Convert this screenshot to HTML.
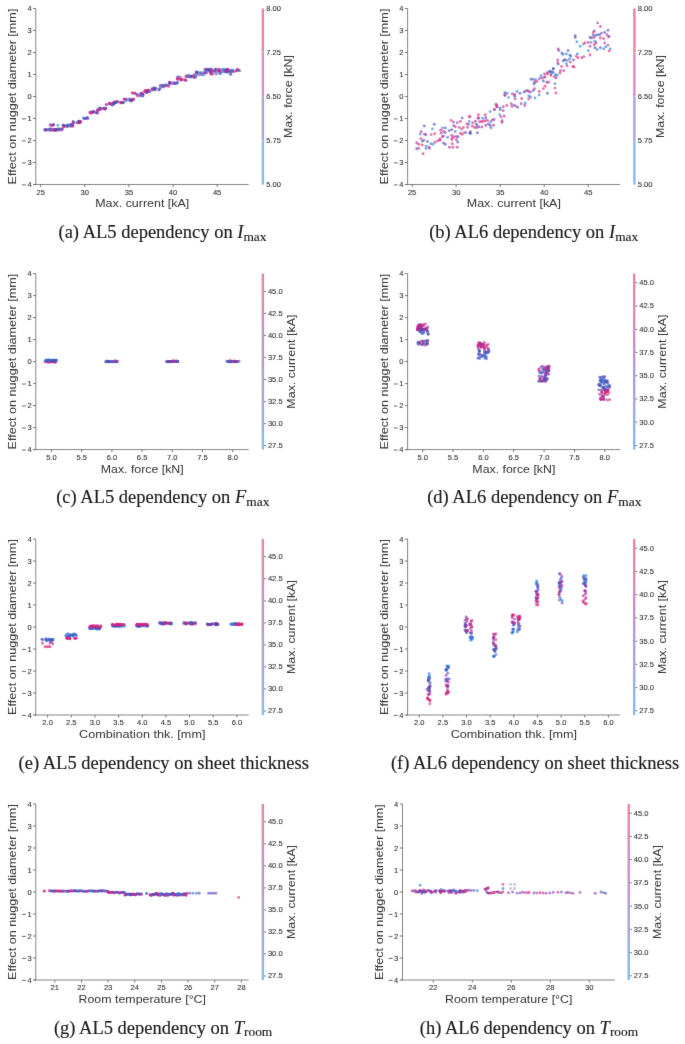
<!DOCTYPE html>
<html><head><meta charset="utf-8"><style>
html,body{margin:0;padding:0;background:#fff;}
svg{display:block;font-family:"Liberation Sans",sans-serif;}
</style></head><body>
<svg width="685" height="1044" viewBox="0 0 685 1044" font-family="Liberation Sans, sans-serif">
<defs><filter id="soft" x="0" y="0" width="685" height="1044" filterUnits="userSpaceOnUse" color-interpolation-filters="sRGB"><feConvolveMatrix order="3" kernelMatrix="0.00524 0.06192 0.00524 0.06192 0.73137 0.06192 0.00524 0.06192 0.00524" edgeMode="duplicate"/></filter></defs>
<g filter="url(#soft)">
<rect width="685" height="1044" fill="#ffffff"/>
<line x1="35.80" y1="8.50" x2="35.80" y2="185.00" stroke="#868686" stroke-width="1.00"/>
<line x1="34.20" y1="184.50" x2="248.70" y2="184.50" stroke="#868686" stroke-width="1.00"/>
<line x1="33.00" y1="184.50" x2="35.80" y2="184.50" stroke="#5a5a5a" stroke-width="0.8"/>
<text x="31.60" y="187.20" font-size="7.92" text-anchor="end" fill="#333333" stroke="#333333" stroke-width="0.10" textLength="4.20" lengthAdjust="spacingAndGlyphs">4</text>
<line x1="22.00" y1="184.90" x2="25.90" y2="184.90" stroke="#5a5a5a" stroke-width="0.9"/>
<line x1="33.00" y1="162.50" x2="35.80" y2="162.50" stroke="#5a5a5a" stroke-width="0.8"/>
<text x="31.60" y="165.20" font-size="7.92" text-anchor="end" fill="#333333" stroke="#333333" stroke-width="0.10" textLength="4.20" lengthAdjust="spacingAndGlyphs">3</text>
<line x1="22.00" y1="162.90" x2="25.90" y2="162.90" stroke="#5a5a5a" stroke-width="0.9"/>
<line x1="33.00" y1="140.50" x2="35.80" y2="140.50" stroke="#5a5a5a" stroke-width="0.8"/>
<text x="31.60" y="143.20" font-size="7.92" text-anchor="end" fill="#333333" stroke="#333333" stroke-width="0.10" textLength="4.20" lengthAdjust="spacingAndGlyphs">2</text>
<line x1="22.00" y1="140.90" x2="25.90" y2="140.90" stroke="#5a5a5a" stroke-width="0.9"/>
<line x1="33.00" y1="118.50" x2="35.80" y2="118.50" stroke="#5a5a5a" stroke-width="0.8"/>
<text x="31.60" y="121.20" font-size="7.92" text-anchor="end" fill="#333333" stroke="#333333" stroke-width="0.10" textLength="4.20" lengthAdjust="spacingAndGlyphs">1</text>
<line x1="22.00" y1="118.90" x2="25.90" y2="118.90" stroke="#5a5a5a" stroke-width="0.9"/>
<line x1="33.00" y1="96.50" x2="35.80" y2="96.50" stroke="#5a5a5a" stroke-width="0.8"/>
<text x="31.60" y="99.20" font-size="7.92" text-anchor="end" fill="#333333" stroke="#333333" stroke-width="0.10" textLength="4.20" lengthAdjust="spacingAndGlyphs">0</text>
<line x1="33.00" y1="74.50" x2="35.80" y2="74.50" stroke="#5a5a5a" stroke-width="0.8"/>
<text x="31.60" y="77.20" font-size="7.92" text-anchor="end" fill="#333333" stroke="#333333" stroke-width="0.10" textLength="4.20" lengthAdjust="spacingAndGlyphs">1</text>
<line x1="33.00" y1="52.50" x2="35.80" y2="52.50" stroke="#5a5a5a" stroke-width="0.8"/>
<text x="31.60" y="55.20" font-size="7.92" text-anchor="end" fill="#333333" stroke="#333333" stroke-width="0.10" textLength="4.20" lengthAdjust="spacingAndGlyphs">2</text>
<line x1="33.00" y1="30.50" x2="35.80" y2="30.50" stroke="#5a5a5a" stroke-width="0.8"/>
<text x="31.60" y="33.20" font-size="7.92" text-anchor="end" fill="#333333" stroke="#333333" stroke-width="0.10" textLength="4.20" lengthAdjust="spacingAndGlyphs">3</text>
<line x1="33.00" y1="8.50" x2="35.80" y2="8.50" stroke="#5a5a5a" stroke-width="0.8"/>
<text x="31.60" y="11.20" font-size="7.92" text-anchor="end" fill="#333333" stroke="#333333" stroke-width="0.10" textLength="4.20" lengthAdjust="spacingAndGlyphs">4</text>
<line x1="40.70" y1="184.50" x2="40.70" y2="187.10" stroke="#5a5a5a" stroke-width="0.8"/>
<text x="40.70" y="194.80" font-size="7.92" text-anchor="middle" fill="#333333" stroke="#333333" stroke-width="0.10" textLength="8.40" lengthAdjust="spacingAndGlyphs">25</text>
<line x1="84.80" y1="184.50" x2="84.80" y2="187.10" stroke="#5a5a5a" stroke-width="0.8"/>
<text x="84.80" y="194.80" font-size="7.92" text-anchor="middle" fill="#333333" stroke="#333333" stroke-width="0.10" textLength="8.40" lengthAdjust="spacingAndGlyphs">30</text>
<line x1="128.90" y1="184.50" x2="128.90" y2="187.10" stroke="#5a5a5a" stroke-width="0.8"/>
<text x="128.90" y="194.80" font-size="7.92" text-anchor="middle" fill="#333333" stroke="#333333" stroke-width="0.10" textLength="8.40" lengthAdjust="spacingAndGlyphs">35</text>
<line x1="173.00" y1="184.50" x2="173.00" y2="187.10" stroke="#5a5a5a" stroke-width="0.8"/>
<text x="173.00" y="194.80" font-size="7.92" text-anchor="middle" fill="#333333" stroke="#333333" stroke-width="0.10" textLength="8.40" lengthAdjust="spacingAndGlyphs">40</text>
<line x1="217.10" y1="184.50" x2="217.10" y2="187.10" stroke="#5a5a5a" stroke-width="0.8"/>
<text x="217.10" y="194.80" font-size="7.92" text-anchor="middle" fill="#333333" stroke="#333333" stroke-width="0.10" textLength="8.40" lengthAdjust="spacingAndGlyphs">45</text>
<text x="142.25" y="207.40" font-size="10.85" text-anchor="middle" fill="#333333" textLength="94.09" lengthAdjust="spacingAndGlyphs">Max. current [kA]</text>
<text x="16.20" y="96.50" font-size="10.85" text-anchor="middle" fill="#333333" textLength="175.78" lengthAdjust="spacingAndGlyphs" transform="rotate(-90 16.20 96.50)">Effect on nugget diameter [mm]</text>
<rect x="261.70" y="140.50" width="2.40" height="44.00" fill="#86bcea"/>
<rect x="261.70" y="96.50" width="2.40" height="44.00" fill="#aaa4da"/>
<rect x="261.70" y="52.50" width="2.40" height="44.00" fill="#d68cc4"/>
<rect x="261.70" y="8.50" width="2.40" height="44.00" fill="#ec82a4"/>
<text x="266.20" y="186.90" font-size="7.92" text-anchor="start" fill="#333333" stroke="#333333" stroke-width="0.10" textLength="14.70" lengthAdjust="spacingAndGlyphs">5.00</text>
<text x="266.20" y="142.90" font-size="7.92" text-anchor="start" fill="#333333" stroke="#333333" stroke-width="0.10" textLength="14.70" lengthAdjust="spacingAndGlyphs">5.75</text>
<text x="266.20" y="98.90" font-size="7.92" text-anchor="start" fill="#333333" stroke="#333333" stroke-width="0.10" textLength="14.70" lengthAdjust="spacingAndGlyphs">6.50</text>
<text x="266.20" y="54.90" font-size="7.92" text-anchor="start" fill="#333333" stroke="#333333" stroke-width="0.10" textLength="14.70" lengthAdjust="spacingAndGlyphs">7.25</text>
<text x="266.20" y="10.90" font-size="7.92" text-anchor="start" fill="#333333" stroke="#333333" stroke-width="0.10" textLength="14.70" lengthAdjust="spacingAndGlyphs">8.00</text>
<text x="292.20" y="96.50" font-size="10.85" text-anchor="middle" fill="#333333" textLength="82.97" lengthAdjust="spacingAndGlyphs" transform="rotate(-90 292.20 96.50)">Max. force [kN]</text>
<text x="58.50" y="238.30" font-family="Liberation Serif" font-size="18.5" fill="#1a1a1a" stroke="#1a1a1a" stroke-width="0.15">(a) AL5 dependency on 
<tspan font-style="italic">I</tspan><tspan font-size="13.4" dy="2.3">max</tspan>
</text>
<line x1="407.60" y1="8.50" x2="407.60" y2="185.00" stroke="#868686" stroke-width="1.00"/>
<line x1="406.00" y1="184.50" x2="620.10" y2="184.50" stroke="#868686" stroke-width="1.00"/>
<line x1="404.80" y1="184.50" x2="407.60" y2="184.50" stroke="#5a5a5a" stroke-width="0.8"/>
<text x="403.40" y="187.20" font-size="7.92" text-anchor="end" fill="#333333" stroke="#333333" stroke-width="0.10" textLength="4.20" lengthAdjust="spacingAndGlyphs">4</text>
<line x1="393.80" y1="184.90" x2="397.70" y2="184.90" stroke="#5a5a5a" stroke-width="0.9"/>
<line x1="404.80" y1="162.50" x2="407.60" y2="162.50" stroke="#5a5a5a" stroke-width="0.8"/>
<text x="403.40" y="165.20" font-size="7.92" text-anchor="end" fill="#333333" stroke="#333333" stroke-width="0.10" textLength="4.20" lengthAdjust="spacingAndGlyphs">3</text>
<line x1="393.80" y1="162.90" x2="397.70" y2="162.90" stroke="#5a5a5a" stroke-width="0.9"/>
<line x1="404.80" y1="140.50" x2="407.60" y2="140.50" stroke="#5a5a5a" stroke-width="0.8"/>
<text x="403.40" y="143.20" font-size="7.92" text-anchor="end" fill="#333333" stroke="#333333" stroke-width="0.10" textLength="4.20" lengthAdjust="spacingAndGlyphs">2</text>
<line x1="393.80" y1="140.90" x2="397.70" y2="140.90" stroke="#5a5a5a" stroke-width="0.9"/>
<line x1="404.80" y1="118.50" x2="407.60" y2="118.50" stroke="#5a5a5a" stroke-width="0.8"/>
<text x="403.40" y="121.20" font-size="7.92" text-anchor="end" fill="#333333" stroke="#333333" stroke-width="0.10" textLength="4.20" lengthAdjust="spacingAndGlyphs">1</text>
<line x1="393.80" y1="118.90" x2="397.70" y2="118.90" stroke="#5a5a5a" stroke-width="0.9"/>
<line x1="404.80" y1="96.50" x2="407.60" y2="96.50" stroke="#5a5a5a" stroke-width="0.8"/>
<text x="403.40" y="99.20" font-size="7.92" text-anchor="end" fill="#333333" stroke="#333333" stroke-width="0.10" textLength="4.20" lengthAdjust="spacingAndGlyphs">0</text>
<line x1="404.80" y1="74.50" x2="407.60" y2="74.50" stroke="#5a5a5a" stroke-width="0.8"/>
<text x="403.40" y="77.20" font-size="7.92" text-anchor="end" fill="#333333" stroke="#333333" stroke-width="0.10" textLength="4.20" lengthAdjust="spacingAndGlyphs">1</text>
<line x1="404.80" y1="52.50" x2="407.60" y2="52.50" stroke="#5a5a5a" stroke-width="0.8"/>
<text x="403.40" y="55.20" font-size="7.92" text-anchor="end" fill="#333333" stroke="#333333" stroke-width="0.10" textLength="4.20" lengthAdjust="spacingAndGlyphs">2</text>
<line x1="404.80" y1="30.50" x2="407.60" y2="30.50" stroke="#5a5a5a" stroke-width="0.8"/>
<text x="403.40" y="33.20" font-size="7.92" text-anchor="end" fill="#333333" stroke="#333333" stroke-width="0.10" textLength="4.20" lengthAdjust="spacingAndGlyphs">3</text>
<line x1="404.80" y1="8.50" x2="407.60" y2="8.50" stroke="#5a5a5a" stroke-width="0.8"/>
<text x="403.40" y="11.20" font-size="7.92" text-anchor="end" fill="#333333" stroke="#333333" stroke-width="0.10" textLength="4.20" lengthAdjust="spacingAndGlyphs">4</text>
<line x1="412.10" y1="184.50" x2="412.10" y2="187.10" stroke="#5a5a5a" stroke-width="0.8"/>
<text x="412.10" y="194.80" font-size="7.92" text-anchor="middle" fill="#333333" stroke="#333333" stroke-width="0.10" textLength="8.40" lengthAdjust="spacingAndGlyphs">25</text>
<line x1="456.15" y1="184.50" x2="456.15" y2="187.10" stroke="#5a5a5a" stroke-width="0.8"/>
<text x="456.15" y="194.80" font-size="7.92" text-anchor="middle" fill="#333333" stroke="#333333" stroke-width="0.10" textLength="8.40" lengthAdjust="spacingAndGlyphs">30</text>
<line x1="500.20" y1="184.50" x2="500.20" y2="187.10" stroke="#5a5a5a" stroke-width="0.8"/>
<text x="500.20" y="194.80" font-size="7.92" text-anchor="middle" fill="#333333" stroke="#333333" stroke-width="0.10" textLength="8.40" lengthAdjust="spacingAndGlyphs">35</text>
<line x1="544.25" y1="184.50" x2="544.25" y2="187.10" stroke="#5a5a5a" stroke-width="0.8"/>
<text x="544.25" y="194.80" font-size="7.92" text-anchor="middle" fill="#333333" stroke="#333333" stroke-width="0.10" textLength="8.40" lengthAdjust="spacingAndGlyphs">40</text>
<line x1="588.30" y1="184.50" x2="588.30" y2="187.10" stroke="#5a5a5a" stroke-width="0.8"/>
<text x="588.30" y="194.80" font-size="7.92" text-anchor="middle" fill="#333333" stroke="#333333" stroke-width="0.10" textLength="8.40" lengthAdjust="spacingAndGlyphs">45</text>
<text x="513.85" y="207.40" font-size="10.85" text-anchor="middle" fill="#333333" textLength="94.09" lengthAdjust="spacingAndGlyphs">Max. current [kA]</text>
<text x="388.00" y="96.50" font-size="10.85" text-anchor="middle" fill="#333333" textLength="175.78" lengthAdjust="spacingAndGlyphs" transform="rotate(-90 388.00 96.50)">Effect on nugget diameter [mm]</text>
<rect x="633.20" y="140.50" width="2.40" height="44.00" fill="#86bcea"/>
<rect x="633.20" y="96.50" width="2.40" height="44.00" fill="#aaa4da"/>
<rect x="633.20" y="52.50" width="2.40" height="44.00" fill="#d68cc4"/>
<rect x="633.20" y="8.50" width="2.40" height="44.00" fill="#ec82a4"/>
<text x="637.70" y="186.90" font-size="7.92" text-anchor="start" fill="#333333" stroke="#333333" stroke-width="0.10" textLength="14.70" lengthAdjust="spacingAndGlyphs">5.00</text>
<text x="637.70" y="142.90" font-size="7.92" text-anchor="start" fill="#333333" stroke="#333333" stroke-width="0.10" textLength="14.70" lengthAdjust="spacingAndGlyphs">5.75</text>
<text x="637.70" y="98.90" font-size="7.92" text-anchor="start" fill="#333333" stroke="#333333" stroke-width="0.10" textLength="14.70" lengthAdjust="spacingAndGlyphs">6.50</text>
<text x="637.70" y="54.90" font-size="7.92" text-anchor="start" fill="#333333" stroke="#333333" stroke-width="0.10" textLength="14.70" lengthAdjust="spacingAndGlyphs">7.25</text>
<text x="637.70" y="10.90" font-size="7.92" text-anchor="start" fill="#333333" stroke="#333333" stroke-width="0.10" textLength="14.70" lengthAdjust="spacingAndGlyphs">8.00</text>
<text x="663.70" y="96.50" font-size="10.85" text-anchor="middle" fill="#333333" textLength="82.97" lengthAdjust="spacingAndGlyphs" transform="rotate(-90 663.70 96.50)">Max. force [kN]</text>
<text x="429.20" y="238.30" font-family="Liberation Serif" font-size="18.5" fill="#1a1a1a" stroke="#1a1a1a" stroke-width="0.15">(b) AL6 dependency on 
<tspan font-style="italic">I</tspan><tspan font-size="13.4" dy="2.3">max</tspan>
</text>
<line x1="35.80" y1="273.60" x2="35.80" y2="450.10" stroke="#868686" stroke-width="1.00"/>
<line x1="34.20" y1="449.60" x2="248.70" y2="449.60" stroke="#868686" stroke-width="1.00"/>
<line x1="33.00" y1="449.60" x2="35.80" y2="449.60" stroke="#5a5a5a" stroke-width="0.8"/>
<text x="31.60" y="452.30" font-size="7.92" text-anchor="end" fill="#333333" stroke="#333333" stroke-width="0.10" textLength="4.20" lengthAdjust="spacingAndGlyphs">4</text>
<line x1="22.00" y1="450.00" x2="25.90" y2="450.00" stroke="#5a5a5a" stroke-width="0.9"/>
<line x1="33.00" y1="427.60" x2="35.80" y2="427.60" stroke="#5a5a5a" stroke-width="0.8"/>
<text x="31.60" y="430.30" font-size="7.92" text-anchor="end" fill="#333333" stroke="#333333" stroke-width="0.10" textLength="4.20" lengthAdjust="spacingAndGlyphs">3</text>
<line x1="22.00" y1="428.00" x2="25.90" y2="428.00" stroke="#5a5a5a" stroke-width="0.9"/>
<line x1="33.00" y1="405.60" x2="35.80" y2="405.60" stroke="#5a5a5a" stroke-width="0.8"/>
<text x="31.60" y="408.30" font-size="7.92" text-anchor="end" fill="#333333" stroke="#333333" stroke-width="0.10" textLength="4.20" lengthAdjust="spacingAndGlyphs">2</text>
<line x1="22.00" y1="406.00" x2="25.90" y2="406.00" stroke="#5a5a5a" stroke-width="0.9"/>
<line x1="33.00" y1="383.60" x2="35.80" y2="383.60" stroke="#5a5a5a" stroke-width="0.8"/>
<text x="31.60" y="386.30" font-size="7.92" text-anchor="end" fill="#333333" stroke="#333333" stroke-width="0.10" textLength="4.20" lengthAdjust="spacingAndGlyphs">1</text>
<line x1="22.00" y1="384.00" x2="25.90" y2="384.00" stroke="#5a5a5a" stroke-width="0.9"/>
<line x1="33.00" y1="361.60" x2="35.80" y2="361.60" stroke="#5a5a5a" stroke-width="0.8"/>
<text x="31.60" y="364.30" font-size="7.92" text-anchor="end" fill="#333333" stroke="#333333" stroke-width="0.10" textLength="4.20" lengthAdjust="spacingAndGlyphs">0</text>
<line x1="33.00" y1="339.60" x2="35.80" y2="339.60" stroke="#5a5a5a" stroke-width="0.8"/>
<text x="31.60" y="342.30" font-size="7.92" text-anchor="end" fill="#333333" stroke="#333333" stroke-width="0.10" textLength="4.20" lengthAdjust="spacingAndGlyphs">1</text>
<line x1="33.00" y1="317.60" x2="35.80" y2="317.60" stroke="#5a5a5a" stroke-width="0.8"/>
<text x="31.60" y="320.30" font-size="7.92" text-anchor="end" fill="#333333" stroke="#333333" stroke-width="0.10" textLength="4.20" lengthAdjust="spacingAndGlyphs">2</text>
<line x1="33.00" y1="295.60" x2="35.80" y2="295.60" stroke="#5a5a5a" stroke-width="0.8"/>
<text x="31.60" y="298.30" font-size="7.92" text-anchor="end" fill="#333333" stroke="#333333" stroke-width="0.10" textLength="4.20" lengthAdjust="spacingAndGlyphs">3</text>
<line x1="33.00" y1="273.60" x2="35.80" y2="273.60" stroke="#5a5a5a" stroke-width="0.8"/>
<text x="31.60" y="276.30" font-size="7.92" text-anchor="end" fill="#333333" stroke="#333333" stroke-width="0.10" textLength="4.20" lengthAdjust="spacingAndGlyphs">4</text>
<line x1="51.50" y1="449.60" x2="51.50" y2="452.20" stroke="#5a5a5a" stroke-width="0.8"/>
<text x="51.50" y="459.90" font-size="7.92" text-anchor="middle" fill="#333333" stroke="#333333" stroke-width="0.10" textLength="10.50" lengthAdjust="spacingAndGlyphs">5.0</text>
<line x1="81.70" y1="449.60" x2="81.70" y2="452.20" stroke="#5a5a5a" stroke-width="0.8"/>
<text x="81.70" y="459.90" font-size="7.92" text-anchor="middle" fill="#333333" stroke="#333333" stroke-width="0.10" textLength="10.50" lengthAdjust="spacingAndGlyphs">5.5</text>
<line x1="111.90" y1="449.60" x2="111.90" y2="452.20" stroke="#5a5a5a" stroke-width="0.8"/>
<text x="111.90" y="459.90" font-size="7.92" text-anchor="middle" fill="#333333" stroke="#333333" stroke-width="0.10" textLength="10.50" lengthAdjust="spacingAndGlyphs">6.0</text>
<line x1="142.10" y1="449.60" x2="142.10" y2="452.20" stroke="#5a5a5a" stroke-width="0.8"/>
<text x="142.10" y="459.90" font-size="7.92" text-anchor="middle" fill="#333333" stroke="#333333" stroke-width="0.10" textLength="10.50" lengthAdjust="spacingAndGlyphs">6.5</text>
<line x1="172.30" y1="449.60" x2="172.30" y2="452.20" stroke="#5a5a5a" stroke-width="0.8"/>
<text x="172.30" y="459.90" font-size="7.92" text-anchor="middle" fill="#333333" stroke="#333333" stroke-width="0.10" textLength="10.50" lengthAdjust="spacingAndGlyphs">7.0</text>
<line x1="202.50" y1="449.60" x2="202.50" y2="452.20" stroke="#5a5a5a" stroke-width="0.8"/>
<text x="202.50" y="459.90" font-size="7.92" text-anchor="middle" fill="#333333" stroke="#333333" stroke-width="0.10" textLength="10.50" lengthAdjust="spacingAndGlyphs">7.5</text>
<line x1="232.70" y1="449.60" x2="232.70" y2="452.20" stroke="#5a5a5a" stroke-width="0.8"/>
<text x="232.70" y="459.90" font-size="7.92" text-anchor="middle" fill="#333333" stroke="#333333" stroke-width="0.10" textLength="10.50" lengthAdjust="spacingAndGlyphs">8.0</text>
<text x="142.25" y="472.50" font-size="10.85" text-anchor="middle" fill="#333333" textLength="82.97" lengthAdjust="spacingAndGlyphs">Max. force [kN]</text>
<text x="16.20" y="361.60" font-size="10.85" text-anchor="middle" fill="#333333" textLength="175.78" lengthAdjust="spacingAndGlyphs" transform="rotate(-90 16.20 361.60)">Effect on nugget diameter [mm]</text>
<defs><linearGradient id="g1_0" x1="0" y1="1" x2="0" y2="0">
<stop offset="0.00" stop-color="#86bcea"/>
<stop offset="0.10" stop-color="#90b4e5"/>
<stop offset="0.20" stop-color="#9bade0"/>
<stop offset="0.30" stop-color="#a5a5da"/>
<stop offset="0.40" stop-color="#b09ed5"/>
<stop offset="0.50" stop-color="#ba96d0"/>
<stop offset="0.60" stop-color="#c492c7"/>
<stop offset="0.70" stop-color="#ce8ebe"/>
<stop offset="0.80" stop-color="#d88ab6"/>
<stop offset="0.90" stop-color="#e286ad"/>
<stop offset="1.00" stop-color="#ec82a4"/>
</linearGradient></defs>
<rect x="261.70" y="273.60" width="2.40" height="176.00" fill="url(#g1_0)"/>
<line x1="264.10" y1="291.40" x2="266.10" y2="291.40" stroke="#5a5a5a" stroke-width="0.8"/>
<text x="267.90" y="293.80" font-size="7.92" text-anchor="start" fill="#333333" stroke="#333333" stroke-width="0.10" textLength="14.70" lengthAdjust="spacingAndGlyphs">45.0</text>
<line x1="264.10" y1="313.43" x2="266.10" y2="313.43" stroke="#5a5a5a" stroke-width="0.8"/>
<text x="267.90" y="315.83" font-size="7.92" text-anchor="start" fill="#333333" stroke="#333333" stroke-width="0.10" textLength="14.70" lengthAdjust="spacingAndGlyphs">42.5</text>
<line x1="264.10" y1="335.46" x2="266.10" y2="335.46" stroke="#5a5a5a" stroke-width="0.8"/>
<text x="267.90" y="337.86" font-size="7.92" text-anchor="start" fill="#333333" stroke="#333333" stroke-width="0.10" textLength="14.70" lengthAdjust="spacingAndGlyphs">40.0</text>
<line x1="264.10" y1="357.49" x2="266.10" y2="357.49" stroke="#5a5a5a" stroke-width="0.8"/>
<text x="267.90" y="359.89" font-size="7.92" text-anchor="start" fill="#333333" stroke="#333333" stroke-width="0.10" textLength="14.70" lengthAdjust="spacingAndGlyphs">37.5</text>
<line x1="264.10" y1="379.52" x2="266.10" y2="379.52" stroke="#5a5a5a" stroke-width="0.8"/>
<text x="267.90" y="381.92" font-size="7.92" text-anchor="start" fill="#333333" stroke="#333333" stroke-width="0.10" textLength="14.70" lengthAdjust="spacingAndGlyphs">35.0</text>
<line x1="264.10" y1="401.55" x2="266.10" y2="401.55" stroke="#5a5a5a" stroke-width="0.8"/>
<text x="267.90" y="403.95" font-size="7.92" text-anchor="start" fill="#333333" stroke="#333333" stroke-width="0.10" textLength="14.70" lengthAdjust="spacingAndGlyphs">32.5</text>
<line x1="264.10" y1="423.58" x2="266.10" y2="423.58" stroke="#5a5a5a" stroke-width="0.8"/>
<text x="267.90" y="425.98" font-size="7.92" text-anchor="start" fill="#333333" stroke="#333333" stroke-width="0.10" textLength="14.70" lengthAdjust="spacingAndGlyphs">30.0</text>
<line x1="264.10" y1="445.61" x2="266.10" y2="445.61" stroke="#5a5a5a" stroke-width="0.8"/>
<text x="267.90" y="448.01" font-size="7.92" text-anchor="start" fill="#333333" stroke="#333333" stroke-width="0.10" textLength="14.70" lengthAdjust="spacingAndGlyphs">27.5</text>
<text x="295.10" y="361.60" font-size="10.85" text-anchor="middle" fill="#333333" textLength="94.09" lengthAdjust="spacingAndGlyphs" transform="rotate(-90 295.10 361.60)">Max. current [kA]</text>
<text x="56.20" y="503.40" font-family="Liberation Serif" font-size="18.5" fill="#1a1a1a" stroke="#1a1a1a" stroke-width="0.15">(c) AL5 dependency on 
<tspan font-style="italic">F</tspan><tspan font-size="13.4" dy="2.3">max</tspan>
</text>
<line x1="407.60" y1="273.60" x2="407.60" y2="450.10" stroke="#868686" stroke-width="1.00"/>
<line x1="406.00" y1="449.60" x2="620.10" y2="449.60" stroke="#868686" stroke-width="1.00"/>
<line x1="404.80" y1="449.60" x2="407.60" y2="449.60" stroke="#5a5a5a" stroke-width="0.8"/>
<text x="403.40" y="452.30" font-size="7.92" text-anchor="end" fill="#333333" stroke="#333333" stroke-width="0.10" textLength="4.20" lengthAdjust="spacingAndGlyphs">4</text>
<line x1="393.80" y1="450.00" x2="397.70" y2="450.00" stroke="#5a5a5a" stroke-width="0.9"/>
<line x1="404.80" y1="427.60" x2="407.60" y2="427.60" stroke="#5a5a5a" stroke-width="0.8"/>
<text x="403.40" y="430.30" font-size="7.92" text-anchor="end" fill="#333333" stroke="#333333" stroke-width="0.10" textLength="4.20" lengthAdjust="spacingAndGlyphs">3</text>
<line x1="393.80" y1="428.00" x2="397.70" y2="428.00" stroke="#5a5a5a" stroke-width="0.9"/>
<line x1="404.80" y1="405.60" x2="407.60" y2="405.60" stroke="#5a5a5a" stroke-width="0.8"/>
<text x="403.40" y="408.30" font-size="7.92" text-anchor="end" fill="#333333" stroke="#333333" stroke-width="0.10" textLength="4.20" lengthAdjust="spacingAndGlyphs">2</text>
<line x1="393.80" y1="406.00" x2="397.70" y2="406.00" stroke="#5a5a5a" stroke-width="0.9"/>
<line x1="404.80" y1="383.60" x2="407.60" y2="383.60" stroke="#5a5a5a" stroke-width="0.8"/>
<text x="403.40" y="386.30" font-size="7.92" text-anchor="end" fill="#333333" stroke="#333333" stroke-width="0.10" textLength="4.20" lengthAdjust="spacingAndGlyphs">1</text>
<line x1="393.80" y1="384.00" x2="397.70" y2="384.00" stroke="#5a5a5a" stroke-width="0.9"/>
<line x1="404.80" y1="361.60" x2="407.60" y2="361.60" stroke="#5a5a5a" stroke-width="0.8"/>
<text x="403.40" y="364.30" font-size="7.92" text-anchor="end" fill="#333333" stroke="#333333" stroke-width="0.10" textLength="4.20" lengthAdjust="spacingAndGlyphs">0</text>
<line x1="404.80" y1="339.60" x2="407.60" y2="339.60" stroke="#5a5a5a" stroke-width="0.8"/>
<text x="403.40" y="342.30" font-size="7.92" text-anchor="end" fill="#333333" stroke="#333333" stroke-width="0.10" textLength="4.20" lengthAdjust="spacingAndGlyphs">1</text>
<line x1="404.80" y1="317.60" x2="407.60" y2="317.60" stroke="#5a5a5a" stroke-width="0.8"/>
<text x="403.40" y="320.30" font-size="7.92" text-anchor="end" fill="#333333" stroke="#333333" stroke-width="0.10" textLength="4.20" lengthAdjust="spacingAndGlyphs">2</text>
<line x1="404.80" y1="295.60" x2="407.60" y2="295.60" stroke="#5a5a5a" stroke-width="0.8"/>
<text x="403.40" y="298.30" font-size="7.92" text-anchor="end" fill="#333333" stroke="#333333" stroke-width="0.10" textLength="4.20" lengthAdjust="spacingAndGlyphs">3</text>
<line x1="404.80" y1="273.60" x2="407.60" y2="273.60" stroke="#5a5a5a" stroke-width="0.8"/>
<text x="403.40" y="276.30" font-size="7.92" text-anchor="end" fill="#333333" stroke="#333333" stroke-width="0.10" textLength="4.20" lengthAdjust="spacingAndGlyphs">4</text>
<line x1="422.70" y1="449.60" x2="422.70" y2="452.20" stroke="#5a5a5a" stroke-width="0.8"/>
<text x="422.70" y="459.90" font-size="7.92" text-anchor="middle" fill="#333333" stroke="#333333" stroke-width="0.10" textLength="10.50" lengthAdjust="spacingAndGlyphs">5.0</text>
<line x1="453.05" y1="449.60" x2="453.05" y2="452.20" stroke="#5a5a5a" stroke-width="0.8"/>
<text x="453.05" y="459.90" font-size="7.92" text-anchor="middle" fill="#333333" stroke="#333333" stroke-width="0.10" textLength="10.50" lengthAdjust="spacingAndGlyphs">5.5</text>
<line x1="483.40" y1="449.60" x2="483.40" y2="452.20" stroke="#5a5a5a" stroke-width="0.8"/>
<text x="483.40" y="459.90" font-size="7.92" text-anchor="middle" fill="#333333" stroke="#333333" stroke-width="0.10" textLength="10.50" lengthAdjust="spacingAndGlyphs">6.0</text>
<line x1="513.75" y1="449.60" x2="513.75" y2="452.20" stroke="#5a5a5a" stroke-width="0.8"/>
<text x="513.75" y="459.90" font-size="7.92" text-anchor="middle" fill="#333333" stroke="#333333" stroke-width="0.10" textLength="10.50" lengthAdjust="spacingAndGlyphs">6.5</text>
<line x1="544.10" y1="449.60" x2="544.10" y2="452.20" stroke="#5a5a5a" stroke-width="0.8"/>
<text x="544.10" y="459.90" font-size="7.92" text-anchor="middle" fill="#333333" stroke="#333333" stroke-width="0.10" textLength="10.50" lengthAdjust="spacingAndGlyphs">7.0</text>
<line x1="574.45" y1="449.60" x2="574.45" y2="452.20" stroke="#5a5a5a" stroke-width="0.8"/>
<text x="574.45" y="459.90" font-size="7.92" text-anchor="middle" fill="#333333" stroke="#333333" stroke-width="0.10" textLength="10.50" lengthAdjust="spacingAndGlyphs">7.5</text>
<line x1="604.80" y1="449.60" x2="604.80" y2="452.20" stroke="#5a5a5a" stroke-width="0.8"/>
<text x="604.80" y="459.90" font-size="7.92" text-anchor="middle" fill="#333333" stroke="#333333" stroke-width="0.10" textLength="10.50" lengthAdjust="spacingAndGlyphs">8.0</text>
<text x="513.85" y="472.50" font-size="10.85" text-anchor="middle" fill="#333333" textLength="82.97" lengthAdjust="spacingAndGlyphs">Max. force [kN]</text>
<text x="388.00" y="361.60" font-size="10.85" text-anchor="middle" fill="#333333" textLength="175.78" lengthAdjust="spacingAndGlyphs" transform="rotate(-90 388.00 361.60)">Effect on nugget diameter [mm]</text>
<defs><linearGradient id="g1_1" x1="0" y1="1" x2="0" y2="0">
<stop offset="0.00" stop-color="#86bcea"/>
<stop offset="0.10" stop-color="#90b4e5"/>
<stop offset="0.20" stop-color="#9bade0"/>
<stop offset="0.30" stop-color="#a5a5da"/>
<stop offset="0.40" stop-color="#b09ed5"/>
<stop offset="0.50" stop-color="#ba96d0"/>
<stop offset="0.60" stop-color="#c492c7"/>
<stop offset="0.70" stop-color="#ce8ebe"/>
<stop offset="0.80" stop-color="#d88ab6"/>
<stop offset="0.90" stop-color="#e286ad"/>
<stop offset="1.00" stop-color="#ec82a4"/>
</linearGradient></defs>
<rect x="633.00" y="273.60" width="2.40" height="176.00" fill="url(#g1_1)"/>
<line x1="635.40" y1="282.80" x2="637.40" y2="282.80" stroke="#5a5a5a" stroke-width="0.8"/>
<text x="639.20" y="285.20" font-size="7.92" text-anchor="start" fill="#333333" stroke="#333333" stroke-width="0.10" textLength="14.70" lengthAdjust="spacingAndGlyphs">45.0</text>
<line x1="635.40" y1="306.03" x2="637.40" y2="306.03" stroke="#5a5a5a" stroke-width="0.8"/>
<text x="639.20" y="308.43" font-size="7.92" text-anchor="start" fill="#333333" stroke="#333333" stroke-width="0.10" textLength="14.70" lengthAdjust="spacingAndGlyphs">42.5</text>
<line x1="635.40" y1="329.26" x2="637.40" y2="329.26" stroke="#5a5a5a" stroke-width="0.8"/>
<text x="639.20" y="331.66" font-size="7.92" text-anchor="start" fill="#333333" stroke="#333333" stroke-width="0.10" textLength="14.70" lengthAdjust="spacingAndGlyphs">40.0</text>
<line x1="635.40" y1="352.49" x2="637.40" y2="352.49" stroke="#5a5a5a" stroke-width="0.8"/>
<text x="639.20" y="354.89" font-size="7.92" text-anchor="start" fill="#333333" stroke="#333333" stroke-width="0.10" textLength="14.70" lengthAdjust="spacingAndGlyphs">37.5</text>
<line x1="635.40" y1="375.72" x2="637.40" y2="375.72" stroke="#5a5a5a" stroke-width="0.8"/>
<text x="639.20" y="378.12" font-size="7.92" text-anchor="start" fill="#333333" stroke="#333333" stroke-width="0.10" textLength="14.70" lengthAdjust="spacingAndGlyphs">35.0</text>
<line x1="635.40" y1="398.95" x2="637.40" y2="398.95" stroke="#5a5a5a" stroke-width="0.8"/>
<text x="639.20" y="401.35" font-size="7.92" text-anchor="start" fill="#333333" stroke="#333333" stroke-width="0.10" textLength="14.70" lengthAdjust="spacingAndGlyphs">32.5</text>
<line x1="635.40" y1="422.18" x2="637.40" y2="422.18" stroke="#5a5a5a" stroke-width="0.8"/>
<text x="639.20" y="424.58" font-size="7.92" text-anchor="start" fill="#333333" stroke="#333333" stroke-width="0.10" textLength="14.70" lengthAdjust="spacingAndGlyphs">30.0</text>
<line x1="635.40" y1="445.41" x2="637.40" y2="445.41" stroke="#5a5a5a" stroke-width="0.8"/>
<text x="639.20" y="447.81" font-size="7.92" text-anchor="start" fill="#333333" stroke="#333333" stroke-width="0.10" textLength="14.70" lengthAdjust="spacingAndGlyphs">27.5</text>
<text x="665.80" y="361.60" font-size="10.85" text-anchor="middle" fill="#333333" textLength="94.09" lengthAdjust="spacingAndGlyphs" transform="rotate(-90 665.80 361.60)">Max. current [kA]</text>
<text x="427.20" y="503.40" font-family="Liberation Serif" font-size="18.5" fill="#1a1a1a" stroke="#1a1a1a" stroke-width="0.15">(d) AL6 dependency on 
<tspan font-style="italic">F</tspan><tspan font-size="13.4" dy="2.3">max</tspan>
</text>
<line x1="35.80" y1="539.00" x2="35.80" y2="715.50" stroke="#868686" stroke-width="1.00"/>
<line x1="34.20" y1="715.00" x2="248.70" y2="715.00" stroke="#868686" stroke-width="1.00"/>
<line x1="33.00" y1="715.00" x2="35.80" y2="715.00" stroke="#5a5a5a" stroke-width="0.8"/>
<text x="31.60" y="717.70" font-size="7.92" text-anchor="end" fill="#333333" stroke="#333333" stroke-width="0.10" textLength="4.20" lengthAdjust="spacingAndGlyphs">4</text>
<line x1="22.00" y1="715.40" x2="25.90" y2="715.40" stroke="#5a5a5a" stroke-width="0.9"/>
<line x1="33.00" y1="693.00" x2="35.80" y2="693.00" stroke="#5a5a5a" stroke-width="0.8"/>
<text x="31.60" y="695.70" font-size="7.92" text-anchor="end" fill="#333333" stroke="#333333" stroke-width="0.10" textLength="4.20" lengthAdjust="spacingAndGlyphs">3</text>
<line x1="22.00" y1="693.40" x2="25.90" y2="693.40" stroke="#5a5a5a" stroke-width="0.9"/>
<line x1="33.00" y1="671.00" x2="35.80" y2="671.00" stroke="#5a5a5a" stroke-width="0.8"/>
<text x="31.60" y="673.70" font-size="7.92" text-anchor="end" fill="#333333" stroke="#333333" stroke-width="0.10" textLength="4.20" lengthAdjust="spacingAndGlyphs">2</text>
<line x1="22.00" y1="671.40" x2="25.90" y2="671.40" stroke="#5a5a5a" stroke-width="0.9"/>
<line x1="33.00" y1="649.00" x2="35.80" y2="649.00" stroke="#5a5a5a" stroke-width="0.8"/>
<text x="31.60" y="651.70" font-size="7.92" text-anchor="end" fill="#333333" stroke="#333333" stroke-width="0.10" textLength="4.20" lengthAdjust="spacingAndGlyphs">1</text>
<line x1="22.00" y1="649.40" x2="25.90" y2="649.40" stroke="#5a5a5a" stroke-width="0.9"/>
<line x1="33.00" y1="627.00" x2="35.80" y2="627.00" stroke="#5a5a5a" stroke-width="0.8"/>
<text x="31.60" y="629.70" font-size="7.92" text-anchor="end" fill="#333333" stroke="#333333" stroke-width="0.10" textLength="4.20" lengthAdjust="spacingAndGlyphs">0</text>
<line x1="33.00" y1="605.00" x2="35.80" y2="605.00" stroke="#5a5a5a" stroke-width="0.8"/>
<text x="31.60" y="607.70" font-size="7.92" text-anchor="end" fill="#333333" stroke="#333333" stroke-width="0.10" textLength="4.20" lengthAdjust="spacingAndGlyphs">1</text>
<line x1="33.00" y1="583.00" x2="35.80" y2="583.00" stroke="#5a5a5a" stroke-width="0.8"/>
<text x="31.60" y="585.70" font-size="7.92" text-anchor="end" fill="#333333" stroke="#333333" stroke-width="0.10" textLength="4.20" lengthAdjust="spacingAndGlyphs">2</text>
<line x1="33.00" y1="561.00" x2="35.80" y2="561.00" stroke="#5a5a5a" stroke-width="0.8"/>
<text x="31.60" y="563.70" font-size="7.92" text-anchor="end" fill="#333333" stroke="#333333" stroke-width="0.10" textLength="4.20" lengthAdjust="spacingAndGlyphs">3</text>
<line x1="33.00" y1="539.00" x2="35.80" y2="539.00" stroke="#5a5a5a" stroke-width="0.8"/>
<text x="31.60" y="541.70" font-size="7.92" text-anchor="end" fill="#333333" stroke="#333333" stroke-width="0.10" textLength="4.20" lengthAdjust="spacingAndGlyphs">4</text>
<line x1="47.60" y1="715.00" x2="47.60" y2="717.60" stroke="#5a5a5a" stroke-width="0.8"/>
<text x="47.60" y="725.30" font-size="7.92" text-anchor="middle" fill="#333333" stroke="#333333" stroke-width="0.10" textLength="10.50" lengthAdjust="spacingAndGlyphs">2.0</text>
<line x1="71.26" y1="715.00" x2="71.26" y2="717.60" stroke="#5a5a5a" stroke-width="0.8"/>
<text x="71.26" y="725.30" font-size="7.92" text-anchor="middle" fill="#333333" stroke="#333333" stroke-width="0.10" textLength="10.50" lengthAdjust="spacingAndGlyphs">2.5</text>
<line x1="94.93" y1="715.00" x2="94.93" y2="717.60" stroke="#5a5a5a" stroke-width="0.8"/>
<text x="94.93" y="725.30" font-size="7.92" text-anchor="middle" fill="#333333" stroke="#333333" stroke-width="0.10" textLength="10.50" lengthAdjust="spacingAndGlyphs">3.0</text>
<line x1="118.59" y1="715.00" x2="118.59" y2="717.60" stroke="#5a5a5a" stroke-width="0.8"/>
<text x="118.59" y="725.30" font-size="7.92" text-anchor="middle" fill="#333333" stroke="#333333" stroke-width="0.10" textLength="10.50" lengthAdjust="spacingAndGlyphs">3.5</text>
<line x1="142.25" y1="715.00" x2="142.25" y2="717.60" stroke="#5a5a5a" stroke-width="0.8"/>
<text x="142.25" y="725.30" font-size="7.92" text-anchor="middle" fill="#333333" stroke="#333333" stroke-width="0.10" textLength="10.50" lengthAdjust="spacingAndGlyphs">4.0</text>
<line x1="165.91" y1="715.00" x2="165.91" y2="717.60" stroke="#5a5a5a" stroke-width="0.8"/>
<text x="165.91" y="725.30" font-size="7.92" text-anchor="middle" fill="#333333" stroke="#333333" stroke-width="0.10" textLength="10.50" lengthAdjust="spacingAndGlyphs">4.5</text>
<line x1="189.58" y1="715.00" x2="189.58" y2="717.60" stroke="#5a5a5a" stroke-width="0.8"/>
<text x="189.58" y="725.30" font-size="7.92" text-anchor="middle" fill="#333333" stroke="#333333" stroke-width="0.10" textLength="10.50" lengthAdjust="spacingAndGlyphs">5.0</text>
<line x1="213.24" y1="715.00" x2="213.24" y2="717.60" stroke="#5a5a5a" stroke-width="0.8"/>
<text x="213.24" y="725.30" font-size="7.92" text-anchor="middle" fill="#333333" stroke="#333333" stroke-width="0.10" textLength="10.50" lengthAdjust="spacingAndGlyphs">5.5</text>
<line x1="236.90" y1="715.00" x2="236.90" y2="717.60" stroke="#5a5a5a" stroke-width="0.8"/>
<text x="236.90" y="725.30" font-size="7.92" text-anchor="middle" fill="#333333" stroke="#333333" stroke-width="0.10" textLength="10.50" lengthAdjust="spacingAndGlyphs">6.0</text>
<text x="142.25" y="737.90" font-size="10.85" text-anchor="middle" fill="#333333" textLength="126.36" lengthAdjust="spacingAndGlyphs">Combination thk. [mm]</text>
<text x="16.20" y="627.00" font-size="10.85" text-anchor="middle" fill="#333333" textLength="175.78" lengthAdjust="spacingAndGlyphs" transform="rotate(-90 16.20 627.00)">Effect on nugget diameter [mm]</text>
<defs><linearGradient id="g2_0" x1="0" y1="1" x2="0" y2="0">
<stop offset="0.00" stop-color="#86bcea"/>
<stop offset="0.10" stop-color="#90b4e5"/>
<stop offset="0.20" stop-color="#9bade0"/>
<stop offset="0.30" stop-color="#a5a5da"/>
<stop offset="0.40" stop-color="#b09ed5"/>
<stop offset="0.50" stop-color="#ba96d0"/>
<stop offset="0.60" stop-color="#c492c7"/>
<stop offset="0.70" stop-color="#ce8ebe"/>
<stop offset="0.80" stop-color="#d88ab6"/>
<stop offset="0.90" stop-color="#e286ad"/>
<stop offset="1.00" stop-color="#ec82a4"/>
</linearGradient></defs>
<rect x="261.70" y="539.00" width="2.40" height="176.00" fill="url(#g2_0)"/>
<line x1="264.10" y1="556.80" x2="266.10" y2="556.80" stroke="#5a5a5a" stroke-width="0.8"/>
<text x="267.90" y="559.20" font-size="7.92" text-anchor="start" fill="#333333" stroke="#333333" stroke-width="0.10" textLength="14.70" lengthAdjust="spacingAndGlyphs">45.0</text>
<line x1="264.10" y1="578.83" x2="266.10" y2="578.83" stroke="#5a5a5a" stroke-width="0.8"/>
<text x="267.90" y="581.23" font-size="7.92" text-anchor="start" fill="#333333" stroke="#333333" stroke-width="0.10" textLength="14.70" lengthAdjust="spacingAndGlyphs">42.5</text>
<line x1="264.10" y1="600.86" x2="266.10" y2="600.86" stroke="#5a5a5a" stroke-width="0.8"/>
<text x="267.90" y="603.26" font-size="7.92" text-anchor="start" fill="#333333" stroke="#333333" stroke-width="0.10" textLength="14.70" lengthAdjust="spacingAndGlyphs">40.0</text>
<line x1="264.10" y1="622.89" x2="266.10" y2="622.89" stroke="#5a5a5a" stroke-width="0.8"/>
<text x="267.90" y="625.29" font-size="7.92" text-anchor="start" fill="#333333" stroke="#333333" stroke-width="0.10" textLength="14.70" lengthAdjust="spacingAndGlyphs">37.5</text>
<line x1="264.10" y1="644.92" x2="266.10" y2="644.92" stroke="#5a5a5a" stroke-width="0.8"/>
<text x="267.90" y="647.32" font-size="7.92" text-anchor="start" fill="#333333" stroke="#333333" stroke-width="0.10" textLength="14.70" lengthAdjust="spacingAndGlyphs">35.0</text>
<line x1="264.10" y1="666.95" x2="266.10" y2="666.95" stroke="#5a5a5a" stroke-width="0.8"/>
<text x="267.90" y="669.35" font-size="7.92" text-anchor="start" fill="#333333" stroke="#333333" stroke-width="0.10" textLength="14.70" lengthAdjust="spacingAndGlyphs">32.5</text>
<line x1="264.10" y1="688.98" x2="266.10" y2="688.98" stroke="#5a5a5a" stroke-width="0.8"/>
<text x="267.90" y="691.38" font-size="7.92" text-anchor="start" fill="#333333" stroke="#333333" stroke-width="0.10" textLength="14.70" lengthAdjust="spacingAndGlyphs">30.0</text>
<line x1="264.10" y1="711.01" x2="266.10" y2="711.01" stroke="#5a5a5a" stroke-width="0.8"/>
<text x="267.90" y="713.41" font-size="7.92" text-anchor="start" fill="#333333" stroke="#333333" stroke-width="0.10" textLength="14.70" lengthAdjust="spacingAndGlyphs">27.5</text>
<text x="295.10" y="627.00" font-size="10.85" text-anchor="middle" fill="#333333" textLength="94.09" lengthAdjust="spacingAndGlyphs" transform="rotate(-90 295.10 627.00)">Max. current [kA]</text>
<text x="18.60" y="768.80" font-family="Liberation Serif" font-size="18.5" fill="#1a1a1a" stroke="#1a1a1a" stroke-width="0.15">(e) AL5 dependency on sheet thickness
</text>
<line x1="407.60" y1="539.00" x2="407.60" y2="715.50" stroke="#868686" stroke-width="1.00"/>
<line x1="406.00" y1="715.00" x2="620.10" y2="715.00" stroke="#868686" stroke-width="1.00"/>
<line x1="404.80" y1="715.00" x2="407.60" y2="715.00" stroke="#5a5a5a" stroke-width="0.8"/>
<text x="403.40" y="717.70" font-size="7.92" text-anchor="end" fill="#333333" stroke="#333333" stroke-width="0.10" textLength="4.20" lengthAdjust="spacingAndGlyphs">4</text>
<line x1="393.80" y1="715.40" x2="397.70" y2="715.40" stroke="#5a5a5a" stroke-width="0.9"/>
<line x1="404.80" y1="693.00" x2="407.60" y2="693.00" stroke="#5a5a5a" stroke-width="0.8"/>
<text x="403.40" y="695.70" font-size="7.92" text-anchor="end" fill="#333333" stroke="#333333" stroke-width="0.10" textLength="4.20" lengthAdjust="spacingAndGlyphs">3</text>
<line x1="393.80" y1="693.40" x2="397.70" y2="693.40" stroke="#5a5a5a" stroke-width="0.9"/>
<line x1="404.80" y1="671.00" x2="407.60" y2="671.00" stroke="#5a5a5a" stroke-width="0.8"/>
<text x="403.40" y="673.70" font-size="7.92" text-anchor="end" fill="#333333" stroke="#333333" stroke-width="0.10" textLength="4.20" lengthAdjust="spacingAndGlyphs">2</text>
<line x1="393.80" y1="671.40" x2="397.70" y2="671.40" stroke="#5a5a5a" stroke-width="0.9"/>
<line x1="404.80" y1="649.00" x2="407.60" y2="649.00" stroke="#5a5a5a" stroke-width="0.8"/>
<text x="403.40" y="651.70" font-size="7.92" text-anchor="end" fill="#333333" stroke="#333333" stroke-width="0.10" textLength="4.20" lengthAdjust="spacingAndGlyphs">1</text>
<line x1="393.80" y1="649.40" x2="397.70" y2="649.40" stroke="#5a5a5a" stroke-width="0.9"/>
<line x1="404.80" y1="627.00" x2="407.60" y2="627.00" stroke="#5a5a5a" stroke-width="0.8"/>
<text x="403.40" y="629.70" font-size="7.92" text-anchor="end" fill="#333333" stroke="#333333" stroke-width="0.10" textLength="4.20" lengthAdjust="spacingAndGlyphs">0</text>
<line x1="404.80" y1="605.00" x2="407.60" y2="605.00" stroke="#5a5a5a" stroke-width="0.8"/>
<text x="403.40" y="607.70" font-size="7.92" text-anchor="end" fill="#333333" stroke="#333333" stroke-width="0.10" textLength="4.20" lengthAdjust="spacingAndGlyphs">1</text>
<line x1="404.80" y1="583.00" x2="407.60" y2="583.00" stroke="#5a5a5a" stroke-width="0.8"/>
<text x="403.40" y="585.70" font-size="7.92" text-anchor="end" fill="#333333" stroke="#333333" stroke-width="0.10" textLength="4.20" lengthAdjust="spacingAndGlyphs">2</text>
<line x1="404.80" y1="561.00" x2="407.60" y2="561.00" stroke="#5a5a5a" stroke-width="0.8"/>
<text x="403.40" y="563.70" font-size="7.92" text-anchor="end" fill="#333333" stroke="#333333" stroke-width="0.10" textLength="4.20" lengthAdjust="spacingAndGlyphs">3</text>
<line x1="404.80" y1="539.00" x2="407.60" y2="539.00" stroke="#5a5a5a" stroke-width="0.8"/>
<text x="403.40" y="541.70" font-size="7.92" text-anchor="end" fill="#333333" stroke="#333333" stroke-width="0.10" textLength="4.20" lengthAdjust="spacingAndGlyphs">4</text>
<line x1="419.20" y1="715.00" x2="419.20" y2="717.60" stroke="#5a5a5a" stroke-width="0.8"/>
<text x="419.20" y="725.30" font-size="7.92" text-anchor="middle" fill="#333333" stroke="#333333" stroke-width="0.10" textLength="10.50" lengthAdjust="spacingAndGlyphs">2.0</text>
<line x1="442.85" y1="715.00" x2="442.85" y2="717.60" stroke="#5a5a5a" stroke-width="0.8"/>
<text x="442.85" y="725.30" font-size="7.92" text-anchor="middle" fill="#333333" stroke="#333333" stroke-width="0.10" textLength="10.50" lengthAdjust="spacingAndGlyphs">2.5</text>
<line x1="466.50" y1="715.00" x2="466.50" y2="717.60" stroke="#5a5a5a" stroke-width="0.8"/>
<text x="466.50" y="725.30" font-size="7.92" text-anchor="middle" fill="#333333" stroke="#333333" stroke-width="0.10" textLength="10.50" lengthAdjust="spacingAndGlyphs">3.0</text>
<line x1="490.15" y1="715.00" x2="490.15" y2="717.60" stroke="#5a5a5a" stroke-width="0.8"/>
<text x="490.15" y="725.30" font-size="7.92" text-anchor="middle" fill="#333333" stroke="#333333" stroke-width="0.10" textLength="10.50" lengthAdjust="spacingAndGlyphs">3.5</text>
<line x1="513.80" y1="715.00" x2="513.80" y2="717.60" stroke="#5a5a5a" stroke-width="0.8"/>
<text x="513.80" y="725.30" font-size="7.92" text-anchor="middle" fill="#333333" stroke="#333333" stroke-width="0.10" textLength="10.50" lengthAdjust="spacingAndGlyphs">4.0</text>
<line x1="537.45" y1="715.00" x2="537.45" y2="717.60" stroke="#5a5a5a" stroke-width="0.8"/>
<text x="537.45" y="725.30" font-size="7.92" text-anchor="middle" fill="#333333" stroke="#333333" stroke-width="0.10" textLength="10.50" lengthAdjust="spacingAndGlyphs">4.5</text>
<line x1="561.10" y1="715.00" x2="561.10" y2="717.60" stroke="#5a5a5a" stroke-width="0.8"/>
<text x="561.10" y="725.30" font-size="7.92" text-anchor="middle" fill="#333333" stroke="#333333" stroke-width="0.10" textLength="10.50" lengthAdjust="spacingAndGlyphs">5.0</text>
<line x1="584.75" y1="715.00" x2="584.75" y2="717.60" stroke="#5a5a5a" stroke-width="0.8"/>
<text x="584.75" y="725.30" font-size="7.92" text-anchor="middle" fill="#333333" stroke="#333333" stroke-width="0.10" textLength="10.50" lengthAdjust="spacingAndGlyphs">5.5</text>
<line x1="608.40" y1="715.00" x2="608.40" y2="717.60" stroke="#5a5a5a" stroke-width="0.8"/>
<text x="608.40" y="725.30" font-size="7.92" text-anchor="middle" fill="#333333" stroke="#333333" stroke-width="0.10" textLength="10.50" lengthAdjust="spacingAndGlyphs">6.0</text>
<text x="513.85" y="737.90" font-size="10.85" text-anchor="middle" fill="#333333" textLength="126.36" lengthAdjust="spacingAndGlyphs">Combination thk. [mm]</text>
<text x="388.00" y="627.00" font-size="10.85" text-anchor="middle" fill="#333333" textLength="175.78" lengthAdjust="spacingAndGlyphs" transform="rotate(-90 388.00 627.00)">Effect on nugget diameter [mm]</text>
<defs><linearGradient id="g2_1" x1="0" y1="1" x2="0" y2="0">
<stop offset="0.00" stop-color="#86bcea"/>
<stop offset="0.10" stop-color="#90b4e5"/>
<stop offset="0.20" stop-color="#9bade0"/>
<stop offset="0.30" stop-color="#a5a5da"/>
<stop offset="0.40" stop-color="#b09ed5"/>
<stop offset="0.50" stop-color="#ba96d0"/>
<stop offset="0.60" stop-color="#c492c7"/>
<stop offset="0.70" stop-color="#ce8ebe"/>
<stop offset="0.80" stop-color="#d88ab6"/>
<stop offset="0.90" stop-color="#e286ad"/>
<stop offset="1.00" stop-color="#ec82a4"/>
</linearGradient></defs>
<rect x="633.00" y="539.00" width="2.40" height="176.00" fill="url(#g2_1)"/>
<line x1="635.40" y1="548.20" x2="637.40" y2="548.20" stroke="#5a5a5a" stroke-width="0.8"/>
<text x="639.20" y="550.60" font-size="7.92" text-anchor="start" fill="#333333" stroke="#333333" stroke-width="0.10" textLength="14.70" lengthAdjust="spacingAndGlyphs">45.0</text>
<line x1="635.40" y1="571.43" x2="637.40" y2="571.43" stroke="#5a5a5a" stroke-width="0.8"/>
<text x="639.20" y="573.83" font-size="7.92" text-anchor="start" fill="#333333" stroke="#333333" stroke-width="0.10" textLength="14.70" lengthAdjust="spacingAndGlyphs">42.5</text>
<line x1="635.40" y1="594.66" x2="637.40" y2="594.66" stroke="#5a5a5a" stroke-width="0.8"/>
<text x="639.20" y="597.06" font-size="7.92" text-anchor="start" fill="#333333" stroke="#333333" stroke-width="0.10" textLength="14.70" lengthAdjust="spacingAndGlyphs">40.0</text>
<line x1="635.40" y1="617.89" x2="637.40" y2="617.89" stroke="#5a5a5a" stroke-width="0.8"/>
<text x="639.20" y="620.29" font-size="7.92" text-anchor="start" fill="#333333" stroke="#333333" stroke-width="0.10" textLength="14.70" lengthAdjust="spacingAndGlyphs">37.5</text>
<line x1="635.40" y1="641.12" x2="637.40" y2="641.12" stroke="#5a5a5a" stroke-width="0.8"/>
<text x="639.20" y="643.52" font-size="7.92" text-anchor="start" fill="#333333" stroke="#333333" stroke-width="0.10" textLength="14.70" lengthAdjust="spacingAndGlyphs">35.0</text>
<line x1="635.40" y1="664.35" x2="637.40" y2="664.35" stroke="#5a5a5a" stroke-width="0.8"/>
<text x="639.20" y="666.75" font-size="7.92" text-anchor="start" fill="#333333" stroke="#333333" stroke-width="0.10" textLength="14.70" lengthAdjust="spacingAndGlyphs">32.5</text>
<line x1="635.40" y1="687.58" x2="637.40" y2="687.58" stroke="#5a5a5a" stroke-width="0.8"/>
<text x="639.20" y="689.98" font-size="7.92" text-anchor="start" fill="#333333" stroke="#333333" stroke-width="0.10" textLength="14.70" lengthAdjust="spacingAndGlyphs">30.0</text>
<line x1="635.40" y1="710.81" x2="637.40" y2="710.81" stroke="#5a5a5a" stroke-width="0.8"/>
<text x="639.20" y="713.21" font-size="7.92" text-anchor="start" fill="#333333" stroke="#333333" stroke-width="0.10" textLength="14.70" lengthAdjust="spacingAndGlyphs">27.5</text>
<text x="665.80" y="627.00" font-size="10.85" text-anchor="middle" fill="#333333" textLength="94.09" lengthAdjust="spacingAndGlyphs" transform="rotate(-90 665.80 627.00)">Max. current [kA]</text>
<text x="390.90" y="768.80" font-family="Liberation Serif" font-size="18.5" fill="#1a1a1a" stroke="#1a1a1a" stroke-width="0.15">(f) AL6 dependency on sheet thickness
</text>
<line x1="35.80" y1="804.00" x2="35.80" y2="980.50" stroke="#868686" stroke-width="1.00"/>
<line x1="34.20" y1="980.00" x2="248.70" y2="980.00" stroke="#868686" stroke-width="1.00"/>
<line x1="33.00" y1="980.00" x2="35.80" y2="980.00" stroke="#5a5a5a" stroke-width="0.8"/>
<text x="31.60" y="982.70" font-size="7.92" text-anchor="end" fill="#333333" stroke="#333333" stroke-width="0.10" textLength="4.20" lengthAdjust="spacingAndGlyphs">4</text>
<line x1="22.00" y1="980.40" x2="25.90" y2="980.40" stroke="#5a5a5a" stroke-width="0.9"/>
<line x1="33.00" y1="958.00" x2="35.80" y2="958.00" stroke="#5a5a5a" stroke-width="0.8"/>
<text x="31.60" y="960.70" font-size="7.92" text-anchor="end" fill="#333333" stroke="#333333" stroke-width="0.10" textLength="4.20" lengthAdjust="spacingAndGlyphs">3</text>
<line x1="22.00" y1="958.40" x2="25.90" y2="958.40" stroke="#5a5a5a" stroke-width="0.9"/>
<line x1="33.00" y1="936.00" x2="35.80" y2="936.00" stroke="#5a5a5a" stroke-width="0.8"/>
<text x="31.60" y="938.70" font-size="7.92" text-anchor="end" fill="#333333" stroke="#333333" stroke-width="0.10" textLength="4.20" lengthAdjust="spacingAndGlyphs">2</text>
<line x1="22.00" y1="936.40" x2="25.90" y2="936.40" stroke="#5a5a5a" stroke-width="0.9"/>
<line x1="33.00" y1="914.00" x2="35.80" y2="914.00" stroke="#5a5a5a" stroke-width="0.8"/>
<text x="31.60" y="916.70" font-size="7.92" text-anchor="end" fill="#333333" stroke="#333333" stroke-width="0.10" textLength="4.20" lengthAdjust="spacingAndGlyphs">1</text>
<line x1="22.00" y1="914.40" x2="25.90" y2="914.40" stroke="#5a5a5a" stroke-width="0.9"/>
<line x1="33.00" y1="892.00" x2="35.80" y2="892.00" stroke="#5a5a5a" stroke-width="0.8"/>
<text x="31.60" y="894.70" font-size="7.92" text-anchor="end" fill="#333333" stroke="#333333" stroke-width="0.10" textLength="4.20" lengthAdjust="spacingAndGlyphs">0</text>
<line x1="33.00" y1="870.00" x2="35.80" y2="870.00" stroke="#5a5a5a" stroke-width="0.8"/>
<text x="31.60" y="872.70" font-size="7.92" text-anchor="end" fill="#333333" stroke="#333333" stroke-width="0.10" textLength="4.20" lengthAdjust="spacingAndGlyphs">1</text>
<line x1="33.00" y1="848.00" x2="35.80" y2="848.00" stroke="#5a5a5a" stroke-width="0.8"/>
<text x="31.60" y="850.70" font-size="7.92" text-anchor="end" fill="#333333" stroke="#333333" stroke-width="0.10" textLength="4.20" lengthAdjust="spacingAndGlyphs">2</text>
<line x1="33.00" y1="826.00" x2="35.80" y2="826.00" stroke="#5a5a5a" stroke-width="0.8"/>
<text x="31.60" y="828.70" font-size="7.92" text-anchor="end" fill="#333333" stroke="#333333" stroke-width="0.10" textLength="4.20" lengthAdjust="spacingAndGlyphs">3</text>
<line x1="33.00" y1="804.00" x2="35.80" y2="804.00" stroke="#5a5a5a" stroke-width="0.8"/>
<text x="31.60" y="806.70" font-size="7.92" text-anchor="end" fill="#333333" stroke="#333333" stroke-width="0.10" textLength="4.20" lengthAdjust="spacingAndGlyphs">4</text>
<line x1="54.80" y1="980.00" x2="54.80" y2="982.60" stroke="#5a5a5a" stroke-width="0.8"/>
<text x="54.80" y="990.30" font-size="7.92" text-anchor="middle" fill="#333333" stroke="#333333" stroke-width="0.10" textLength="8.40" lengthAdjust="spacingAndGlyphs">21</text>
<line x1="81.46" y1="980.00" x2="81.46" y2="982.60" stroke="#5a5a5a" stroke-width="0.8"/>
<text x="81.46" y="990.30" font-size="7.92" text-anchor="middle" fill="#333333" stroke="#333333" stroke-width="0.10" textLength="8.40" lengthAdjust="spacingAndGlyphs">22</text>
<line x1="108.11" y1="980.00" x2="108.11" y2="982.60" stroke="#5a5a5a" stroke-width="0.8"/>
<text x="108.11" y="990.30" font-size="7.92" text-anchor="middle" fill="#333333" stroke="#333333" stroke-width="0.10" textLength="8.40" lengthAdjust="spacingAndGlyphs">23</text>
<line x1="134.77" y1="980.00" x2="134.77" y2="982.60" stroke="#5a5a5a" stroke-width="0.8"/>
<text x="134.77" y="990.30" font-size="7.92" text-anchor="middle" fill="#333333" stroke="#333333" stroke-width="0.10" textLength="8.40" lengthAdjust="spacingAndGlyphs">24</text>
<line x1="161.43" y1="980.00" x2="161.43" y2="982.60" stroke="#5a5a5a" stroke-width="0.8"/>
<text x="161.43" y="990.30" font-size="7.92" text-anchor="middle" fill="#333333" stroke="#333333" stroke-width="0.10" textLength="8.40" lengthAdjust="spacingAndGlyphs">25</text>
<line x1="188.09" y1="980.00" x2="188.09" y2="982.60" stroke="#5a5a5a" stroke-width="0.8"/>
<text x="188.09" y="990.30" font-size="7.92" text-anchor="middle" fill="#333333" stroke="#333333" stroke-width="0.10" textLength="8.40" lengthAdjust="spacingAndGlyphs">26</text>
<line x1="214.74" y1="980.00" x2="214.74" y2="982.60" stroke="#5a5a5a" stroke-width="0.8"/>
<text x="214.74" y="990.30" font-size="7.92" text-anchor="middle" fill="#333333" stroke="#333333" stroke-width="0.10" textLength="8.40" lengthAdjust="spacingAndGlyphs">27</text>
<line x1="241.40" y1="980.00" x2="241.40" y2="982.60" stroke="#5a5a5a" stroke-width="0.8"/>
<text x="241.40" y="990.30" font-size="7.92" text-anchor="middle" fill="#333333" stroke="#333333" stroke-width="0.10" textLength="8.40" lengthAdjust="spacingAndGlyphs">28</text>
<text x="142.25" y="1002.90" font-size="10.85" text-anchor="middle" fill="#333333" textLength="127.46" lengthAdjust="spacingAndGlyphs">Room temperature [°C]</text>
<text x="16.20" y="892.00" font-size="10.85" text-anchor="middle" fill="#333333" textLength="175.78" lengthAdjust="spacingAndGlyphs" transform="rotate(-90 16.20 892.00)">Effect on nugget diameter [mm]</text>
<defs><linearGradient id="g3_0" x1="0" y1="1" x2="0" y2="0">
<stop offset="0.00" stop-color="#86bcea"/>
<stop offset="0.10" stop-color="#90b4e5"/>
<stop offset="0.20" stop-color="#9bade0"/>
<stop offset="0.30" stop-color="#a5a5da"/>
<stop offset="0.40" stop-color="#b09ed5"/>
<stop offset="0.50" stop-color="#ba96d0"/>
<stop offset="0.60" stop-color="#c492c7"/>
<stop offset="0.70" stop-color="#ce8ebe"/>
<stop offset="0.80" stop-color="#d88ab6"/>
<stop offset="0.90" stop-color="#e286ad"/>
<stop offset="1.00" stop-color="#ec82a4"/>
</linearGradient></defs>
<rect x="261.70" y="804.00" width="2.40" height="176.00" fill="url(#g3_0)"/>
<line x1="264.10" y1="821.80" x2="266.10" y2="821.80" stroke="#5a5a5a" stroke-width="0.8"/>
<text x="267.90" y="824.20" font-size="7.92" text-anchor="start" fill="#333333" stroke="#333333" stroke-width="0.10" textLength="14.70" lengthAdjust="spacingAndGlyphs">45.0</text>
<line x1="264.10" y1="843.83" x2="266.10" y2="843.83" stroke="#5a5a5a" stroke-width="0.8"/>
<text x="267.90" y="846.23" font-size="7.92" text-anchor="start" fill="#333333" stroke="#333333" stroke-width="0.10" textLength="14.70" lengthAdjust="spacingAndGlyphs">42.5</text>
<line x1="264.10" y1="865.86" x2="266.10" y2="865.86" stroke="#5a5a5a" stroke-width="0.8"/>
<text x="267.90" y="868.26" font-size="7.92" text-anchor="start" fill="#333333" stroke="#333333" stroke-width="0.10" textLength="14.70" lengthAdjust="spacingAndGlyphs">40.0</text>
<line x1="264.10" y1="887.89" x2="266.10" y2="887.89" stroke="#5a5a5a" stroke-width="0.8"/>
<text x="267.90" y="890.29" font-size="7.92" text-anchor="start" fill="#333333" stroke="#333333" stroke-width="0.10" textLength="14.70" lengthAdjust="spacingAndGlyphs">37.5</text>
<line x1="264.10" y1="909.92" x2="266.10" y2="909.92" stroke="#5a5a5a" stroke-width="0.8"/>
<text x="267.90" y="912.32" font-size="7.92" text-anchor="start" fill="#333333" stroke="#333333" stroke-width="0.10" textLength="14.70" lengthAdjust="spacingAndGlyphs">35.0</text>
<line x1="264.10" y1="931.95" x2="266.10" y2="931.95" stroke="#5a5a5a" stroke-width="0.8"/>
<text x="267.90" y="934.35" font-size="7.92" text-anchor="start" fill="#333333" stroke="#333333" stroke-width="0.10" textLength="14.70" lengthAdjust="spacingAndGlyphs">32.5</text>
<line x1="264.10" y1="953.98" x2="266.10" y2="953.98" stroke="#5a5a5a" stroke-width="0.8"/>
<text x="267.90" y="956.38" font-size="7.92" text-anchor="start" fill="#333333" stroke="#333333" stroke-width="0.10" textLength="14.70" lengthAdjust="spacingAndGlyphs">30.0</text>
<line x1="264.10" y1="976.01" x2="266.10" y2="976.01" stroke="#5a5a5a" stroke-width="0.8"/>
<text x="267.90" y="978.41" font-size="7.92" text-anchor="start" fill="#333333" stroke="#333333" stroke-width="0.10" textLength="14.70" lengthAdjust="spacingAndGlyphs">27.5</text>
<text x="295.10" y="892.00" font-size="10.85" text-anchor="middle" fill="#333333" textLength="94.09" lengthAdjust="spacingAndGlyphs" transform="rotate(-90 295.10 892.00)">Max. current [kA]</text>
<text x="53.90" y="1033.80" font-family="Liberation Serif" font-size="18.5" fill="#1a1a1a" stroke="#1a1a1a" stroke-width="0.15">(g) AL5 dependency on 
<tspan font-style="italic">T</tspan><tspan font-size="13.4" dy="2.3">room</tspan>
</text>
<line x1="402.50" y1="804.00" x2="402.50" y2="980.50" stroke="#868686" stroke-width="1.00"/>
<line x1="400.90" y1="980.00" x2="614.90" y2="980.00" stroke="#868686" stroke-width="1.00"/>
<line x1="399.70" y1="980.00" x2="402.50" y2="980.00" stroke="#5a5a5a" stroke-width="0.8"/>
<text x="398.30" y="982.70" font-size="7.92" text-anchor="end" fill="#333333" stroke="#333333" stroke-width="0.10" textLength="4.20" lengthAdjust="spacingAndGlyphs">4</text>
<line x1="388.70" y1="980.40" x2="392.60" y2="980.40" stroke="#5a5a5a" stroke-width="0.9"/>
<line x1="399.70" y1="958.00" x2="402.50" y2="958.00" stroke="#5a5a5a" stroke-width="0.8"/>
<text x="398.30" y="960.70" font-size="7.92" text-anchor="end" fill="#333333" stroke="#333333" stroke-width="0.10" textLength="4.20" lengthAdjust="spacingAndGlyphs">3</text>
<line x1="388.70" y1="958.40" x2="392.60" y2="958.40" stroke="#5a5a5a" stroke-width="0.9"/>
<line x1="399.70" y1="936.00" x2="402.50" y2="936.00" stroke="#5a5a5a" stroke-width="0.8"/>
<text x="398.30" y="938.70" font-size="7.92" text-anchor="end" fill="#333333" stroke="#333333" stroke-width="0.10" textLength="4.20" lengthAdjust="spacingAndGlyphs">2</text>
<line x1="388.70" y1="936.40" x2="392.60" y2="936.40" stroke="#5a5a5a" stroke-width="0.9"/>
<line x1="399.70" y1="914.00" x2="402.50" y2="914.00" stroke="#5a5a5a" stroke-width="0.8"/>
<text x="398.30" y="916.70" font-size="7.92" text-anchor="end" fill="#333333" stroke="#333333" stroke-width="0.10" textLength="4.20" lengthAdjust="spacingAndGlyphs">1</text>
<line x1="388.70" y1="914.40" x2="392.60" y2="914.40" stroke="#5a5a5a" stroke-width="0.9"/>
<line x1="399.70" y1="892.00" x2="402.50" y2="892.00" stroke="#5a5a5a" stroke-width="0.8"/>
<text x="398.30" y="894.70" font-size="7.92" text-anchor="end" fill="#333333" stroke="#333333" stroke-width="0.10" textLength="4.20" lengthAdjust="spacingAndGlyphs">0</text>
<line x1="399.70" y1="870.00" x2="402.50" y2="870.00" stroke="#5a5a5a" stroke-width="0.8"/>
<text x="398.30" y="872.70" font-size="7.92" text-anchor="end" fill="#333333" stroke="#333333" stroke-width="0.10" textLength="4.20" lengthAdjust="spacingAndGlyphs">1</text>
<line x1="399.70" y1="848.00" x2="402.50" y2="848.00" stroke="#5a5a5a" stroke-width="0.8"/>
<text x="398.30" y="850.70" font-size="7.92" text-anchor="end" fill="#333333" stroke="#333333" stroke-width="0.10" textLength="4.20" lengthAdjust="spacingAndGlyphs">2</text>
<line x1="399.70" y1="826.00" x2="402.50" y2="826.00" stroke="#5a5a5a" stroke-width="0.8"/>
<text x="398.30" y="828.70" font-size="7.92" text-anchor="end" fill="#333333" stroke="#333333" stroke-width="0.10" textLength="4.20" lengthAdjust="spacingAndGlyphs">3</text>
<line x1="399.70" y1="804.00" x2="402.50" y2="804.00" stroke="#5a5a5a" stroke-width="0.8"/>
<text x="398.30" y="806.70" font-size="7.92" text-anchor="end" fill="#333333" stroke="#333333" stroke-width="0.10" textLength="4.20" lengthAdjust="spacingAndGlyphs">4</text>
<line x1="433.30" y1="980.00" x2="433.30" y2="982.60" stroke="#5a5a5a" stroke-width="0.8"/>
<text x="433.30" y="990.30" font-size="7.92" text-anchor="middle" fill="#333333" stroke="#333333" stroke-width="0.10" textLength="8.40" lengthAdjust="spacingAndGlyphs">22</text>
<line x1="472.30" y1="980.00" x2="472.30" y2="982.60" stroke="#5a5a5a" stroke-width="0.8"/>
<text x="472.30" y="990.30" font-size="7.92" text-anchor="middle" fill="#333333" stroke="#333333" stroke-width="0.10" textLength="8.40" lengthAdjust="spacingAndGlyphs">24</text>
<line x1="511.30" y1="980.00" x2="511.30" y2="982.60" stroke="#5a5a5a" stroke-width="0.8"/>
<text x="511.30" y="990.30" font-size="7.92" text-anchor="middle" fill="#333333" stroke="#333333" stroke-width="0.10" textLength="8.40" lengthAdjust="spacingAndGlyphs">26</text>
<line x1="550.30" y1="980.00" x2="550.30" y2="982.60" stroke="#5a5a5a" stroke-width="0.8"/>
<text x="550.30" y="990.30" font-size="7.92" text-anchor="middle" fill="#333333" stroke="#333333" stroke-width="0.10" textLength="8.40" lengthAdjust="spacingAndGlyphs">28</text>
<line x1="589.30" y1="980.00" x2="589.30" y2="982.60" stroke="#5a5a5a" stroke-width="0.8"/>
<text x="589.30" y="990.30" font-size="7.92" text-anchor="middle" fill="#333333" stroke="#333333" stroke-width="0.10" textLength="8.40" lengthAdjust="spacingAndGlyphs">30</text>
<text x="508.70" y="1002.90" font-size="10.85" text-anchor="middle" fill="#333333" textLength="127.46" lengthAdjust="spacingAndGlyphs">Room temperature [°C]</text>
<text x="382.90" y="892.00" font-size="10.85" text-anchor="middle" fill="#333333" textLength="175.78" lengthAdjust="spacingAndGlyphs" transform="rotate(-90 382.90 892.00)">Effect on nugget diameter [mm]</text>
<defs><linearGradient id="g3_1" x1="0" y1="1" x2="0" y2="0">
<stop offset="0.00" stop-color="#86bcea"/>
<stop offset="0.10" stop-color="#90b4e5"/>
<stop offset="0.20" stop-color="#9bade0"/>
<stop offset="0.30" stop-color="#a5a5da"/>
<stop offset="0.40" stop-color="#b09ed5"/>
<stop offset="0.50" stop-color="#ba96d0"/>
<stop offset="0.60" stop-color="#c492c7"/>
<stop offset="0.70" stop-color="#ce8ebe"/>
<stop offset="0.80" stop-color="#d88ab6"/>
<stop offset="0.90" stop-color="#e286ad"/>
<stop offset="1.00" stop-color="#ec82a4"/>
</linearGradient></defs>
<rect x="627.50" y="804.00" width="2.40" height="176.00" fill="url(#g3_1)"/>
<line x1="629.90" y1="813.20" x2="631.90" y2="813.20" stroke="#5a5a5a" stroke-width="0.8"/>
<text x="633.70" y="815.60" font-size="7.92" text-anchor="start" fill="#333333" stroke="#333333" stroke-width="0.10" textLength="14.70" lengthAdjust="spacingAndGlyphs">45.0</text>
<line x1="629.90" y1="836.43" x2="631.90" y2="836.43" stroke="#5a5a5a" stroke-width="0.8"/>
<text x="633.70" y="838.83" font-size="7.92" text-anchor="start" fill="#333333" stroke="#333333" stroke-width="0.10" textLength="14.70" lengthAdjust="spacingAndGlyphs">42.5</text>
<line x1="629.90" y1="859.66" x2="631.90" y2="859.66" stroke="#5a5a5a" stroke-width="0.8"/>
<text x="633.70" y="862.06" font-size="7.92" text-anchor="start" fill="#333333" stroke="#333333" stroke-width="0.10" textLength="14.70" lengthAdjust="spacingAndGlyphs">40.0</text>
<line x1="629.90" y1="882.89" x2="631.90" y2="882.89" stroke="#5a5a5a" stroke-width="0.8"/>
<text x="633.70" y="885.29" font-size="7.92" text-anchor="start" fill="#333333" stroke="#333333" stroke-width="0.10" textLength="14.70" lengthAdjust="spacingAndGlyphs">37.5</text>
<line x1="629.90" y1="906.12" x2="631.90" y2="906.12" stroke="#5a5a5a" stroke-width="0.8"/>
<text x="633.70" y="908.52" font-size="7.92" text-anchor="start" fill="#333333" stroke="#333333" stroke-width="0.10" textLength="14.70" lengthAdjust="spacingAndGlyphs">35.0</text>
<line x1="629.90" y1="929.35" x2="631.90" y2="929.35" stroke="#5a5a5a" stroke-width="0.8"/>
<text x="633.70" y="931.75" font-size="7.92" text-anchor="start" fill="#333333" stroke="#333333" stroke-width="0.10" textLength="14.70" lengthAdjust="spacingAndGlyphs">32.5</text>
<line x1="629.90" y1="952.58" x2="631.90" y2="952.58" stroke="#5a5a5a" stroke-width="0.8"/>
<text x="633.70" y="954.98" font-size="7.92" text-anchor="start" fill="#333333" stroke="#333333" stroke-width="0.10" textLength="14.70" lengthAdjust="spacingAndGlyphs">30.0</text>
<line x1="629.90" y1="975.81" x2="631.90" y2="975.81" stroke="#5a5a5a" stroke-width="0.8"/>
<text x="633.70" y="978.21" font-size="7.92" text-anchor="start" fill="#333333" stroke="#333333" stroke-width="0.10" textLength="14.70" lengthAdjust="spacingAndGlyphs">27.5</text>
<text x="661.40" y="892.00" font-size="10.85" text-anchor="middle" fill="#333333" textLength="94.09" lengthAdjust="spacingAndGlyphs" transform="rotate(-90 661.40 892.00)">Max. current [kA]</text>
<text x="419.80" y="1033.80" font-family="Liberation Serif" font-size="18.5" fill="#1a1a1a" stroke="#1a1a1a" stroke-width="0.15">(h) AL6 dependency on 
<tspan font-style="italic">T</tspan><tspan font-size="13.4" dy="2.3">room</tspan>
</text>
<circle cx="105.38" cy="108.59" r="1.45" fill="#4b48b6" fill-opacity="0.62"/>
<circle cx="112.96" cy="104.48" r="1.45" fill="#b42898" fill-opacity="0.62"/>
<circle cx="225.58" cy="71.09" r="1.45" fill="#4b48b6" fill-opacity="0.62"/>
<circle cx="100.95" cy="109.18" r="1.45" fill="#e41e73" fill-opacity="0.62"/>
<circle cx="116.64" cy="101.65" r="1.45" fill="#e41e73" fill-opacity="0.62"/>
<circle cx="117.57" cy="101.50" r="1.45" fill="#e41e73" fill-opacity="0.62"/>
<circle cx="185.84" cy="77.12" r="1.45" fill="#4b48b6" fill-opacity="0.62"/>
<circle cx="52.80" cy="125.35" r="1.45" fill="#b42898" fill-opacity="0.62"/>
<circle cx="72.51" cy="125.81" r="1.45" fill="#e41e73" fill-opacity="0.62"/>
<circle cx="211.33" cy="69.02" r="1.45" fill="#4b48b6" fill-opacity="0.62"/>
<circle cx="190.61" cy="77.22" r="1.45" fill="#287dde" fill-opacity="0.62"/>
<circle cx="90.45" cy="112.28" r="1.45" fill="#e41e73" fill-opacity="0.62"/>
<circle cx="154.60" cy="88.78" r="1.45" fill="#b42898" fill-opacity="0.62"/>
<circle cx="49.64" cy="129.06" r="1.45" fill="#b42898" fill-opacity="0.62"/>
<circle cx="83.94" cy="118.38" r="1.45" fill="#e41e73" fill-opacity="0.62"/>
<circle cx="53.42" cy="129.86" r="1.45" fill="#b42898" fill-opacity="0.62"/>
<circle cx="227.05" cy="71.74" r="1.45" fill="#e41e73" fill-opacity="0.62"/>
<circle cx="187.33" cy="76.44" r="1.45" fill="#287dde" fill-opacity="0.62"/>
<circle cx="147.46" cy="91.18" r="1.45" fill="#4b48b6" fill-opacity="0.62"/>
<circle cx="72.89" cy="126.37" r="1.45" fill="#e41e73" fill-opacity="0.62"/>
<circle cx="141.23" cy="93.42" r="1.45" fill="#4b48b6" fill-opacity="0.62"/>
<circle cx="162.51" cy="85.50" r="1.45" fill="#4b48b6" fill-opacity="0.62"/>
<circle cx="112.43" cy="105.19" r="1.45" fill="#287dde" fill-opacity="0.62"/>
<circle cx="220.05" cy="73.60" r="1.45" fill="#4b48b6" fill-opacity="0.62"/>
<circle cx="175.14" cy="82.68" r="1.45" fill="#b42898" fill-opacity="0.62"/>
<circle cx="239.66" cy="70.85" r="1.45" fill="#b42898" fill-opacity="0.62"/>
<circle cx="54.82" cy="130.03" r="1.45" fill="#287dde" fill-opacity="0.62"/>
<circle cx="110.79" cy="104.52" r="1.45" fill="#287dde" fill-opacity="0.62"/>
<circle cx="53.36" cy="124.70" r="1.45" fill="#4b48b6" fill-opacity="0.62"/>
<circle cx="195.80" cy="77.49" r="1.45" fill="#287dde" fill-opacity="0.62"/>
<circle cx="73.17" cy="122.76" r="1.45" fill="#287dde" fill-opacity="0.62"/>
<circle cx="178.86" cy="76.91" r="1.45" fill="#b42898" fill-opacity="0.62"/>
<circle cx="217.15" cy="71.57" r="1.45" fill="#287dde" fill-opacity="0.62"/>
<circle cx="152.15" cy="88.72" r="1.45" fill="#e41e73" fill-opacity="0.62"/>
<circle cx="142.93" cy="94.35" r="1.45" fill="#4b48b6" fill-opacity="0.62"/>
<circle cx="71.18" cy="124.36" r="1.45" fill="#e41e73" fill-opacity="0.62"/>
<circle cx="220.17" cy="69.83" r="1.45" fill="#287dde" fill-opacity="0.62"/>
<circle cx="199.05" cy="75.06" r="1.45" fill="#e41e73" fill-opacity="0.62"/>
<circle cx="124.77" cy="99.32" r="1.45" fill="#b42898" fill-opacity="0.62"/>
<circle cx="145.38" cy="92.22" r="1.45" fill="#b42898" fill-opacity="0.62"/>
<circle cx="201.44" cy="73.96" r="1.45" fill="#287dde" fill-opacity="0.62"/>
<circle cx="52.20" cy="129.77" r="1.45" fill="#b42898" fill-opacity="0.62"/>
<circle cx="131.40" cy="101.15" r="1.45" fill="#e41e73" fill-opacity="0.62"/>
<circle cx="121.64" cy="102.73" r="1.45" fill="#e41e73" fill-opacity="0.62"/>
<circle cx="136.58" cy="94.32" r="1.45" fill="#287dde" fill-opacity="0.62"/>
<circle cx="70.87" cy="126.45" r="1.45" fill="#4b48b6" fill-opacity="0.62"/>
<circle cx="92.53" cy="112.07" r="1.45" fill="#4b48b6" fill-opacity="0.62"/>
<circle cx="230.05" cy="73.90" r="1.45" fill="#287dde" fill-opacity="0.62"/>
<circle cx="159.97" cy="88.79" r="1.45" fill="#4b48b6" fill-opacity="0.62"/>
<circle cx="164.28" cy="85.32" r="1.45" fill="#4b48b6" fill-opacity="0.62"/>
<circle cx="67.28" cy="124.94" r="1.45" fill="#4b48b6" fill-opacity="0.62"/>
<circle cx="92.46" cy="112.43" r="1.45" fill="#b42898" fill-opacity="0.62"/>
<circle cx="218.32" cy="69.87" r="1.45" fill="#b42898" fill-opacity="0.62"/>
<circle cx="55.24" cy="130.44" r="1.45" fill="#4b48b6" fill-opacity="0.62"/>
<circle cx="106.12" cy="104.61" r="1.45" fill="#4b48b6" fill-opacity="0.62"/>
<circle cx="154.08" cy="87.68" r="1.45" fill="#4b48b6" fill-opacity="0.62"/>
<circle cx="80.11" cy="121.95" r="1.45" fill="#b42898" fill-opacity="0.62"/>
<circle cx="54.17" cy="130.38" r="1.45" fill="#e41e73" fill-opacity="0.62"/>
<circle cx="64.20" cy="125.48" r="1.45" fill="#287dde" fill-opacity="0.62"/>
<circle cx="114.84" cy="101.97" r="1.45" fill="#4b48b6" fill-opacity="0.62"/>
<circle cx="148.76" cy="90.15" r="1.45" fill="#e41e73" fill-opacity="0.62"/>
<circle cx="169.98" cy="83.70" r="1.45" fill="#4b48b6" fill-opacity="0.62"/>
<circle cx="141.76" cy="95.46" r="1.45" fill="#4b48b6" fill-opacity="0.62"/>
<circle cx="47.21" cy="129.99" r="1.45" fill="#287dde" fill-opacity="0.62"/>
<circle cx="135.19" cy="93.27" r="1.45" fill="#e41e73" fill-opacity="0.62"/>
<circle cx="80.89" cy="121.43" r="1.45" fill="#4b48b6" fill-opacity="0.62"/>
<circle cx="193.90" cy="77.57" r="1.45" fill="#e41e73" fill-opacity="0.62"/>
<circle cx="49.76" cy="130.56" r="1.45" fill="#287dde" fill-opacity="0.62"/>
<circle cx="227.01" cy="72.15" r="1.45" fill="#b42898" fill-opacity="0.62"/>
<circle cx="63.35" cy="126.55" r="1.45" fill="#e41e73" fill-opacity="0.62"/>
<circle cx="139.50" cy="94.42" r="1.45" fill="#4b48b6" fill-opacity="0.62"/>
<circle cx="196.39" cy="72.47" r="1.45" fill="#4b48b6" fill-opacity="0.62"/>
<circle cx="90.98" cy="113.21" r="1.45" fill="#e41e73" fill-opacity="0.62"/>
<circle cx="230.92" cy="74.49" r="1.45" fill="#4b48b6" fill-opacity="0.62"/>
<circle cx="152.13" cy="88.96" r="1.45" fill="#4b48b6" fill-opacity="0.62"/>
<circle cx="83.36" cy="117.97" r="1.45" fill="#287dde" fill-opacity="0.62"/>
<circle cx="181.33" cy="80.04" r="1.45" fill="#b42898" fill-opacity="0.62"/>
<circle cx="114.04" cy="102.12" r="1.45" fill="#b42898" fill-opacity="0.62"/>
<circle cx="121.34" cy="102.88" r="1.45" fill="#4b48b6" fill-opacity="0.62"/>
<circle cx="222.13" cy="69.57" r="1.45" fill="#287dde" fill-opacity="0.62"/>
<circle cx="105.76" cy="108.23" r="1.45" fill="#b42898" fill-opacity="0.62"/>
<circle cx="230.57" cy="70.19" r="1.45" fill="#e41e73" fill-opacity="0.62"/>
<circle cx="177.89" cy="78.37" r="1.45" fill="#287dde" fill-opacity="0.62"/>
<circle cx="215.49" cy="69.12" r="1.45" fill="#4b48b6" fill-opacity="0.62"/>
<circle cx="79.62" cy="122.93" r="1.45" fill="#4b48b6" fill-opacity="0.62"/>
<circle cx="133.73" cy="99.22" r="1.45" fill="#4b48b6" fill-opacity="0.62"/>
<circle cx="77.21" cy="123.05" r="1.45" fill="#e41e73" fill-opacity="0.62"/>
<circle cx="55.74" cy="129.37" r="1.45" fill="#4b48b6" fill-opacity="0.62"/>
<circle cx="183.17" cy="79.56" r="1.45" fill="#e41e73" fill-opacity="0.62"/>
<circle cx="109.68" cy="103.35" r="1.45" fill="#e41e73" fill-opacity="0.62"/>
<circle cx="66.92" cy="126.81" r="1.45" fill="#b42898" fill-opacity="0.62"/>
<circle cx="51.80" cy="130.45" r="1.45" fill="#e41e73" fill-opacity="0.62"/>
<circle cx="158.99" cy="89.72" r="1.45" fill="#e41e73" fill-opacity="0.62"/>
<circle cx="103.45" cy="108.20" r="1.45" fill="#287dde" fill-opacity="0.62"/>
<circle cx="194.05" cy="74.69" r="1.45" fill="#4b48b6" fill-opacity="0.62"/>
<circle cx="119.87" cy="102.17" r="1.45" fill="#b42898" fill-opacity="0.62"/>
<circle cx="97.87" cy="109.56" r="1.45" fill="#287dde" fill-opacity="0.62"/>
<circle cx="214.36" cy="71.60" r="1.45" fill="#4b48b6" fill-opacity="0.62"/>
<circle cx="99.80" cy="108.29" r="1.45" fill="#e41e73" fill-opacity="0.62"/>
<circle cx="226.13" cy="69.63" r="1.45" fill="#e41e73" fill-opacity="0.62"/>
<circle cx="169.73" cy="82.75" r="1.45" fill="#e41e73" fill-opacity="0.62"/>
<circle cx="129.59" cy="100.38" r="1.45" fill="#4b48b6" fill-opacity="0.62"/>
<circle cx="69.66" cy="124.78" r="1.45" fill="#b42898" fill-opacity="0.62"/>
<circle cx="117.04" cy="101.90" r="1.45" fill="#4b48b6" fill-opacity="0.62"/>
<circle cx="180.92" cy="79.78" r="1.45" fill="#e41e73" fill-opacity="0.62"/>
<circle cx="99.81" cy="109.99" r="1.45" fill="#4b48b6" fill-opacity="0.62"/>
<circle cx="149.50" cy="91.89" r="1.45" fill="#4b48b6" fill-opacity="0.62"/>
<circle cx="177.97" cy="79.37" r="1.45" fill="#4b48b6" fill-opacity="0.62"/>
<circle cx="232.52" cy="69.85" r="1.45" fill="#287dde" fill-opacity="0.62"/>
<circle cx="226.28" cy="70.57" r="1.45" fill="#4b48b6" fill-opacity="0.62"/>
<circle cx="92.05" cy="111.85" r="1.45" fill="#b42898" fill-opacity="0.62"/>
<circle cx="215.25" cy="70.81" r="1.45" fill="#b42898" fill-opacity="0.62"/>
<circle cx="123.10" cy="102.78" r="1.45" fill="#287dde" fill-opacity="0.62"/>
<circle cx="227.06" cy="71.91" r="1.45" fill="#287dde" fill-opacity="0.62"/>
<circle cx="193.16" cy="76.36" r="1.45" fill="#e41e73" fill-opacity="0.62"/>
<circle cx="50.08" cy="124.67" r="1.45" fill="#287dde" fill-opacity="0.62"/>
<circle cx="48.88" cy="129.79" r="1.45" fill="#287dde" fill-opacity="0.62"/>
<circle cx="185.06" cy="80.39" r="1.45" fill="#4b48b6" fill-opacity="0.62"/>
<circle cx="204.52" cy="72.42" r="1.45" fill="#287dde" fill-opacity="0.62"/>
<circle cx="163.52" cy="86.84" r="1.45" fill="#e41e73" fill-opacity="0.62"/>
<circle cx="142.99" cy="95.06" r="1.45" fill="#b42898" fill-opacity="0.62"/>
<circle cx="93.57" cy="111.95" r="1.45" fill="#b42898" fill-opacity="0.62"/>
<circle cx="79.45" cy="121.32" r="1.45" fill="#e41e73" fill-opacity="0.62"/>
<circle cx="67.27" cy="125.96" r="1.45" fill="#287dde" fill-opacity="0.62"/>
<circle cx="196.08" cy="72.07" r="1.45" fill="#e41e73" fill-opacity="0.62"/>
<circle cx="67.86" cy="126.34" r="1.45" fill="#b42898" fill-opacity="0.62"/>
<circle cx="169.50" cy="82.67" r="1.45" fill="#e41e73" fill-opacity="0.62"/>
<circle cx="133.60" cy="99.83" r="1.45" fill="#e41e73" fill-opacity="0.62"/>
<circle cx="97.31" cy="113.11" r="1.45" fill="#4b48b6" fill-opacity="0.62"/>
<circle cx="130.76" cy="99.64" r="1.45" fill="#b42898" fill-opacity="0.62"/>
<circle cx="168.75" cy="85.35" r="1.45" fill="#287dde" fill-opacity="0.62"/>
<circle cx="93.99" cy="112.29" r="1.45" fill="#287dde" fill-opacity="0.62"/>
<circle cx="64.25" cy="125.87" r="1.45" fill="#287dde" fill-opacity="0.62"/>
<circle cx="78.26" cy="121.77" r="1.45" fill="#4b48b6" fill-opacity="0.62"/>
<circle cx="177.54" cy="82.55" r="1.45" fill="#e41e73" fill-opacity="0.62"/>
<circle cx="209.72" cy="71.87" r="1.45" fill="#b42898" fill-opacity="0.62"/>
<circle cx="204.93" cy="69.21" r="1.45" fill="#287dde" fill-opacity="0.62"/>
<circle cx="216.33" cy="74.05" r="1.45" fill="#4b48b6" fill-opacity="0.62"/>
<circle cx="224.62" cy="71.97" r="1.45" fill="#4b48b6" fill-opacity="0.62"/>
<circle cx="96.06" cy="113.11" r="1.45" fill="#4b48b6" fill-opacity="0.62"/>
<circle cx="220.09" cy="70.98" r="1.45" fill="#e41e73" fill-opacity="0.62"/>
<circle cx="130.59" cy="99.15" r="1.45" fill="#e41e73" fill-opacity="0.62"/>
<circle cx="87.38" cy="117.68" r="1.45" fill="#287dde" fill-opacity="0.62"/>
<circle cx="79.67" cy="121.13" r="1.45" fill="#b42898" fill-opacity="0.62"/>
<circle cx="232.65" cy="71.12" r="1.45" fill="#4b48b6" fill-opacity="0.62"/>
<circle cx="123.73" cy="102.43" r="1.45" fill="#4b48b6" fill-opacity="0.62"/>
<circle cx="214.86" cy="71.68" r="1.45" fill="#287dde" fill-opacity="0.62"/>
<circle cx="47.23" cy="129.68" r="1.45" fill="#287dde" fill-opacity="0.62"/>
<circle cx="162.70" cy="86.88" r="1.45" fill="#4b48b6" fill-opacity="0.62"/>
<circle cx="53.61" cy="124.69" r="1.45" fill="#287dde" fill-opacity="0.62"/>
<circle cx="226.91" cy="70.15" r="1.45" fill="#e41e73" fill-opacity="0.62"/>
<circle cx="69.00" cy="125.84" r="1.45" fill="#4b48b6" fill-opacity="0.62"/>
<circle cx="189.63" cy="76.00" r="1.45" fill="#287dde" fill-opacity="0.62"/>
<circle cx="197.18" cy="71.89" r="1.45" fill="#287dde" fill-opacity="0.62"/>
<circle cx="51.48" cy="125.82" r="1.45" fill="#e41e73" fill-opacity="0.62"/>
<circle cx="142.93" cy="94.92" r="1.45" fill="#b42898" fill-opacity="0.62"/>
<circle cx="148.15" cy="90.23" r="1.45" fill="#e41e73" fill-opacity="0.62"/>
<circle cx="110.11" cy="103.54" r="1.45" fill="#e41e73" fill-opacity="0.62"/>
<circle cx="146.61" cy="92.26" r="1.45" fill="#b42898" fill-opacity="0.62"/>
<circle cx="180.62" cy="77.55" r="1.45" fill="#e41e73" fill-opacity="0.62"/>
<circle cx="99.22" cy="108.69" r="1.45" fill="#b42898" fill-opacity="0.62"/>
<circle cx="53.37" cy="124.81" r="1.45" fill="#b42898" fill-opacity="0.62"/>
<circle cx="126.52" cy="99.16" r="1.45" fill="#b42898" fill-opacity="0.62"/>
<circle cx="225.88" cy="71.04" r="1.45" fill="#287dde" fill-opacity="0.62"/>
<circle cx="105.74" cy="108.58" r="1.45" fill="#4b48b6" fill-opacity="0.62"/>
<circle cx="219.33" cy="71.11" r="1.45" fill="#e41e73" fill-opacity="0.62"/>
<circle cx="45.75" cy="129.76" r="1.45" fill="#b42898" fill-opacity="0.62"/>
<circle cx="195.24" cy="75.90" r="1.45" fill="#287dde" fill-opacity="0.62"/>
<circle cx="137.11" cy="94.63" r="1.45" fill="#287dde" fill-opacity="0.62"/>
<circle cx="172.74" cy="83.90" r="1.45" fill="#4b48b6" fill-opacity="0.62"/>
<circle cx="214.67" cy="70.65" r="1.45" fill="#b42898" fill-opacity="0.62"/>
<circle cx="228.47" cy="71.87" r="1.45" fill="#4b48b6" fill-opacity="0.62"/>
<circle cx="141.24" cy="93.01" r="1.45" fill="#b42898" fill-opacity="0.62"/>
<circle cx="207.81" cy="70.91" r="1.45" fill="#b42898" fill-opacity="0.62"/>
<circle cx="142.18" cy="95.64" r="1.45" fill="#287dde" fill-opacity="0.62"/>
<circle cx="116.48" cy="102.82" r="1.45" fill="#287dde" fill-opacity="0.62"/>
<circle cx="55.19" cy="129.62" r="1.45" fill="#287dde" fill-opacity="0.62"/>
<circle cx="70.34" cy="124.89" r="1.45" fill="#287dde" fill-opacity="0.62"/>
<circle cx="114.34" cy="103.00" r="1.45" fill="#4b48b6" fill-opacity="0.62"/>
<circle cx="112.70" cy="103.03" r="1.45" fill="#b42898" fill-opacity="0.62"/>
<circle cx="196.83" cy="72.58" r="1.45" fill="#4b48b6" fill-opacity="0.62"/>
<circle cx="142.48" cy="93.46" r="1.45" fill="#b42898" fill-opacity="0.62"/>
<circle cx="204.09" cy="74.80" r="1.45" fill="#287dde" fill-opacity="0.62"/>
<circle cx="87.32" cy="117.75" r="1.45" fill="#4b48b6" fill-opacity="0.62"/>
<circle cx="155.48" cy="89.18" r="1.45" fill="#b42898" fill-opacity="0.62"/>
<circle cx="106.85" cy="104.80" r="1.45" fill="#e41e73" fill-opacity="0.62"/>
<circle cx="215.91" cy="69.26" r="1.45" fill="#4b48b6" fill-opacity="0.62"/>
<circle cx="134.79" cy="93.23" r="1.45" fill="#e41e73" fill-opacity="0.62"/>
<circle cx="96.96" cy="111.79" r="1.45" fill="#4b48b6" fill-opacity="0.62"/>
<circle cx="205.16" cy="72.90" r="1.45" fill="#4b48b6" fill-opacity="0.62"/>
<circle cx="210.59" cy="69.70" r="1.45" fill="#e41e73" fill-opacity="0.62"/>
<circle cx="165.81" cy="85.47" r="1.45" fill="#4b48b6" fill-opacity="0.62"/>
<circle cx="206.36" cy="70.12" r="1.45" fill="#b42898" fill-opacity="0.62"/>
<circle cx="110.00" cy="103.39" r="1.45" fill="#b42898" fill-opacity="0.62"/>
<circle cx="114.44" cy="102.92" r="1.45" fill="#e41e73" fill-opacity="0.62"/>
<circle cx="185.22" cy="80.04" r="1.45" fill="#b42898" fill-opacity="0.62"/>
<circle cx="84.82" cy="118.54" r="1.45" fill="#4b48b6" fill-opacity="0.62"/>
<circle cx="212.94" cy="74.25" r="1.45" fill="#e41e73" fill-opacity="0.62"/>
<circle cx="132.27" cy="93.01" r="1.45" fill="#e41e73" fill-opacity="0.62"/>
<circle cx="222.08" cy="71.94" r="1.45" fill="#4b48b6" fill-opacity="0.62"/>
<circle cx="177.45" cy="77.02" r="1.45" fill="#287dde" fill-opacity="0.62"/>
<circle cx="72.51" cy="125.09" r="1.45" fill="#4b48b6" fill-opacity="0.62"/>
<circle cx="224.80" cy="70.17" r="1.45" fill="#4b48b6" fill-opacity="0.62"/>
<circle cx="210.49" cy="73.45" r="1.45" fill="#287dde" fill-opacity="0.62"/>
<circle cx="63.12" cy="125.41" r="1.45" fill="#b42898" fill-opacity="0.62"/>
<circle cx="225.31" cy="70.97" r="1.45" fill="#4b48b6" fill-opacity="0.62"/>
<circle cx="196.27" cy="75.01" r="1.45" fill="#4b48b6" fill-opacity="0.62"/>
<circle cx="201.84" cy="75.07" r="1.45" fill="#287dde" fill-opacity="0.62"/>
<circle cx="73.22" cy="122.30" r="1.45" fill="#e41e73" fill-opacity="0.62"/>
<circle cx="163.49" cy="85.29" r="1.45" fill="#287dde" fill-opacity="0.62"/>
<circle cx="126.35" cy="100.66" r="1.45" fill="#4b48b6" fill-opacity="0.62"/>
<circle cx="177.33" cy="82.74" r="1.45" fill="#287dde" fill-opacity="0.62"/>
<circle cx="146.25" cy="90.72" r="1.45" fill="#e41e73" fill-opacity="0.62"/>
<circle cx="151.83" cy="90.18" r="1.45" fill="#e41e73" fill-opacity="0.62"/>
<circle cx="57.54" cy="130.58" r="1.45" fill="#e41e73" fill-opacity="0.62"/>
<circle cx="45.53" cy="130.06" r="1.45" fill="#e41e73" fill-opacity="0.62"/>
<circle cx="206.81" cy="69.10" r="1.45" fill="#e41e73" fill-opacity="0.62"/>
<circle cx="76.71" cy="122.64" r="1.45" fill="#287dde" fill-opacity="0.62"/>
<circle cx="177.35" cy="79.23" r="1.45" fill="#e41e73" fill-opacity="0.62"/>
<circle cx="128.89" cy="99.01" r="1.45" fill="#287dde" fill-opacity="0.62"/>
<circle cx="160.77" cy="86.51" r="1.45" fill="#287dde" fill-opacity="0.62"/>
<circle cx="205.46" cy="69.42" r="1.45" fill="#b42898" fill-opacity="0.62"/>
<circle cx="218.52" cy="71.04" r="1.45" fill="#b42898" fill-opacity="0.62"/>
<circle cx="131.48" cy="100.11" r="1.45" fill="#287dde" fill-opacity="0.62"/>
<circle cx="237.32" cy="69.35" r="1.45" fill="#e41e73" fill-opacity="0.62"/>
<circle cx="236.58" cy="70.46" r="1.45" fill="#b42898" fill-opacity="0.62"/>
<circle cx="158.64" cy="90.11" r="1.45" fill="#287dde" fill-opacity="0.62"/>
<circle cx="171.08" cy="82.73" r="1.45" fill="#b42898" fill-opacity="0.62"/>
<circle cx="45.27" cy="130.35" r="1.45" fill="#b42898" fill-opacity="0.62"/>
<circle cx="220.20" cy="73.73" r="1.45" fill="#287dde" fill-opacity="0.62"/>
<circle cx="210.36" cy="71.38" r="1.45" fill="#287dde" fill-opacity="0.62"/>
<circle cx="67.26" cy="126.08" r="1.45" fill="#287dde" fill-opacity="0.62"/>
<circle cx="228.04" cy="70.34" r="1.45" fill="#287dde" fill-opacity="0.62"/>
<circle cx="44.82" cy="129.63" r="1.45" fill="#4b48b6" fill-opacity="0.62"/>
<circle cx="197.92" cy="72.99" r="1.45" fill="#4b48b6" fill-opacity="0.62"/>
<circle cx="137.48" cy="96.07" r="1.45" fill="#e41e73" fill-opacity="0.62"/>
<circle cx="169.26" cy="83.19" r="1.45" fill="#b42898" fill-opacity="0.62"/>
<circle cx="148.08" cy="90.45" r="1.45" fill="#b42898" fill-opacity="0.62"/>
<circle cx="162.01" cy="85.13" r="1.45" fill="#287dde" fill-opacity="0.62"/>
<circle cx="167.04" cy="85.31" r="1.45" fill="#287dde" fill-opacity="0.62"/>
<circle cx="223.99" cy="70.86" r="1.45" fill="#287dde" fill-opacity="0.62"/>
<circle cx="130.52" cy="100.52" r="1.45" fill="#4b48b6" fill-opacity="0.62"/>
<circle cx="166.29" cy="85.05" r="1.45" fill="#287dde" fill-opacity="0.62"/>
<circle cx="223.73" cy="69.20" r="1.45" fill="#287dde" fill-opacity="0.62"/>
<circle cx="169.49" cy="82.26" r="1.45" fill="#4b48b6" fill-opacity="0.62"/>
<circle cx="236.55" cy="70.99" r="1.45" fill="#4b48b6" fill-opacity="0.62"/>
<circle cx="154.31" cy="89.91" r="1.45" fill="#4b48b6" fill-opacity="0.62"/>
<circle cx="63.12" cy="125.03" r="1.45" fill="#b42898" fill-opacity="0.62"/>
<circle cx="85.31" cy="118.45" r="1.45" fill="#287dde" fill-opacity="0.62"/>
<circle cx="149.28" cy="91.28" r="1.45" fill="#287dde" fill-opacity="0.62"/>
<circle cx="205.59" cy="72.20" r="1.45" fill="#287dde" fill-opacity="0.62"/>
<circle cx="159.71" cy="88.92" r="1.45" fill="#287dde" fill-opacity="0.62"/>
<circle cx="233.33" cy="71.62" r="1.45" fill="#e41e73" fill-opacity="0.62"/>
<circle cx="55.22" cy="129.95" r="1.45" fill="#b42898" fill-opacity="0.62"/>
<circle cx="139.84" cy="96.16" r="1.45" fill="#b42898" fill-opacity="0.62"/>
<circle cx="62.21" cy="129.07" r="1.45" fill="#4b48b6" fill-opacity="0.62"/>
<circle cx="181.10" cy="80.12" r="1.45" fill="#4b48b6" fill-opacity="0.62"/>
<circle cx="79.26" cy="122.65" r="1.45" fill="#e41e73" fill-opacity="0.62"/>
<circle cx="62.29" cy="128.94" r="1.45" fill="#b42898" fill-opacity="0.62"/>
<circle cx="51.13" cy="129.25" r="1.45" fill="#4b48b6" fill-opacity="0.62"/>
<circle cx="58.86" cy="129.64" r="1.45" fill="#e41e73" fill-opacity="0.62"/>
<circle cx="207.85" cy="69.41" r="1.45" fill="#e41e73" fill-opacity="0.62"/>
<circle cx="142.76" cy="96.28" r="1.45" fill="#287dde" fill-opacity="0.62"/>
<circle cx="79.11" cy="121.72" r="1.45" fill="#e41e73" fill-opacity="0.62"/>
<circle cx="63.61" cy="125.63" r="1.45" fill="#287dde" fill-opacity="0.62"/>
<circle cx="71.99" cy="125.07" r="1.45" fill="#4b48b6" fill-opacity="0.62"/>
<circle cx="190.82" cy="76.57" r="1.45" fill="#4b48b6" fill-opacity="0.62"/>
<circle cx="57.40" cy="129.24" r="1.45" fill="#b42898" fill-opacity="0.62"/>
<circle cx="211.39" cy="73.03" r="1.45" fill="#4b48b6" fill-opacity="0.62"/>
<circle cx="88.05" cy="118.82" r="1.45" fill="#287dde" fill-opacity="0.62"/>
<circle cx="57.24" cy="129.73" r="1.45" fill="#287dde" fill-opacity="0.62"/>
<circle cx="144.37" cy="91.24" r="1.45" fill="#b42898" fill-opacity="0.62"/>
<circle cx="89.83" cy="112.16" r="1.45" fill="#b42898" fill-opacity="0.62"/>
<circle cx="122.26" cy="102.49" r="1.45" fill="#4b48b6" fill-opacity="0.62"/>
<circle cx="99.79" cy="108.04" r="1.45" fill="#287dde" fill-opacity="0.62"/>
<circle cx="228.42" cy="69.59" r="1.45" fill="#b42898" fill-opacity="0.62"/>
<circle cx="55.91" cy="129.69" r="1.45" fill="#e41e73" fill-opacity="0.62"/>
<circle cx="231.13" cy="71.53" r="1.45" fill="#4b48b6" fill-opacity="0.62"/>
<circle cx="194.03" cy="77.09" r="1.45" fill="#4b48b6" fill-opacity="0.62"/>
<circle cx="173.46" cy="82.68" r="1.45" fill="#4b48b6" fill-opacity="0.62"/>
<circle cx="175.65" cy="83.41" r="1.45" fill="#4b48b6" fill-opacity="0.62"/>
<circle cx="191.12" cy="76.16" r="1.45" fill="#4b48b6" fill-opacity="0.62"/>
<circle cx="146.49" cy="90.95" r="1.45" fill="#b42898" fill-opacity="0.62"/>
<circle cx="97.60" cy="110.19" r="1.45" fill="#e41e73" fill-opacity="0.62"/>
<circle cx="131.67" cy="100.36" r="1.45" fill="#4b48b6" fill-opacity="0.62"/>
<circle cx="146.88" cy="92.74" r="1.45" fill="#4b48b6" fill-opacity="0.62"/>
<circle cx="96.56" cy="111.75" r="1.45" fill="#287dde" fill-opacity="0.62"/>
<circle cx="132.46" cy="99.17" r="1.45" fill="#b42898" fill-opacity="0.62"/>
<circle cx="228.70" cy="71.31" r="1.45" fill="#4b48b6" fill-opacity="0.62"/>
<circle cx="90.29" cy="113.09" r="1.45" fill="#e41e73" fill-opacity="0.62"/>
<circle cx="104.31" cy="108.18" r="1.45" fill="#4b48b6" fill-opacity="0.62"/>
<circle cx="227.20" cy="70.25" r="1.45" fill="#e41e73" fill-opacity="0.62"/>
<circle cx="85.49" cy="118.39" r="1.45" fill="#287dde" fill-opacity="0.62"/>
<circle cx="55.13" cy="129.51" r="1.45" fill="#4b48b6" fill-opacity="0.62"/>
<circle cx="227.37" cy="69.99" r="1.45" fill="#4b48b6" fill-opacity="0.62"/>
<circle cx="57.82" cy="125.22" r="1.45" fill="#287dde" fill-opacity="0.62"/>
<circle cx="93.61" cy="111.62" r="1.45" fill="#4b48b6" fill-opacity="0.62"/>
<circle cx="120.58" cy="102.72" r="1.45" fill="#e41e73" fill-opacity="0.62"/>
<circle cx="206.76" cy="73.01" r="1.45" fill="#b42898" fill-opacity="0.62"/>
<circle cx="186.24" cy="75.73" r="1.45" fill="#e41e73" fill-opacity="0.62"/>
<circle cx="209.25" cy="69.91" r="1.45" fill="#4b48b6" fill-opacity="0.62"/>
<circle cx="200.80" cy="72.91" r="1.45" fill="#b42898" fill-opacity="0.62"/>
<circle cx="109.24" cy="103.76" r="1.45" fill="#287dde" fill-opacity="0.62"/>
<circle cx="49.69" cy="129.49" r="1.45" fill="#b42898" fill-opacity="0.62"/>
<circle cx="113.76" cy="103.68" r="1.45" fill="#4b48b6" fill-opacity="0.62"/>
<circle cx="124.12" cy="99.13" r="1.45" fill="#b42898" fill-opacity="0.62"/>
<circle cx="64.85" cy="126.08" r="1.45" fill="#b42898" fill-opacity="0.62"/>
<circle cx="53.92" cy="129.10" r="1.45" fill="#b42898" fill-opacity="0.62"/>
<circle cx="104.30" cy="108.40" r="1.45" fill="#287dde" fill-opacity="0.62"/>
<circle cx="111.25" cy="104.20" r="1.45" fill="#e41e73" fill-opacity="0.62"/>
<circle cx="210.97" cy="72.14" r="1.45" fill="#e41e73" fill-opacity="0.62"/>
<circle cx="104.72" cy="109.49" r="1.45" fill="#b42898" fill-opacity="0.62"/>
<circle cx="208.43" cy="69.79" r="1.45" fill="#4b48b6" fill-opacity="0.62"/>
<circle cx="160.09" cy="85.46" r="1.45" fill="#e41e73" fill-opacity="0.62"/>
<circle cx="50.78" cy="125.15" r="1.45" fill="#e41e73" fill-opacity="0.62"/>
<circle cx="175.26" cy="83.92" r="1.45" fill="#b42898" fill-opacity="0.62"/>
<circle cx="168.47" cy="86.39" r="1.45" fill="#e41e73" fill-opacity="0.62"/>
<circle cx="145.25" cy="90.15" r="1.45" fill="#b42898" fill-opacity="0.62"/>
<circle cx="45.10" cy="129.58" r="1.45" fill="#287dde" fill-opacity="0.62"/>
<circle cx="188.47" cy="75.27" r="1.45" fill="#287dde" fill-opacity="0.62"/>
<circle cx="177.07" cy="83.36" r="1.45" fill="#287dde" fill-opacity="0.62"/>
<circle cx="61.97" cy="129.65" r="1.45" fill="#287dde" fill-opacity="0.62"/>
<circle cx="239.12" cy="70.54" r="1.45" fill="#287dde" fill-opacity="0.62"/>
<circle cx="115.49" cy="102.73" r="1.45" fill="#4b48b6" fill-opacity="0.62"/>
<circle cx="60.83" cy="130.27" r="1.45" fill="#b42898" fill-opacity="0.62"/>
<circle cx="124.85" cy="99.09" r="1.45" fill="#b42898" fill-opacity="0.62"/>
<circle cx="177.33" cy="78.34" r="1.45" fill="#e41e73" fill-opacity="0.62"/>
<circle cx="85.05" cy="118.73" r="1.45" fill="#287dde" fill-opacity="0.62"/>
<circle cx="231.07" cy="71.86" r="1.45" fill="#4b48b6" fill-opacity="0.62"/>
<circle cx="154.39" cy="88.45" r="1.45" fill="#287dde" fill-opacity="0.62"/>
<circle cx="205.48" cy="70.80" r="1.45" fill="#287dde" fill-opacity="0.62"/>
<circle cx="180.56" cy="79.48" r="1.45" fill="#e41e73" fill-opacity="0.62"/>
<circle cx="228.04" cy="70.04" r="1.45" fill="#e41e73" fill-opacity="0.62"/>
<circle cx="219.26" cy="71.63" r="1.45" fill="#e41e73" fill-opacity="0.62"/>
<circle cx="213.07" cy="70.71" r="1.45" fill="#e41e73" fill-opacity="0.62"/>
<circle cx="97.46" cy="112.66" r="1.45" fill="#b42898" fill-opacity="0.62"/>
<circle cx="154.45" cy="89.71" r="1.45" fill="#4b48b6" fill-opacity="0.62"/>
<circle cx="73.69" cy="123.08" r="1.45" fill="#e41e73" fill-opacity="0.62"/>
<circle cx="92.86" cy="111.88" r="1.45" fill="#b42898" fill-opacity="0.62"/>
<circle cx="234.12" cy="71.59" r="1.45" fill="#e41e73" fill-opacity="0.62"/>
<circle cx="203.36" cy="72.63" r="1.45" fill="#b42898" fill-opacity="0.62"/>
<circle cx="208.68" cy="69.17" r="1.45" fill="#4b48b6" fill-opacity="0.62"/>
<circle cx="56.13" cy="129.85" r="1.45" fill="#287dde" fill-opacity="0.62"/>
<circle cx="64.26" cy="126.86" r="1.45" fill="#b42898" fill-opacity="0.62"/>
<circle cx="58.69" cy="129.03" r="1.45" fill="#4b48b6" fill-opacity="0.62"/>
<circle cx="73.22" cy="121.47" r="1.45" fill="#4b48b6" fill-opacity="0.62"/>
<circle cx="98.07" cy="109.90" r="1.45" fill="#e41e73" fill-opacity="0.62"/>
<circle cx="86.70" cy="118.27" r="1.45" fill="#e41e73" fill-opacity="0.62"/>
<circle cx="155.93" cy="88.16" r="1.45" fill="#4b48b6" fill-opacity="0.62"/>
<circle cx="46.21" cy="130.08" r="1.45" fill="#287dde" fill-opacity="0.62"/>
<circle cx="192.07" cy="75.99" r="1.45" fill="#b42898" fill-opacity="0.62"/>
<circle cx="45.90" cy="129.61" r="1.45" fill="#b42898" fill-opacity="0.62"/>
<circle cx="50.73" cy="129.43" r="1.45" fill="#e41e73" fill-opacity="0.62"/>
<circle cx="50.42" cy="129.07" r="1.45" fill="#287dde" fill-opacity="0.62"/>
<circle cx="80.18" cy="122.46" r="1.45" fill="#e41e73" fill-opacity="0.62"/>
<circle cx="102.01" cy="108.45" r="1.45" fill="#e41e73" fill-opacity="0.62"/>
<circle cx="186.23" cy="80.35" r="1.45" fill="#e41e73" fill-opacity="0.62"/>
<circle cx="188.62" cy="77.03" r="1.45" fill="#b42898" fill-opacity="0.62"/>
<circle cx="218.91" cy="69.06" r="1.45" fill="#b42898" fill-opacity="0.62"/>
<circle cx="165.64" cy="85.96" r="1.45" fill="#e41e73" fill-opacity="0.62"/>
<circle cx="211.84" cy="70.18" r="1.45" fill="#4b48b6" fill-opacity="0.62"/>
<circle cx="211.08" cy="74.23" r="1.45" fill="#e41e73" fill-opacity="0.62"/>
<circle cx="227.01" cy="69.29" r="1.45" fill="#4b48b6" fill-opacity="0.62"/>
<circle cx="132.82" cy="93.32" r="1.45" fill="#b42898" fill-opacity="0.62"/>
<circle cx="200.09" cy="72.41" r="1.45" fill="#287dde" fill-opacity="0.62"/>
<circle cx="225.58" cy="70.76" r="1.45" fill="#b42898" fill-opacity="0.62"/>
<circle cx="55.76" cy="129.69" r="1.45" fill="#4b48b6" fill-opacity="0.62"/>
<circle cx="59.78" cy="129.02" r="1.45" fill="#4b48b6" fill-opacity="0.62"/>
<circle cx="113.86" cy="103.75" r="1.45" fill="#4b48b6" fill-opacity="0.62"/>
<circle cx="147.40" cy="91.36" r="1.45" fill="#b42898" fill-opacity="0.62"/>
<circle cx="109.45" cy="103.12" r="1.45" fill="#e41e73" fill-opacity="0.62"/>
<circle cx="231.99" cy="70.64" r="1.45" fill="#287dde" fill-opacity="0.62"/>
<circle cx="78.80" cy="121.37" r="1.45" fill="#4b48b6" fill-opacity="0.62"/>
<circle cx="237.79" cy="69.50" r="1.45" fill="#b42898" fill-opacity="0.62"/>
<circle cx="546.80" cy="82.20" r="1.45" fill="#4b48b6" fill-opacity="0.62"/>
<circle cx="543.90" cy="77.50" r="1.45" fill="#287dde" fill-opacity="0.62"/>
<circle cx="445.30" cy="132.60" r="1.45" fill="#4b48b6" fill-opacity="0.62"/>
<circle cx="451.70" cy="129.70" r="1.45" fill="#4b48b6" fill-opacity="0.62"/>
<circle cx="610.20" cy="48.90" r="1.45" fill="#287dde" fill-opacity="0.62"/>
<circle cx="490.60" cy="121.70" r="1.45" fill="#287dde" fill-opacity="0.62"/>
<circle cx="431.30" cy="134.60" r="1.45" fill="#e41e73" fill-opacity="0.62"/>
<circle cx="543.30" cy="88.60" r="1.45" fill="#e41e73" fill-opacity="0.62"/>
<circle cx="452.30" cy="137.90" r="1.45" fill="#e41e73" fill-opacity="0.62"/>
<circle cx="440.00" cy="139.00" r="1.45" fill="#e41e73" fill-opacity="0.62"/>
<circle cx="442.40" cy="128.00" r="1.45" fill="#287dde" fill-opacity="0.62"/>
<circle cx="457.30" cy="122.70" r="1.45" fill="#b42898" fill-opacity="0.62"/>
<circle cx="573.50" cy="59.90" r="1.45" fill="#4b48b6" fill-opacity="0.62"/>
<circle cx="515.50" cy="105.90" r="1.45" fill="#b42898" fill-opacity="0.62"/>
<circle cx="470.40" cy="133.50" r="1.45" fill="#287dde" fill-opacity="0.62"/>
<circle cx="603.70" cy="38.50" r="1.45" fill="#e41e73" fill-opacity="0.62"/>
<circle cx="609.10" cy="51.10" r="1.45" fill="#e41e73" fill-opacity="0.62"/>
<circle cx="553.20" cy="68.80" r="1.45" fill="#287dde" fill-opacity="0.62"/>
<circle cx="452.30" cy="143.70" r="1.45" fill="#e41e73" fill-opacity="0.62"/>
<circle cx="569.70" cy="55.00" r="1.45" fill="#287dde" fill-opacity="0.62"/>
<circle cx="576.30" cy="56.10" r="1.45" fill="#e41e73" fill-opacity="0.62"/>
<circle cx="558.80" cy="50.60" r="1.45" fill="#4b48b6" fill-opacity="0.62"/>
<circle cx="609.10" cy="36.40" r="1.45" fill="#287dde" fill-opacity="0.62"/>
<circle cx="464.00" cy="132.60" r="1.45" fill="#287dde" fill-opacity="0.62"/>
<circle cx="418.80" cy="148.40" r="1.45" fill="#e41e73" fill-opacity="0.62"/>
<circle cx="554.90" cy="88.10" r="1.45" fill="#e41e73" fill-opacity="0.62"/>
<circle cx="460.50" cy="133.20" r="1.45" fill="#e41e73" fill-opacity="0.62"/>
<circle cx="490.10" cy="111.60" r="1.45" fill="#287dde" fill-opacity="0.62"/>
<circle cx="534.00" cy="84.00" r="1.45" fill="#4b48b6" fill-opacity="0.62"/>
<circle cx="600.40" cy="26.50" r="1.45" fill="#b42898" fill-opacity="0.62"/>
<circle cx="453.50" cy="122.10" r="1.45" fill="#4b48b6" fill-opacity="0.62"/>
<circle cx="481.80" cy="127.00" r="1.45" fill="#b42898" fill-opacity="0.62"/>
<circle cx="485.30" cy="114.70" r="1.45" fill="#e41e73" fill-opacity="0.62"/>
<circle cx="541.00" cy="75.80" r="1.45" fill="#287dde" fill-opacity="0.62"/>
<circle cx="597.60" cy="22.90" r="1.45" fill="#b42898" fill-opacity="0.62"/>
<circle cx="547.40" cy="72.80" r="1.45" fill="#e41e73" fill-opacity="0.62"/>
<circle cx="500.20" cy="108.10" r="1.45" fill="#4b48b6" fill-opacity="0.62"/>
<circle cx="597.10" cy="49.50" r="1.45" fill="#287dde" fill-opacity="0.62"/>
<circle cx="493.60" cy="125.20" r="1.45" fill="#b42898" fill-opacity="0.62"/>
<circle cx="583.40" cy="44.00" r="1.45" fill="#287dde" fill-opacity="0.62"/>
<circle cx="559.90" cy="73.00" r="1.45" fill="#e41e73" fill-opacity="0.62"/>
<circle cx="530.50" cy="97.00" r="1.45" fill="#4b48b6" fill-opacity="0.62"/>
<circle cx="534.60" cy="82.20" r="1.45" fill="#4b48b6" fill-opacity="0.62"/>
<circle cx="525.20" cy="102.90" r="1.45" fill="#287dde" fill-opacity="0.62"/>
<circle cx="514.70" cy="96.30" r="1.45" fill="#4b48b6" fill-opacity="0.62"/>
<circle cx="517.00" cy="91.50" r="1.45" fill="#287dde" fill-opacity="0.62"/>
<circle cx="594.90" cy="47.80" r="1.45" fill="#4b48b6" fill-opacity="0.62"/>
<circle cx="565.30" cy="59.90" r="1.45" fill="#4b48b6" fill-opacity="0.62"/>
<circle cx="588.30" cy="42.40" r="1.45" fill="#e41e73" fill-opacity="0.62"/>
<circle cx="440.60" cy="130.30" r="1.45" fill="#b42898" fill-opacity="0.62"/>
<circle cx="456.40" cy="139.60" r="1.45" fill="#b42898" fill-opacity="0.62"/>
<circle cx="557.70" cy="59.90" r="1.45" fill="#b42898" fill-opacity="0.62"/>
<circle cx="558.20" cy="48.90" r="1.45" fill="#b42898" fill-opacity="0.62"/>
<circle cx="477.00" cy="125.20" r="1.45" fill="#e41e73" fill-opacity="0.62"/>
<circle cx="437.70" cy="140.80" r="1.45" fill="#e41e73" fill-opacity="0.62"/>
<circle cx="478.30" cy="114.70" r="1.45" fill="#e41e73" fill-opacity="0.62"/>
<circle cx="465.70" cy="132.60" r="1.45" fill="#b42898" fill-opacity="0.62"/>
<circle cx="481.40" cy="121.70" r="1.45" fill="#e41e73" fill-opacity="0.62"/>
<circle cx="451.10" cy="120.40" r="1.45" fill="#e41e73" fill-opacity="0.62"/>
<circle cx="551.10" cy="74.10" r="1.45" fill="#287dde" fill-opacity="0.62"/>
<circle cx="591.10" cy="42.40" r="1.45" fill="#287dde" fill-opacity="0.62"/>
<circle cx="457.60" cy="142.00" r="1.45" fill="#4b48b6" fill-opacity="0.62"/>
<circle cx="462.20" cy="118.00" r="1.45" fill="#4b48b6" fill-opacity="0.62"/>
<circle cx="530.50" cy="92.10" r="1.45" fill="#4b48b6" fill-opacity="0.62"/>
<circle cx="558.20" cy="64.30" r="1.45" fill="#287dde" fill-opacity="0.62"/>
<circle cx="472.20" cy="126.10" r="1.45" fill="#e41e73" fill-opacity="0.62"/>
<circle cx="453.50" cy="125.60" r="1.45" fill="#4b48b6" fill-opacity="0.62"/>
<circle cx="608.00" cy="30.30" r="1.45" fill="#4b48b6" fill-opacity="0.62"/>
<circle cx="449.10" cy="130.60" r="1.45" fill="#4b48b6" fill-opacity="0.62"/>
<circle cx="491.00" cy="127.80" r="1.45" fill="#4b48b6" fill-opacity="0.62"/>
<circle cx="459.30" cy="127.40" r="1.45" fill="#b42898" fill-opacity="0.62"/>
<circle cx="608.60" cy="36.90" r="1.45" fill="#e41e73" fill-opacity="0.62"/>
<circle cx="468.60" cy="124.50" r="1.45" fill="#287dde" fill-opacity="0.62"/>
<circle cx="447.60" cy="137.30" r="1.45" fill="#287dde" fill-opacity="0.62"/>
<circle cx="569.70" cy="58.80" r="1.45" fill="#287dde" fill-opacity="0.62"/>
<circle cx="566.40" cy="53.90" r="1.45" fill="#287dde" fill-opacity="0.62"/>
<circle cx="504.80" cy="95.00" r="1.45" fill="#287dde" fill-opacity="0.62"/>
<circle cx="550.00" cy="71.40" r="1.45" fill="#4b48b6" fill-opacity="0.62"/>
<circle cx="472.60" cy="122.90" r="1.45" fill="#e41e73" fill-opacity="0.62"/>
<circle cx="424.30" cy="134.10" r="1.45" fill="#e41e73" fill-opacity="0.62"/>
<circle cx="534.60" cy="88.60" r="1.45" fill="#e41e73" fill-opacity="0.62"/>
<circle cx="599.80" cy="34.70" r="1.45" fill="#287dde" fill-opacity="0.62"/>
<circle cx="455.20" cy="131.50" r="1.45" fill="#287dde" fill-opacity="0.62"/>
<circle cx="461.60" cy="129.10" r="1.45" fill="#b42898" fill-opacity="0.62"/>
<circle cx="466.90" cy="123.90" r="1.45" fill="#e41e73" fill-opacity="0.62"/>
<circle cx="563.70" cy="70.80" r="1.45" fill="#b42898" fill-opacity="0.62"/>
<circle cx="557.10" cy="75.20" r="1.45" fill="#287dde" fill-opacity="0.62"/>
<circle cx="535.00" cy="98.00" r="1.45" fill="#287dde" fill-opacity="0.62"/>
<circle cx="429.50" cy="148.40" r="1.45" fill="#b42898" fill-opacity="0.62"/>
<circle cx="568.10" cy="50.60" r="1.45" fill="#4b48b6" fill-opacity="0.62"/>
<circle cx="500.20" cy="109.90" r="1.45" fill="#287dde" fill-opacity="0.62"/>
<circle cx="420.80" cy="138.80" r="1.45" fill="#e41e73" fill-opacity="0.62"/>
<circle cx="430.90" cy="143.70" r="1.45" fill="#287dde" fill-opacity="0.62"/>
<circle cx="455.20" cy="126.80" r="1.45" fill="#e41e73" fill-opacity="0.62"/>
<circle cx="441.20" cy="133.20" r="1.45" fill="#b42898" fill-opacity="0.62"/>
<circle cx="605.80" cy="46.80" r="1.45" fill="#287dde" fill-opacity="0.62"/>
<circle cx="555.50" cy="74.70" r="1.45" fill="#287dde" fill-opacity="0.62"/>
<circle cx="477.40" cy="132.70" r="1.45" fill="#4b48b6" fill-opacity="0.62"/>
<circle cx="421.10" cy="131.70" r="1.45" fill="#b42898" fill-opacity="0.62"/>
<circle cx="552.10" cy="71.70" r="1.45" fill="#4b48b6" fill-opacity="0.62"/>
<circle cx="428.90" cy="147.00" r="1.45" fill="#b42898" fill-opacity="0.62"/>
<circle cx="543.30" cy="81.00" r="1.45" fill="#4b48b6" fill-opacity="0.62"/>
<circle cx="549.70" cy="71.70" r="1.45" fill="#4b48b6" fill-opacity="0.62"/>
<circle cx="567.00" cy="65.90" r="1.45" fill="#e41e73" fill-opacity="0.62"/>
<circle cx="524.70" cy="105.50" r="1.45" fill="#b42898" fill-opacity="0.62"/>
<circle cx="594.30" cy="44.60" r="1.45" fill="#e41e73" fill-opacity="0.62"/>
<circle cx="600.40" cy="47.80" r="1.45" fill="#4b48b6" fill-opacity="0.62"/>
<circle cx="476.60" cy="127.80" r="1.45" fill="#b42898" fill-opacity="0.62"/>
<circle cx="424.30" cy="126.00" r="1.45" fill="#4b48b6" fill-opacity="0.62"/>
<circle cx="504.20" cy="116.00" r="1.45" fill="#e41e73" fill-opacity="0.62"/>
<circle cx="521.70" cy="98.50" r="1.45" fill="#e41e73" fill-opacity="0.62"/>
<circle cx="507.10" cy="93.30" r="1.45" fill="#287dde" fill-opacity="0.62"/>
<circle cx="482.70" cy="118.20" r="1.45" fill="#287dde" fill-opacity="0.62"/>
<circle cx="528.70" cy="95.90" r="1.45" fill="#287dde" fill-opacity="0.62"/>
<circle cx="505.00" cy="95.40" r="1.45" fill="#e41e73" fill-opacity="0.62"/>
<circle cx="550.90" cy="75.20" r="1.45" fill="#e41e73" fill-opacity="0.62"/>
<circle cx="590.00" cy="55.00" r="1.45" fill="#e41e73" fill-opacity="0.62"/>
<circle cx="474.40" cy="127.40" r="1.45" fill="#b42898" fill-opacity="0.62"/>
<circle cx="469.20" cy="116.90" r="1.45" fill="#b42898" fill-opacity="0.62"/>
<circle cx="575.20" cy="37.40" r="1.45" fill="#4b48b6" fill-opacity="0.62"/>
<circle cx="539.20" cy="78.70" r="1.45" fill="#287dde" fill-opacity="0.62"/>
<circle cx="460.50" cy="121.50" r="1.45" fill="#b42898" fill-opacity="0.62"/>
<circle cx="423.10" cy="153.70" r="1.45" fill="#b42898" fill-opacity="0.62"/>
<circle cx="594.30" cy="37.40" r="1.45" fill="#e41e73" fill-opacity="0.62"/>
<circle cx="477.90" cy="118.20" r="1.45" fill="#b42898" fill-opacity="0.62"/>
<circle cx="496.00" cy="104.40" r="1.45" fill="#4b48b6" fill-opacity="0.62"/>
<circle cx="528.70" cy="98.90" r="1.45" fill="#e41e73" fill-opacity="0.62"/>
<circle cx="541.60" cy="78.10" r="1.45" fill="#e41e73" fill-opacity="0.62"/>
<circle cx="561.50" cy="66.50" r="1.45" fill="#e41e73" fill-opacity="0.62"/>
<circle cx="426.00" cy="148.40" r="1.45" fill="#287dde" fill-opacity="0.62"/>
<circle cx="547.40" cy="74.00" r="1.45" fill="#e41e73" fill-opacity="0.62"/>
<circle cx="556.00" cy="78.00" r="1.45" fill="#b42898" fill-opacity="0.62"/>
<circle cx="488.40" cy="123.90" r="1.45" fill="#4b48b6" fill-opacity="0.62"/>
<circle cx="600.40" cy="38.00" r="1.45" fill="#e41e73" fill-opacity="0.62"/>
<circle cx="501.10" cy="116.90" r="1.45" fill="#b42898" fill-opacity="0.62"/>
<circle cx="475.30" cy="121.30" r="1.45" fill="#b42898" fill-opacity="0.62"/>
<circle cx="485.30" cy="120.80" r="1.45" fill="#e41e73" fill-opacity="0.62"/>
<circle cx="604.70" cy="42.90" r="1.45" fill="#b42898" fill-opacity="0.62"/>
<circle cx="545.10" cy="86.30" r="1.45" fill="#e41e73" fill-opacity="0.62"/>
<circle cx="553.30" cy="68.70" r="1.45" fill="#4b48b6" fill-opacity="0.62"/>
<circle cx="590.00" cy="37.40" r="1.45" fill="#4b48b6" fill-opacity="0.62"/>
<circle cx="564.20" cy="59.90" r="1.45" fill="#b42898" fill-opacity="0.62"/>
<circle cx="502.00" cy="122.20" r="1.45" fill="#b42898" fill-opacity="0.62"/>
<circle cx="456.40" cy="136.70" r="1.45" fill="#b42898" fill-opacity="0.62"/>
<circle cx="494.30" cy="109.60" r="1.45" fill="#287dde" fill-opacity="0.62"/>
<circle cx="462.20" cy="134.40" r="1.45" fill="#e41e73" fill-opacity="0.62"/>
<circle cx="490.10" cy="125.20" r="1.45" fill="#4b48b6" fill-opacity="0.62"/>
<circle cx="504.80" cy="92.70" r="1.45" fill="#4b48b6" fill-opacity="0.62"/>
<circle cx="442.40" cy="136.70" r="1.45" fill="#e41e73" fill-opacity="0.62"/>
<circle cx="535.70" cy="79.90" r="1.45" fill="#b42898" fill-opacity="0.62"/>
<circle cx="420.20" cy="134.10" r="1.45" fill="#287dde" fill-opacity="0.62"/>
<circle cx="508.50" cy="97.60" r="1.45" fill="#287dde" fill-opacity="0.62"/>
<circle cx="539.20" cy="91.50" r="1.45" fill="#e41e73" fill-opacity="0.62"/>
<circle cx="416.70" cy="142.80" r="1.45" fill="#b42898" fill-opacity="0.62"/>
<circle cx="556.00" cy="93.00" r="1.45" fill="#e41e73" fill-opacity="0.62"/>
<circle cx="435.10" cy="142.30" r="1.45" fill="#e41e73" fill-opacity="0.62"/>
<circle cx="451.70" cy="135.50" r="1.45" fill="#b42898" fill-opacity="0.62"/>
<circle cx="470.00" cy="116.50" r="1.45" fill="#e41e73" fill-opacity="0.62"/>
<circle cx="606.90" cy="34.70" r="1.45" fill="#b42898" fill-opacity="0.62"/>
<circle cx="570.80" cy="56.10" r="1.45" fill="#4b48b6" fill-opacity="0.62"/>
<circle cx="434.80" cy="133.80" r="1.45" fill="#e41e73" fill-opacity="0.62"/>
<circle cx="497.20" cy="106.80" r="1.45" fill="#b42898" fill-opacity="0.62"/>
<circle cx="567.50" cy="60.40" r="1.45" fill="#287dde" fill-opacity="0.62"/>
<circle cx="443.50" cy="143.10" r="1.45" fill="#4b48b6" fill-opacity="0.62"/>
<circle cx="499.80" cy="114.70" r="1.45" fill="#287dde" fill-opacity="0.62"/>
<circle cx="536.90" cy="81.60" r="1.45" fill="#e41e73" fill-opacity="0.62"/>
<circle cx="574.10" cy="67.00" r="1.45" fill="#e41e73" fill-opacity="0.62"/>
<circle cx="594.30" cy="30.90" r="1.45" fill="#4b48b6" fill-opacity="0.62"/>
<circle cx="594.90" cy="41.30" r="1.45" fill="#287dde" fill-opacity="0.62"/>
<circle cx="426.00" cy="146.10" r="1.45" fill="#287dde" fill-opacity="0.62"/>
<circle cx="577.40" cy="53.90" r="1.45" fill="#287dde" fill-opacity="0.62"/>
<circle cx="503.30" cy="106.80" r="1.45" fill="#b42898" fill-opacity="0.62"/>
<circle cx="581.80" cy="57.70" r="1.45" fill="#e41e73" fill-opacity="0.62"/>
<circle cx="458.10" cy="136.70" r="1.45" fill="#4b48b6" fill-opacity="0.62"/>
<circle cx="573.00" cy="66.50" r="1.45" fill="#e41e73" fill-opacity="0.62"/>
<circle cx="434.20" cy="124.20" r="1.45" fill="#4b48b6" fill-opacity="0.62"/>
<circle cx="440.00" cy="140.20" r="1.45" fill="#b42898" fill-opacity="0.62"/>
<circle cx="593.20" cy="35.30" r="1.45" fill="#4b48b6" fill-opacity="0.62"/>
<circle cx="604.70" cy="32.50" r="1.45" fill="#4b48b6" fill-opacity="0.62"/>
<circle cx="427.40" cy="141.40" r="1.45" fill="#4b48b6" fill-opacity="0.62"/>
<circle cx="470.40" cy="131.80" r="1.45" fill="#4b48b6" fill-opacity="0.62"/>
<circle cx="478.80" cy="127.00" r="1.45" fill="#4b48b6" fill-opacity="0.62"/>
<circle cx="596.00" cy="42.90" r="1.45" fill="#b42898" fill-opacity="0.62"/>
<circle cx="608.00" cy="45.10" r="1.45" fill="#b42898" fill-opacity="0.62"/>
<circle cx="544.50" cy="74.00" r="1.45" fill="#b42898" fill-opacity="0.62"/>
<circle cx="418.80" cy="144.30" r="1.45" fill="#e41e73" fill-opacity="0.62"/>
<circle cx="432.40" cy="128.90" r="1.45" fill="#287dde" fill-opacity="0.62"/>
<circle cx="553.30" cy="72.50" r="1.45" fill="#287dde" fill-opacity="0.62"/>
<circle cx="494.50" cy="109.50" r="1.45" fill="#e41e73" fill-opacity="0.62"/>
<circle cx="562.00" cy="53.30" r="1.45" fill="#4b48b6" fill-opacity="0.62"/>
<circle cx="496.60" cy="106.70" r="1.45" fill="#b42898" fill-opacity="0.62"/>
<circle cx="593.20" cy="32.50" r="1.45" fill="#e41e73" fill-opacity="0.62"/>
<circle cx="512.40" cy="93.90" r="1.45" fill="#b42898" fill-opacity="0.62"/>
<circle cx="451.70" cy="139.60" r="1.45" fill="#e41e73" fill-opacity="0.62"/>
<circle cx="557.70" cy="62.60" r="1.45" fill="#e41e73" fill-opacity="0.62"/>
<circle cx="445.30" cy="128.00" r="1.45" fill="#4b48b6" fill-opacity="0.62"/>
<circle cx="585.00" cy="42.90" r="1.45" fill="#e41e73" fill-opacity="0.62"/>
<circle cx="517.70" cy="107.30" r="1.45" fill="#4b48b6" fill-opacity="0.62"/>
<circle cx="449.40" cy="147.20" r="1.45" fill="#b42898" fill-opacity="0.62"/>
<circle cx="528.70" cy="91.50" r="1.45" fill="#b42898" fill-opacity="0.62"/>
<circle cx="492.30" cy="120.00" r="1.45" fill="#e41e73" fill-opacity="0.62"/>
<circle cx="469.80" cy="133.20" r="1.45" fill="#4b48b6" fill-opacity="0.62"/>
<circle cx="487.50" cy="120.40" r="1.45" fill="#e41e73" fill-opacity="0.62"/>
<circle cx="524.00" cy="92.10" r="1.45" fill="#4b48b6" fill-opacity="0.62"/>
<circle cx="545.10" cy="76.90" r="1.45" fill="#e41e73" fill-opacity="0.62"/>
<circle cx="483.10" cy="121.30" r="1.45" fill="#e41e73" fill-opacity="0.62"/>
<circle cx="533.40" cy="90.40" r="1.45" fill="#4b48b6" fill-opacity="0.62"/>
<circle cx="590.00" cy="46.20" r="1.45" fill="#b42898" fill-opacity="0.62"/>
<circle cx="467.50" cy="127.40" r="1.45" fill="#b42898" fill-opacity="0.62"/>
<circle cx="416.70" cy="148.70" r="1.45" fill="#4b48b6" fill-opacity="0.62"/>
<circle cx="554.40" cy="76.90" r="1.45" fill="#b42898" fill-opacity="0.62"/>
<circle cx="463.40" cy="127.40" r="1.45" fill="#e41e73" fill-opacity="0.62"/>
<circle cx="539.20" cy="95.00" r="1.45" fill="#287dde" fill-opacity="0.62"/>
<circle cx="577.90" cy="57.70" r="1.45" fill="#e41e73" fill-opacity="0.62"/>
<circle cx="547.40" cy="93.30" r="1.45" fill="#4b48b6" fill-opacity="0.62"/>
<circle cx="469.20" cy="121.50" r="1.45" fill="#287dde" fill-opacity="0.62"/>
<circle cx="452.90" cy="147.20" r="1.45" fill="#e41e73" fill-opacity="0.62"/>
<circle cx="575.20" cy="35.80" r="1.45" fill="#4b48b6" fill-opacity="0.62"/>
<circle cx="485.80" cy="125.20" r="1.45" fill="#b42898" fill-opacity="0.62"/>
<circle cx="476.10" cy="123.90" r="1.45" fill="#287dde" fill-opacity="0.62"/>
<circle cx="576.80" cy="41.80" r="1.45" fill="#287dde" fill-opacity="0.62"/>
<circle cx="478.80" cy="118.00" r="1.45" fill="#b42898" fill-opacity="0.62"/>
<circle cx="527.60" cy="90.40" r="1.45" fill="#e41e73" fill-opacity="0.62"/>
<circle cx="533.40" cy="79.30" r="1.45" fill="#287dde" fill-opacity="0.62"/>
<circle cx="521.20" cy="103.80" r="1.45" fill="#b42898" fill-opacity="0.62"/>
<circle cx="583.90" cy="56.60" r="1.45" fill="#b42898" fill-opacity="0.62"/>
<circle cx="566.40" cy="63.70" r="1.45" fill="#287dde" fill-opacity="0.62"/>
<circle cx="525.80" cy="91.00" r="1.45" fill="#4b48b6" fill-opacity="0.62"/>
<circle cx="443.50" cy="131.50" r="1.45" fill="#e41e73" fill-opacity="0.62"/>
<circle cx="502.00" cy="120.80" r="1.45" fill="#b42898" fill-opacity="0.62"/>
<circle cx="548.60" cy="82.20" r="1.45" fill="#e41e73" fill-opacity="0.62"/>
<circle cx="601.50" cy="33.10" r="1.45" fill="#b42898" fill-opacity="0.62"/>
<circle cx="457.30" cy="147.20" r="1.45" fill="#b42898" fill-opacity="0.62"/>
<circle cx="423.70" cy="140.20" r="1.45" fill="#b42898" fill-opacity="0.62"/>
<circle cx="443.50" cy="136.10" r="1.45" fill="#4b48b6" fill-opacity="0.62"/>
<circle cx="563.10" cy="54.40" r="1.45" fill="#287dde" fill-opacity="0.62"/>
<circle cx="591.60" cy="38.00" r="1.45" fill="#4b48b6" fill-opacity="0.62"/>
<circle cx="479.60" cy="121.70" r="1.45" fill="#e41e73" fill-opacity="0.62"/>
<circle cx="485.80" cy="117.80" r="1.45" fill="#4b48b6" fill-opacity="0.62"/>
<circle cx="494.10" cy="119.50" r="1.45" fill="#4b48b6" fill-opacity="0.62"/>
<circle cx="433.00" cy="144.30" r="1.45" fill="#287dde" fill-opacity="0.62"/>
<circle cx="580.10" cy="46.20" r="1.45" fill="#287dde" fill-opacity="0.62"/>
<circle cx="520.00" cy="93.30" r="1.45" fill="#4b48b6" fill-opacity="0.62"/>
<circle cx="554.90" cy="83.80" r="1.45" fill="#287dde" fill-opacity="0.62"/>
<circle cx="598.20" cy="34.70" r="1.45" fill="#287dde" fill-opacity="0.62"/>
<circle cx="515.10" cy="98.90" r="1.45" fill="#b42898" fill-opacity="0.62"/>
<circle cx="422.30" cy="144.90" r="1.45" fill="#e41e73" fill-opacity="0.62"/>
<circle cx="503.30" cy="110.80" r="1.45" fill="#e41e73" fill-opacity="0.62"/>
<circle cx="425.80" cy="134.70" r="1.45" fill="#4b48b6" fill-opacity="0.62"/>
<circle cx="422.30" cy="141.20" r="1.45" fill="#287dde" fill-opacity="0.62"/>
<circle cx="513.80" cy="105.10" r="1.45" fill="#287dde" fill-opacity="0.62"/>
<circle cx="506.80" cy="105.50" r="1.45" fill="#e41e73" fill-opacity="0.62"/>
<circle cx="531.10" cy="79.30" r="1.45" fill="#4b48b6" fill-opacity="0.62"/>
<circle cx="511.20" cy="103.80" r="1.45" fill="#b42898" fill-opacity="0.62"/>
<circle cx="454.00" cy="136.70" r="1.45" fill="#e41e73" fill-opacity="0.62"/>
<circle cx="445.30" cy="144.30" r="1.45" fill="#4b48b6" fill-opacity="0.62"/>
<circle cx="603.70" cy="48.90" r="1.45" fill="#287dde" fill-opacity="0.62"/>
<circle cx="588.30" cy="50.60" r="1.45" fill="#287dde" fill-opacity="0.62"/>
<circle cx="596.00" cy="35.30" r="1.45" fill="#4b48b6" fill-opacity="0.62"/>
<circle cx="563.10" cy="61.00" r="1.45" fill="#287dde" fill-opacity="0.62"/>
<circle cx="496.30" cy="104.60" r="1.45" fill="#e41e73" fill-opacity="0.62"/>
<circle cx="560.40" cy="70.80" r="1.45" fill="#b42898" fill-opacity="0.62"/>
<circle cx="570.30" cy="62.10" r="1.45" fill="#e41e73" fill-opacity="0.62"/>
<circle cx="512.00" cy="106.40" r="1.45" fill="#e41e73" fill-opacity="0.62"/>
<circle cx="514.70" cy="94.50" r="1.45" fill="#b42898" fill-opacity="0.62"/>
<circle cx="54.67" cy="362.01" r="1.45" fill="#e31e74" fill-opacity="0.62"/>
<circle cx="48.74" cy="361.54" r="1.45" fill="#ca2387" fill-opacity="0.62"/>
<circle cx="53.68" cy="362.15" r="1.45" fill="#d22281" fill-opacity="0.62"/>
<circle cx="45.02" cy="361.77" r="1.45" fill="#d02282" fill-opacity="0.62"/>
<circle cx="51.55" cy="361.75" r="1.45" fill="#bc2692" fill-opacity="0.62"/>
<circle cx="49.84" cy="361.86" r="1.45" fill="#c4258c" fill-opacity="0.62"/>
<circle cx="55.23" cy="361.72" r="1.45" fill="#cf2283" fill-opacity="0.62"/>
<circle cx="47.40" cy="361.65" r="1.45" fill="#bd2691" fill-opacity="0.62"/>
<circle cx="54.89" cy="361.70" r="1.45" fill="#d22281" fill-opacity="0.62"/>
<circle cx="49.35" cy="362.05" r="1.45" fill="#de1f78" fill-opacity="0.62"/>
<circle cx="47.95" cy="362.15" r="1.45" fill="#ce2384" fill-opacity="0.62"/>
<circle cx="55.64" cy="361.76" r="1.45" fill="#cd2385" fill-opacity="0.62"/>
<circle cx="45.91" cy="361.72" r="1.45" fill="#ba2793" fill-opacity="0.62"/>
<circle cx="48.38" cy="361.92" r="1.45" fill="#bd2691" fill-opacity="0.62"/>
<circle cx="47.44" cy="362.11" r="1.45" fill="#d12281" fill-opacity="0.62"/>
<circle cx="52.18" cy="361.65" r="1.45" fill="#e11f75" fill-opacity="0.62"/>
<circle cx="48.37" cy="361.57" r="1.45" fill="#cc2385" fill-opacity="0.62"/>
<circle cx="52.25" cy="361.93" r="1.45" fill="#be2690" fill-opacity="0.62"/>
<circle cx="55.36" cy="361.74" r="1.45" fill="#e41e73" fill-opacity="0.62"/>
<circle cx="49.59" cy="361.52" r="1.45" fill="#ba2793" fill-opacity="0.62"/>
<circle cx="49.48" cy="361.99" r="1.45" fill="#ce2384" fill-opacity="0.62"/>
<circle cx="55.39" cy="362.13" r="1.45" fill="#de1f78" fill-opacity="0.62"/>
<circle cx="52.83" cy="360.55" r="1.45" fill="#4256c0" fill-opacity="0.62"/>
<circle cx="46.02" cy="360.19" r="1.45" fill="#3170d4" fill-opacity="0.62"/>
<circle cx="46.01" cy="360.55" r="1.45" fill="#3b61c9" fill-opacity="0.62"/>
<circle cx="47.17" cy="360.51" r="1.45" fill="#3668ce" fill-opacity="0.62"/>
<circle cx="47.82" cy="360.43" r="1.45" fill="#2e73d7" fill-opacity="0.62"/>
<circle cx="56.58" cy="360.56" r="1.45" fill="#2a7adc" fill-opacity="0.62"/>
<circle cx="51.76" cy="360.02" r="1.45" fill="#4a4ab7" fill-opacity="0.62"/>
<circle cx="48.10" cy="360.31" r="1.45" fill="#4354bf" fill-opacity="0.62"/>
<circle cx="54.34" cy="360.29" r="1.45" fill="#2c77da" fill-opacity="0.62"/>
<circle cx="48.84" cy="360.00" r="1.45" fill="#2f72d6" fill-opacity="0.62"/>
<circle cx="54.18" cy="360.35" r="1.45" fill="#3864cb" fill-opacity="0.62"/>
<circle cx="52.99" cy="360.28" r="1.45" fill="#3668ce" fill-opacity="0.62"/>
<circle cx="49.74" cy="360.22" r="1.45" fill="#3668ce" fill-opacity="0.62"/>
<circle cx="50.37" cy="360.48" r="1.45" fill="#4a4ab8" fill-opacity="0.62"/>
<circle cx="55.96" cy="360.28" r="1.45" fill="#4a4ab8" fill-opacity="0.62"/>
<circle cx="54.81" cy="360.09" r="1.45" fill="#474fbb" fill-opacity="0.62"/>
<circle cx="45.86" cy="360.37" r="1.45" fill="#3668ce" fill-opacity="0.62"/>
<circle cx="54.19" cy="360.47" r="1.45" fill="#4c48b6" fill-opacity="0.62"/>
<circle cx="56.38" cy="360.23" r="1.45" fill="#297cdd" fill-opacity="0.62"/>
<circle cx="45.83" cy="360.58" r="1.45" fill="#346bd0" fill-opacity="0.62"/>
<circle cx="47.80" cy="360.07" r="1.45" fill="#3569cf" fill-opacity="0.62"/>
<circle cx="49.02" cy="360.44" r="1.45" fill="#2f73d6" fill-opacity="0.62"/>
<circle cx="228.84" cy="361.53" r="1.45" fill="#6141b0" fill-opacity="0.62"/>
<circle cx="117.65" cy="361.31" r="1.45" fill="#d8207c" fill-opacity="0.62"/>
<circle cx="236.26" cy="361.42" r="1.45" fill="#d02283" fill-opacity="0.62"/>
<circle cx="177.39" cy="361.55" r="1.45" fill="#d6217e" fill-opacity="0.62"/>
<circle cx="107.39" cy="361.45" r="1.45" fill="#474eba" fill-opacity="0.62"/>
<circle cx="105.89" cy="361.85" r="1.45" fill="#4157c1" fill-opacity="0.62"/>
<circle cx="113.16" cy="361.82" r="1.45" fill="#336cd1" fill-opacity="0.62"/>
<circle cx="226.84" cy="361.30" r="1.45" fill="#4452bd" fill-opacity="0.62"/>
<circle cx="227.66" cy="361.87" r="1.45" fill="#4256c0" fill-opacity="0.62"/>
<circle cx="107.66" cy="361.46" r="1.45" fill="#3b60c8" fill-opacity="0.62"/>
<circle cx="170.82" cy="361.84" r="1.45" fill="#3a62c9" fill-opacity="0.62"/>
<circle cx="229.56" cy="360.90" r="1.45" fill="#da207a" fill-opacity="0.62"/>
<circle cx="171.45" cy="361.70" r="1.45" fill="#3668ce" fill-opacity="0.62"/>
<circle cx="108.99" cy="361.80" r="1.45" fill="#4158c2" fill-opacity="0.62"/>
<circle cx="109.37" cy="361.36" r="1.45" fill="#c82489" fill-opacity="0.62"/>
<circle cx="115.97" cy="361.81" r="1.45" fill="#4354bf" fill-opacity="0.62"/>
<circle cx="174.75" cy="361.46" r="1.45" fill="#6640ae" fill-opacity="0.62"/>
<circle cx="107.91" cy="361.66" r="1.45" fill="#6241af" fill-opacity="0.62"/>
<circle cx="230.28" cy="360.80" r="1.45" fill="#da207b" fill-opacity="0.62"/>
<circle cx="231.73" cy="361.51" r="1.45" fill="#d9207b" fill-opacity="0.62"/>
<circle cx="234.63" cy="361.65" r="1.45" fill="#4157c1" fill-opacity="0.62"/>
<circle cx="169.79" cy="361.89" r="1.45" fill="#3a62ca" fill-opacity="0.62"/>
<circle cx="235.41" cy="361.84" r="1.45" fill="#4b48b6" fill-opacity="0.62"/>
<circle cx="112.32" cy="361.54" r="1.45" fill="#683fae" fill-opacity="0.62"/>
<circle cx="109.79" cy="361.42" r="1.45" fill="#3767cd" fill-opacity="0.62"/>
<circle cx="105.72" cy="361.80" r="1.45" fill="#3569cf" fill-opacity="0.62"/>
<circle cx="239.04" cy="361.34" r="1.45" fill="#4a4ab8" fill-opacity="0.62"/>
<circle cx="114.77" cy="360.97" r="1.45" fill="#dc2079" fill-opacity="0.62"/>
<circle cx="177.84" cy="361.40" r="1.45" fill="#3b60c8" fill-opacity="0.62"/>
<circle cx="177.74" cy="361.65" r="1.45" fill="#4e47b5" fill-opacity="0.62"/>
<circle cx="107.00" cy="361.82" r="1.45" fill="#2f72d6" fill-opacity="0.62"/>
<circle cx="172.66" cy="361.37" r="1.45" fill="#df1f77" fill-opacity="0.62"/>
<circle cx="235.75" cy="361.39" r="1.45" fill="#2e74d7" fill-opacity="0.62"/>
<circle cx="108.86" cy="361.79" r="1.45" fill="#2f73d7" fill-opacity="0.62"/>
<circle cx="175.61" cy="361.36" r="1.45" fill="#3d5ec6" fill-opacity="0.62"/>
<circle cx="230.75" cy="361.70" r="1.45" fill="#d22281" fill-opacity="0.62"/>
<circle cx="233.84" cy="361.82" r="1.45" fill="#6341af" fill-opacity="0.62"/>
<circle cx="176.78" cy="361.67" r="1.45" fill="#cd2385" fill-opacity="0.62"/>
<circle cx="113.08" cy="361.76" r="1.45" fill="#e11f76" fill-opacity="0.62"/>
<circle cx="176.55" cy="361.61" r="1.45" fill="#4f47b5" fill-opacity="0.62"/>
<circle cx="116.98" cy="361.70" r="1.45" fill="#4157c1" fill-opacity="0.62"/>
<circle cx="169.98" cy="361.62" r="1.45" fill="#5744b3" fill-opacity="0.62"/>
<circle cx="170.92" cy="361.54" r="1.45" fill="#4551bc" fill-opacity="0.62"/>
<circle cx="169.59" cy="361.68" r="1.45" fill="#484dba" fill-opacity="0.62"/>
<circle cx="110.19" cy="361.86" r="1.45" fill="#6c3ead" fill-opacity="0.62"/>
<circle cx="228.34" cy="361.42" r="1.45" fill="#5545b3" fill-opacity="0.62"/>
<circle cx="107.91" cy="361.38" r="1.45" fill="#484dba" fill-opacity="0.62"/>
<circle cx="167.73" cy="361.31" r="1.45" fill="#2f73d6" fill-opacity="0.62"/>
<circle cx="229.46" cy="361.71" r="1.45" fill="#474ebb" fill-opacity="0.62"/>
<circle cx="115.99" cy="361.82" r="1.45" fill="#3b61c9" fill-opacity="0.62"/>
<circle cx="230.67" cy="361.84" r="1.45" fill="#3a62c9" fill-opacity="0.62"/>
<circle cx="171.04" cy="361.49" r="1.45" fill="#5d43b1" fill-opacity="0.62"/>
<circle cx="228.83" cy="361.46" r="1.45" fill="#6440af" fill-opacity="0.62"/>
<circle cx="107.08" cy="361.57" r="1.45" fill="#d6217e" fill-opacity="0.62"/>
<circle cx="112.23" cy="361.51" r="1.45" fill="#3963ca" fill-opacity="0.62"/>
<circle cx="166.25" cy="361.76" r="1.45" fill="#e31e74" fill-opacity="0.62"/>
<circle cx="234.29" cy="360.98" r="1.45" fill="#db207a" fill-opacity="0.62"/>
<circle cx="108.45" cy="361.64" r="1.45" fill="#dd1f78" fill-opacity="0.62"/>
<circle cx="168.09" cy="361.81" r="1.45" fill="#474eba" fill-opacity="0.62"/>
<circle cx="172.33" cy="361.56" r="1.45" fill="#d12282" fill-opacity="0.62"/>
<circle cx="176.43" cy="360.76" r="1.45" fill="#d02283" fill-opacity="0.62"/>
<circle cx="107.34" cy="360.86" r="1.45" fill="#d4217f" fill-opacity="0.62"/>
<circle cx="231.88" cy="361.37" r="1.45" fill="#346bd0" fill-opacity="0.62"/>
<circle cx="234.89" cy="361.71" r="1.45" fill="#336cd1" fill-opacity="0.62"/>
<circle cx="229.69" cy="361.32" r="1.45" fill="#cc2386" fill-opacity="0.62"/>
<circle cx="233.44" cy="361.54" r="1.45" fill="#dd1f79" fill-opacity="0.62"/>
<circle cx="173.81" cy="360.89" r="1.45" fill="#dd1f78" fill-opacity="0.62"/>
<circle cx="174.72" cy="361.57" r="1.45" fill="#3071d5" fill-opacity="0.62"/>
<circle cx="173.15" cy="360.64" r="1.45" fill="#db207a" fill-opacity="0.62"/>
<circle cx="173.83" cy="361.51" r="1.45" fill="#4354bf" fill-opacity="0.62"/>
<circle cx="172.72" cy="361.61" r="1.45" fill="#d22281" fill-opacity="0.62"/>
<circle cx="168.77" cy="361.56" r="1.45" fill="#c92488" fill-opacity="0.62"/>
<circle cx="232.02" cy="361.85" r="1.45" fill="#3e5cc5" fill-opacity="0.62"/>
<circle cx="228.15" cy="361.62" r="1.45" fill="#3d5dc5" fill-opacity="0.62"/>
<circle cx="237.31" cy="361.65" r="1.45" fill="#d6217e" fill-opacity="0.62"/>
<circle cx="174.36" cy="361.37" r="1.45" fill="#6a3ead" fill-opacity="0.62"/>
<circle cx="108.84" cy="361.55" r="1.45" fill="#484dba" fill-opacity="0.62"/>
<circle cx="174.93" cy="361.47" r="1.45" fill="#d6217e" fill-opacity="0.62"/>
<circle cx="167.31" cy="361.85" r="1.45" fill="#5c43b1" fill-opacity="0.62"/>
<circle cx="108.25" cy="361.34" r="1.45" fill="#4e47b5" fill-opacity="0.62"/>
<circle cx="231.14" cy="361.68" r="1.45" fill="#e11f75" fill-opacity="0.62"/>
<circle cx="116.27" cy="361.73" r="1.45" fill="#4551bd" fill-opacity="0.62"/>
<circle cx="169.25" cy="361.43" r="1.45" fill="#4354bf" fill-opacity="0.62"/>
<circle cx="115.21" cy="361.88" r="1.45" fill="#3f5ac3" fill-opacity="0.62"/>
<circle cx="237.55" cy="361.38" r="1.45" fill="#db207a" fill-opacity="0.62"/>
<circle cx="115.09" cy="360.95" r="1.45" fill="#e21f75" fill-opacity="0.62"/>
<circle cx="107.52" cy="361.68" r="1.45" fill="#4355c0" fill-opacity="0.62"/>
<circle cx="230.60" cy="361.83" r="1.45" fill="#4256c1" fill-opacity="0.62"/>
<circle cx="232.24" cy="361.67" r="1.45" fill="#3865cc" fill-opacity="0.62"/>
<circle cx="106.93" cy="361.47" r="1.45" fill="#3071d5" fill-opacity="0.62"/>
<circle cx="167.26" cy="361.65" r="1.45" fill="#4059c3" fill-opacity="0.62"/>
<circle cx="237.24" cy="361.78" r="1.45" fill="#3c5fc7" fill-opacity="0.62"/>
<circle cx="112.80" cy="361.89" r="1.45" fill="#2f73d6" fill-opacity="0.62"/>
<circle cx="111.39" cy="361.83" r="1.45" fill="#4059c3" fill-opacity="0.62"/>
<circle cx="175.47" cy="361.37" r="1.45" fill="#3767cd" fill-opacity="0.62"/>
<circle cx="229.11" cy="361.67" r="1.45" fill="#2e74d7" fill-opacity="0.62"/>
<circle cx="233.16" cy="361.63" r="1.45" fill="#d22281" fill-opacity="0.62"/>
<circle cx="235.21" cy="361.87" r="1.45" fill="#464fbb" fill-opacity="0.62"/>
<circle cx="177.49" cy="361.48" r="1.45" fill="#3a61c9" fill-opacity="0.62"/>
<circle cx="478.03" cy="345.22" r="1.45" fill="#e31e74" fill-opacity="0.62"/>
<circle cx="427.07" cy="343.31" r="1.45" fill="#d8207c" fill-opacity="0.62"/>
<circle cx="480.25" cy="344.80" r="1.45" fill="#ac2b9a" fill-opacity="0.62"/>
<circle cx="483.39" cy="355.73" r="1.45" fill="#3a62c9" fill-opacity="0.62"/>
<circle cx="488.12" cy="351.46" r="1.45" fill="#2a7bdc" fill-opacity="0.62"/>
<circle cx="417.61" cy="329.63" r="1.45" fill="#5844b2" fill-opacity="0.62"/>
<circle cx="546.32" cy="379.67" r="1.45" fill="#e11f75" fill-opacity="0.62"/>
<circle cx="484.55" cy="348.05" r="1.45" fill="#cd2385" fill-opacity="0.62"/>
<circle cx="545.35" cy="377.52" r="1.45" fill="#5944b2" fill-opacity="0.62"/>
<circle cx="420.96" cy="325.11" r="1.45" fill="#d9207c" fill-opacity="0.62"/>
<circle cx="603.98" cy="384.17" r="1.45" fill="#3d5dc6" fill-opacity="0.62"/>
<circle cx="420.12" cy="331.44" r="1.45" fill="#484db9" fill-opacity="0.62"/>
<circle cx="606.46" cy="382.76" r="1.45" fill="#2b78da" fill-opacity="0.62"/>
<circle cx="426.27" cy="340.68" r="1.45" fill="#3b60c8" fill-opacity="0.62"/>
<circle cx="547.27" cy="373.13" r="1.45" fill="#4a4ab7" fill-opacity="0.62"/>
<circle cx="482.79" cy="345.98" r="1.45" fill="#b72796" fill-opacity="0.62"/>
<circle cx="421.37" cy="325.01" r="1.45" fill="#9930a0" fill-opacity="0.62"/>
<circle cx="547.97" cy="368.83" r="1.45" fill="#d02282" fill-opacity="0.62"/>
<circle cx="606.06" cy="392.39" r="1.45" fill="#a12e9e" fill-opacity="0.62"/>
<circle cx="545.16" cy="376.50" r="1.45" fill="#4a4ab7" fill-opacity="0.62"/>
<circle cx="600.76" cy="381.92" r="1.45" fill="#6b3ead" fill-opacity="0.62"/>
<circle cx="417.61" cy="328.65" r="1.45" fill="#da207b" fill-opacity="0.62"/>
<circle cx="485.14" cy="356.97" r="1.45" fill="#3b60c8" fill-opacity="0.62"/>
<circle cx="480.89" cy="343.80" r="1.45" fill="#9332a2" fill-opacity="0.62"/>
<circle cx="548.48" cy="366.77" r="1.45" fill="#b82795" fill-opacity="0.62"/>
<circle cx="547.62" cy="378.68" r="1.45" fill="#3569cf" fill-opacity="0.62"/>
<circle cx="546.28" cy="372.10" r="1.45" fill="#8835a5" fill-opacity="0.62"/>
<circle cx="598.57" cy="389.84" r="1.45" fill="#3865cc" fill-opacity="0.62"/>
<circle cx="600.97" cy="377.08" r="1.45" fill="#703dac" fill-opacity="0.62"/>
<circle cx="423.44" cy="329.17" r="1.45" fill="#773aa9" fill-opacity="0.62"/>
<circle cx="426.38" cy="328.86" r="1.45" fill="#5744b3" fill-opacity="0.62"/>
<circle cx="423.33" cy="343.95" r="1.45" fill="#c82488" fill-opacity="0.62"/>
<circle cx="541.26" cy="367.07" r="1.45" fill="#2d76d9" fill-opacity="0.62"/>
<circle cx="605.68" cy="391.57" r="1.45" fill="#c3258c" fill-opacity="0.62"/>
<circle cx="548.51" cy="368.34" r="1.45" fill="#be2690" fill-opacity="0.62"/>
<circle cx="425.56" cy="345.24" r="1.45" fill="#bc2692" fill-opacity="0.62"/>
<circle cx="484.97" cy="358.31" r="1.45" fill="#336cd1" fill-opacity="0.62"/>
<circle cx="539.39" cy="368.62" r="1.45" fill="#b62896" fill-opacity="0.62"/>
<circle cx="541.24" cy="372.72" r="1.45" fill="#4058c2" fill-opacity="0.62"/>
<circle cx="542.62" cy="372.35" r="1.45" fill="#3766cd" fill-opacity="0.62"/>
<circle cx="604.47" cy="393.70" r="1.45" fill="#c5258b" fill-opacity="0.62"/>
<circle cx="422.63" cy="341.29" r="1.45" fill="#ce2384" fill-opacity="0.62"/>
<circle cx="539.60" cy="379.07" r="1.45" fill="#c5248b" fill-opacity="0.62"/>
<circle cx="417.42" cy="329.95" r="1.45" fill="#d4217f" fill-opacity="0.62"/>
<circle cx="544.93" cy="381.42" r="1.45" fill="#4158c2" fill-opacity="0.62"/>
<circle cx="428.18" cy="333.95" r="1.45" fill="#783aa9" fill-opacity="0.62"/>
<circle cx="602.49" cy="387.24" r="1.45" fill="#464fbc" fill-opacity="0.62"/>
<circle cx="545.47" cy="378.83" r="1.45" fill="#d5217f" fill-opacity="0.62"/>
<circle cx="488.52" cy="348.95" r="1.45" fill="#9432a1" fill-opacity="0.62"/>
<circle cx="600.20" cy="398.19" r="1.45" fill="#e31e74" fill-opacity="0.62"/>
<circle cx="607.89" cy="390.68" r="1.45" fill="#de1f78" fill-opacity="0.62"/>
<circle cx="487.61" cy="353.07" r="1.45" fill="#2f72d6" fill-opacity="0.62"/>
<circle cx="425.40" cy="324.02" r="1.45" fill="#da207b" fill-opacity="0.62"/>
<circle cx="484.81" cy="353.01" r="1.45" fill="#4256c0" fill-opacity="0.62"/>
<circle cx="542.99" cy="381.08" r="1.45" fill="#5c43b1" fill-opacity="0.62"/>
<circle cx="546.34" cy="372.19" r="1.45" fill="#494ab8" fill-opacity="0.62"/>
<circle cx="599.64" cy="377.24" r="1.45" fill="#6540af" fill-opacity="0.62"/>
<circle cx="479.91" cy="354.83" r="1.45" fill="#6c3ead" fill-opacity="0.62"/>
<circle cx="419.14" cy="325.77" r="1.45" fill="#c0268f" fill-opacity="0.62"/>
<circle cx="545.34" cy="374.42" r="1.45" fill="#3f5ac3" fill-opacity="0.62"/>
<circle cx="541.83" cy="381.06" r="1.45" fill="#287dde" fill-opacity="0.62"/>
<circle cx="604.51" cy="381.23" r="1.45" fill="#4354bf" fill-opacity="0.62"/>
<circle cx="418.54" cy="344.50" r="1.45" fill="#3b60c8" fill-opacity="0.62"/>
<circle cx="421.69" cy="329.53" r="1.45" fill="#8835a4" fill-opacity="0.62"/>
<circle cx="603.46" cy="381.14" r="1.45" fill="#5d42b1" fill-opacity="0.62"/>
<circle cx="545.16" cy="370.11" r="1.45" fill="#d7217d" fill-opacity="0.62"/>
<circle cx="484.53" cy="350.71" r="1.45" fill="#6141b0" fill-opacity="0.62"/>
<circle cx="601.04" cy="399.63" r="1.45" fill="#8536a6" fill-opacity="0.62"/>
<circle cx="600.82" cy="390.16" r="1.45" fill="#8e33a3" fill-opacity="0.62"/>
<circle cx="607.47" cy="394.73" r="1.45" fill="#cd2385" fill-opacity="0.62"/>
<circle cx="546.66" cy="379.23" r="1.45" fill="#8337a6" fill-opacity="0.62"/>
<circle cx="543.60" cy="377.18" r="1.45" fill="#8636a5" fill-opacity="0.62"/>
<circle cx="539.82" cy="372.64" r="1.45" fill="#3b61c9" fill-opacity="0.62"/>
<circle cx="548.02" cy="366.67" r="1.45" fill="#5a43b2" fill-opacity="0.62"/>
<circle cx="421.71" cy="344.87" r="1.45" fill="#a22d9d" fill-opacity="0.62"/>
<circle cx="423.51" cy="341.95" r="1.45" fill="#b72796" fill-opacity="0.62"/>
<circle cx="542.52" cy="369.73" r="1.45" fill="#3d5dc6" fill-opacity="0.62"/>
<circle cx="481.58" cy="344.26" r="1.45" fill="#e31e74" fill-opacity="0.62"/>
<circle cx="538.67" cy="369.64" r="1.45" fill="#c6248a" fill-opacity="0.62"/>
<circle cx="543.86" cy="380.24" r="1.45" fill="#5046b5" fill-opacity="0.62"/>
<circle cx="605.95" cy="380.61" r="1.45" fill="#2c77d9" fill-opacity="0.62"/>
<circle cx="544.21" cy="378.61" r="1.45" fill="#4157c1" fill-opacity="0.62"/>
<circle cx="477.95" cy="358.33" r="1.45" fill="#4650bc" fill-opacity="0.62"/>
<circle cx="426.77" cy="329.56" r="1.45" fill="#a72c9c" fill-opacity="0.62"/>
<circle cx="478.44" cy="353.73" r="1.45" fill="#2a79db" fill-opacity="0.62"/>
<circle cx="480.00" cy="347.14" r="1.45" fill="#e21e75" fill-opacity="0.62"/>
<circle cx="419.46" cy="342.73" r="1.45" fill="#cd2385" fill-opacity="0.62"/>
<circle cx="481.20" cy="347.34" r="1.45" fill="#d32280" fill-opacity="0.62"/>
<circle cx="603.93" cy="398.94" r="1.45" fill="#c72489" fill-opacity="0.62"/>
<circle cx="603.57" cy="377.23" r="1.45" fill="#3f5ac4" fill-opacity="0.62"/>
<circle cx="488.86" cy="350.50" r="1.45" fill="#484cb9" fill-opacity="0.62"/>
<circle cx="605.13" cy="394.23" r="1.45" fill="#df1f77" fill-opacity="0.62"/>
<circle cx="542.36" cy="366.16" r="1.45" fill="#b72796" fill-opacity="0.62"/>
<circle cx="548.04" cy="370.14" r="1.45" fill="#c0258f" fill-opacity="0.62"/>
<circle cx="418.99" cy="343.01" r="1.45" fill="#d22281" fill-opacity="0.62"/>
<circle cx="547.52" cy="370.38" r="1.45" fill="#4b48b6" fill-opacity="0.62"/>
<circle cx="603.31" cy="396.81" r="1.45" fill="#9233a2" fill-opacity="0.62"/>
<circle cx="604.73" cy="389.59" r="1.45" fill="#b12999" fill-opacity="0.62"/>
<circle cx="600.50" cy="386.05" r="1.45" fill="#3865cc" fill-opacity="0.62"/>
<circle cx="479.47" cy="351.60" r="1.45" fill="#5645b3" fill-opacity="0.62"/>
<circle cx="479.84" cy="358.46" r="1.45" fill="#3b60c8" fill-opacity="0.62"/>
<circle cx="418.25" cy="325.94" r="1.45" fill="#c1258e" fill-opacity="0.62"/>
<circle cx="601.77" cy="397.17" r="1.45" fill="#d6217e" fill-opacity="0.62"/>
<circle cx="486.47" cy="345.00" r="1.45" fill="#db207a" fill-opacity="0.62"/>
<circle cx="601.38" cy="378.83" r="1.45" fill="#2b78db" fill-opacity="0.62"/>
<circle cx="483.19" cy="344.57" r="1.45" fill="#b22999" fill-opacity="0.62"/>
<circle cx="539.55" cy="381.10" r="1.45" fill="#297cdd" fill-opacity="0.62"/>
<circle cx="426.55" cy="341.11" r="1.45" fill="#5744b2" fill-opacity="0.62"/>
<circle cx="479.69" cy="342.46" r="1.45" fill="#b72796" fill-opacity="0.62"/>
<circle cx="603.48" cy="399.10" r="1.45" fill="#8935a4" fill-opacity="0.62"/>
<circle cx="546.49" cy="370.23" r="1.45" fill="#3b61c9" fill-opacity="0.62"/>
<circle cx="545.95" cy="375.26" r="1.45" fill="#713dab" fill-opacity="0.62"/>
<circle cx="601.79" cy="391.68" r="1.45" fill="#c6248a" fill-opacity="0.62"/>
<circle cx="602.13" cy="379.39" r="1.45" fill="#733cab" fill-opacity="0.62"/>
<circle cx="420.12" cy="325.48" r="1.45" fill="#a32d9d" fill-opacity="0.62"/>
<circle cx="600.18" cy="385.52" r="1.45" fill="#3d5dc6" fill-opacity="0.62"/>
<circle cx="545.61" cy="374.43" r="1.45" fill="#8f33a3" fill-opacity="0.62"/>
<circle cx="608.71" cy="392.73" r="1.45" fill="#d9207c" fill-opacity="0.62"/>
<circle cx="546.03" cy="381.23" r="1.45" fill="#d22281" fill-opacity="0.62"/>
<circle cx="418.24" cy="328.30" r="1.45" fill="#e31e74" fill-opacity="0.62"/>
<circle cx="418.15" cy="342.15" r="1.45" fill="#3f5bc4" fill-opacity="0.62"/>
<circle cx="479.64" cy="343.88" r="1.45" fill="#d12282" fill-opacity="0.62"/>
<circle cx="549.44" cy="370.61" r="1.45" fill="#2b79db" fill-opacity="0.62"/>
<circle cx="541.93" cy="376.02" r="1.45" fill="#8f33a3" fill-opacity="0.62"/>
<circle cx="545.32" cy="369.47" r="1.45" fill="#4255c0" fill-opacity="0.62"/>
<circle cx="543.74" cy="379.81" r="1.45" fill="#3963cb" fill-opacity="0.62"/>
<circle cx="483.97" cy="344.84" r="1.45" fill="#9831a0" fill-opacity="0.62"/>
<circle cx="480.92" cy="354.71" r="1.45" fill="#763baa" fill-opacity="0.62"/>
<circle cx="479.28" cy="350.08" r="1.45" fill="#4157c1" fill-opacity="0.62"/>
<circle cx="598.95" cy="385.52" r="1.45" fill="#484db9" fill-opacity="0.62"/>
<circle cx="417.39" cy="329.52" r="1.45" fill="#cd2385" fill-opacity="0.62"/>
<circle cx="604.00" cy="383.17" r="1.45" fill="#713cab" fill-opacity="0.62"/>
<circle cx="601.54" cy="399.27" r="1.45" fill="#d9207c" fill-opacity="0.62"/>
<circle cx="603.36" cy="396.35" r="1.45" fill="#8736a5" fill-opacity="0.62"/>
<circle cx="604.82" cy="376.77" r="1.45" fill="#5844b2" fill-opacity="0.62"/>
<circle cx="606.29" cy="389.48" r="1.45" fill="#d8207c" fill-opacity="0.62"/>
<circle cx="600.22" cy="379.52" r="1.45" fill="#2e74d7" fill-opacity="0.62"/>
<circle cx="540.23" cy="378.74" r="1.45" fill="#733cab" fill-opacity="0.62"/>
<circle cx="605.88" cy="391.96" r="1.45" fill="#dd1f78" fill-opacity="0.62"/>
<circle cx="607.78" cy="390.40" r="1.45" fill="#de1f77" fill-opacity="0.62"/>
<circle cx="603.68" cy="387.75" r="1.45" fill="#4059c3" fill-opacity="0.62"/>
<circle cx="421.47" cy="331.98" r="1.45" fill="#4059c3" fill-opacity="0.62"/>
<circle cx="486.10" cy="352.32" r="1.45" fill="#5246b4" fill-opacity="0.62"/>
<circle cx="424.12" cy="330.28" r="1.45" fill="#494bb8" fill-opacity="0.62"/>
<circle cx="600.52" cy="399.61" r="1.45" fill="#c4258b" fill-opacity="0.62"/>
<circle cx="602.88" cy="389.38" r="1.45" fill="#b72795" fill-opacity="0.62"/>
<circle cx="422.16" cy="325.14" r="1.45" fill="#c6248a" fill-opacity="0.62"/>
<circle cx="488.30" cy="344.38" r="1.45" fill="#df1f77" fill-opacity="0.62"/>
<circle cx="484.33" cy="342.56" r="1.45" fill="#a92b9b" fill-opacity="0.62"/>
<circle cx="427.31" cy="343.45" r="1.45" fill="#2d76d9" fill-opacity="0.62"/>
<circle cx="419.51" cy="328.21" r="1.45" fill="#c0258f" fill-opacity="0.62"/>
<circle cx="420.14" cy="329.07" r="1.45" fill="#474fbb" fill-opacity="0.62"/>
<circle cx="540.58" cy="377.77" r="1.45" fill="#ac2a9a" fill-opacity="0.62"/>
<circle cx="481.46" cy="356.74" r="1.45" fill="#4a49b7" fill-opacity="0.62"/>
<circle cx="543.91" cy="367.74" r="1.45" fill="#5146b4" fill-opacity="0.62"/>
<circle cx="480.85" cy="343.91" r="1.45" fill="#c4258c" fill-opacity="0.62"/>
<circle cx="607.28" cy="399.94" r="1.45" fill="#ba2793" fill-opacity="0.62"/>
<circle cx="418.58" cy="329.58" r="1.45" fill="#7c39a8" fill-opacity="0.62"/>
<circle cx="544.79" cy="379.68" r="1.45" fill="#3e5cc5" fill-opacity="0.62"/>
<circle cx="548.14" cy="367.87" r="1.45" fill="#7c39a8" fill-opacity="0.62"/>
<circle cx="603.86" cy="387.18" r="1.45" fill="#6540ae" fill-opacity="0.62"/>
<circle cx="609.66" cy="399.80" r="1.45" fill="#c2258d" fill-opacity="0.62"/>
<circle cx="478.31" cy="343.02" r="1.45" fill="#cf2283" fill-opacity="0.62"/>
<circle cx="601.76" cy="393.00" r="1.45" fill="#d22281" fill-opacity="0.62"/>
<circle cx="608.16" cy="389.83" r="1.45" fill="#c72489" fill-opacity="0.62"/>
<circle cx="545.98" cy="368.29" r="1.45" fill="#be2690" fill-opacity="0.62"/>
<circle cx="426.09" cy="328.98" r="1.45" fill="#d32180" fill-opacity="0.62"/>
<circle cx="486.35" cy="356.98" r="1.45" fill="#3864cb" fill-opacity="0.62"/>
<circle cx="606.18" cy="390.78" r="1.45" fill="#8835a4" fill-opacity="0.62"/>
<circle cx="600.75" cy="383.99" r="1.45" fill="#2b78da" fill-opacity="0.62"/>
<circle cx="422.07" cy="333.83" r="1.45" fill="#4e47b5" fill-opacity="0.62"/>
<circle cx="423.61" cy="333.15" r="1.45" fill="#3071d5" fill-opacity="0.62"/>
<circle cx="542.89" cy="380.25" r="1.45" fill="#dc2079" fill-opacity="0.62"/>
<circle cx="609.68" cy="387.44" r="1.45" fill="#793aa9" fill-opacity="0.62"/>
<circle cx="427.88" cy="326.97" r="1.45" fill="#c4258c" fill-opacity="0.62"/>
<circle cx="599.52" cy="384.91" r="1.45" fill="#773ba9" fill-opacity="0.62"/>
<circle cx="606.01" cy="386.37" r="1.45" fill="#3f5ac3" fill-opacity="0.62"/>
<circle cx="427.93" cy="340.57" r="1.45" fill="#4e47b5" fill-opacity="0.62"/>
<circle cx="420.47" cy="327.97" r="1.45" fill="#c5258b" fill-opacity="0.62"/>
<circle cx="486.45" cy="358.80" r="1.45" fill="#4059c3" fill-opacity="0.62"/>
<circle cx="548.20" cy="371.59" r="1.45" fill="#c4258b" fill-opacity="0.62"/>
<circle cx="477.88" cy="348.10" r="1.45" fill="#c1258e" fill-opacity="0.62"/>
<circle cx="478.56" cy="345.39" r="1.45" fill="#dd1f78" fill-opacity="0.62"/>
<circle cx="423.61" cy="324.65" r="1.45" fill="#c3258d" fill-opacity="0.62"/>
<circle cx="602.12" cy="392.15" r="1.45" fill="#d5217e" fill-opacity="0.62"/>
<circle cx="607.58" cy="380.93" r="1.45" fill="#3e5bc5" fill-opacity="0.62"/>
<circle cx="600.13" cy="380.68" r="1.45" fill="#4650bc" fill-opacity="0.62"/>
<circle cx="419.06" cy="325.80" r="1.45" fill="#c92488" fill-opacity="0.62"/>
<circle cx="419.69" cy="330.30" r="1.45" fill="#5d43b1" fill-opacity="0.62"/>
<circle cx="604.56" cy="390.02" r="1.45" fill="#9631a1" fill-opacity="0.62"/>
<circle cx="425.38" cy="329.11" r="1.45" fill="#723cab" fill-opacity="0.62"/>
<circle cx="539.03" cy="376.00" r="1.45" fill="#6141b0" fill-opacity="0.62"/>
<circle cx="599.55" cy="394.34" r="1.45" fill="#d02282" fill-opacity="0.62"/>
<circle cx="485.91" cy="352.96" r="1.45" fill="#2d76d8" fill-opacity="0.62"/>
<circle cx="420.62" cy="325.11" r="1.45" fill="#cd2385" fill-opacity="0.62"/>
<circle cx="606.97" cy="381.31" r="1.45" fill="#464fbb" fill-opacity="0.62"/>
<circle cx="418.57" cy="325.95" r="1.45" fill="#c2258e" fill-opacity="0.62"/>
<circle cx="604.06" cy="388.62" r="1.45" fill="#6540af" fill-opacity="0.62"/>
<circle cx="548.69" cy="374.20" r="1.45" fill="#8736a5" fill-opacity="0.62"/>
<circle cx="483.83" cy="355.30" r="1.45" fill="#4551bd" fill-opacity="0.62"/>
<circle cx="488.88" cy="352.05" r="1.45" fill="#5944b2" fill-opacity="0.62"/>
<circle cx="608.21" cy="387.23" r="1.45" fill="#763baa" fill-opacity="0.62"/>
<circle cx="609.38" cy="385.97" r="1.45" fill="#3e5cc5" fill-opacity="0.62"/>
<circle cx="423.61" cy="326.09" r="1.45" fill="#ab2b9b" fill-opacity="0.62"/>
<circle cx="425.78" cy="329.19" r="1.45" fill="#8e34a3" fill-opacity="0.62"/>
<circle cx="486.51" cy="352.18" r="1.45" fill="#7d39a8" fill-opacity="0.62"/>
<circle cx="481.26" cy="347.09" r="1.45" fill="#c72489" fill-opacity="0.62"/>
<circle cx="421.57" cy="341.22" r="1.45" fill="#d22281" fill-opacity="0.62"/>
<circle cx="421.87" cy="328.94" r="1.45" fill="#4157c1" fill-opacity="0.62"/>
<circle cx="487.58" cy="348.57" r="1.45" fill="#cf2283" fill-opacity="0.62"/>
<circle cx="417.79" cy="343.52" r="1.45" fill="#326dd2" fill-opacity="0.62"/>
<circle cx="485.16" cy="355.41" r="1.45" fill="#3963ca" fill-opacity="0.62"/>
<circle cx="424.33" cy="329.61" r="1.45" fill="#cd2384" fill-opacity="0.62"/>
<circle cx="605.42" cy="381.20" r="1.45" fill="#2b79db" fill-opacity="0.62"/>
<circle cx="548.42" cy="367.67" r="1.45" fill="#be2691" fill-opacity="0.62"/>
<circle cx="601.44" cy="380.38" r="1.45" fill="#3767cd" fill-opacity="0.62"/>
<circle cx="421.12" cy="344.32" r="1.45" fill="#b62896" fill-opacity="0.62"/>
<circle cx="482.34" cy="356.11" r="1.45" fill="#3a62ca" fill-opacity="0.62"/>
<circle cx="423.76" cy="342.44" r="1.45" fill="#5146b4" fill-opacity="0.62"/>
<circle cx="424.76" cy="328.96" r="1.45" fill="#de1f78" fill-opacity="0.62"/>
<circle cx="478.47" cy="354.52" r="1.45" fill="#4551bd" fill-opacity="0.62"/>
<circle cx="478.81" cy="350.25" r="1.45" fill="#2f72d6" fill-opacity="0.62"/>
<circle cx="423.81" cy="341.07" r="1.45" fill="#2a7adb" fill-opacity="0.62"/>
<circle cx="478.81" cy="357.33" r="1.45" fill="#3e5bc5" fill-opacity="0.62"/>
<circle cx="420.65" cy="330.56" r="1.45" fill="#7b39a8" fill-opacity="0.62"/>
<circle cx="422.02" cy="326.03" r="1.45" fill="#c0268f" fill-opacity="0.62"/>
<circle cx="427.05" cy="341.34" r="1.45" fill="#bf268f" fill-opacity="0.62"/>
<circle cx="604.98" cy="388.95" r="1.45" fill="#336cd1" fill-opacity="0.62"/>
<circle cx="426.88" cy="328.72" r="1.45" fill="#bf2690" fill-opacity="0.62"/>
<circle cx="422.26" cy="329.82" r="1.45" fill="#9c2f9f" fill-opacity="0.62"/>
<circle cx="423.45" cy="344.52" r="1.45" fill="#346bd0" fill-opacity="0.62"/>
<circle cx="427.97" cy="331.38" r="1.45" fill="#5246b4" fill-opacity="0.62"/>
<circle cx="604.06" cy="399.69" r="1.45" fill="#8e34a3" fill-opacity="0.62"/>
<circle cx="484.50" cy="352.31" r="1.45" fill="#4058c2" fill-opacity="0.62"/>
<circle cx="607.48" cy="391.30" r="1.45" fill="#de1f77" fill-opacity="0.62"/>
<circle cx="601.81" cy="381.71" r="1.45" fill="#5246b4" fill-opacity="0.62"/>
<circle cx="539.31" cy="371.26" r="1.45" fill="#d8207c" fill-opacity="0.62"/>
<circle cx="602.31" cy="381.34" r="1.45" fill="#297bdd" fill-opacity="0.62"/>
<circle cx="419.61" cy="324.36" r="1.45" fill="#b52897" fill-opacity="0.62"/>
<circle cx="477.87" cy="346.05" r="1.45" fill="#b92794" fill-opacity="0.62"/>
<circle cx="418.20" cy="328.13" r="1.45" fill="#a62c9c" fill-opacity="0.62"/>
<circle cx="606.24" cy="381.85" r="1.45" fill="#4a4ab7" fill-opacity="0.62"/>
<circle cx="603.21" cy="376.72" r="1.45" fill="#3a62ca" fill-opacity="0.62"/>
<circle cx="423.24" cy="331.89" r="1.45" fill="#3f5ac4" fill-opacity="0.62"/>
<circle cx="481.86" cy="343.97" r="1.45" fill="#d7217d" fill-opacity="0.62"/>
<circle cx="422.31" cy="329.01" r="1.45" fill="#5445b3" fill-opacity="0.62"/>
<circle cx="548.67" cy="369.95" r="1.45" fill="#a22d9d" fill-opacity="0.62"/>
<circle cx="540.89" cy="372.67" r="1.45" fill="#336cd1" fill-opacity="0.62"/>
<circle cx="602.07" cy="395.45" r="1.45" fill="#9831a0" fill-opacity="0.62"/>
<circle cx="483.50" cy="346.45" r="1.45" fill="#ba2793" fill-opacity="0.62"/>
<circle cx="417.76" cy="327.40" r="1.45" fill="#cc2386" fill-opacity="0.62"/>
<circle cx="484.08" cy="347.40" r="1.45" fill="#dc2079" fill-opacity="0.62"/>
<circle cx="604.33" cy="379.33" r="1.45" fill="#3d5dc6" fill-opacity="0.62"/>
<circle cx="547.98" cy="366.93" r="1.45" fill="#9432a1" fill-opacity="0.62"/>
<circle cx="484.30" cy="348.91" r="1.45" fill="#ba2793" fill-opacity="0.62"/>
<circle cx="427.66" cy="343.88" r="1.45" fill="#4355bf" fill-opacity="0.62"/>
<circle cx="609.67" cy="385.73" r="1.45" fill="#4256c0" fill-opacity="0.62"/>
<circle cx="423.05" cy="332.03" r="1.45" fill="#2d76d9" fill-opacity="0.62"/>
<circle cx="426.48" cy="328.23" r="1.45" fill="#de1f78" fill-opacity="0.62"/>
<circle cx="420.89" cy="326.21" r="1.45" fill="#c72489" fill-opacity="0.62"/>
<circle cx="421.44" cy="328.99" r="1.45" fill="#b12999" fill-opacity="0.62"/>
<circle cx="607.12" cy="386.78" r="1.45" fill="#2f73d6" fill-opacity="0.62"/>
<circle cx="543.64" cy="369.43" r="1.45" fill="#3766cd" fill-opacity="0.62"/>
<circle cx="419.20" cy="342.30" r="1.45" fill="#753baa" fill-opacity="0.62"/>
<circle cx="421.47" cy="328.59" r="1.45" fill="#4a49b7" fill-opacity="0.62"/>
<circle cx="419.84" cy="331.94" r="1.45" fill="#2f73d7" fill-opacity="0.62"/>
<circle cx="603.80" cy="388.46" r="1.45" fill="#4157c1" fill-opacity="0.62"/>
<circle cx="428.21" cy="334.27" r="1.45" fill="#4d47b5" fill-opacity="0.62"/>
<circle cx="541.64" cy="381.41" r="1.45" fill="#3f5bc4" fill-opacity="0.62"/>
<circle cx="425.99" cy="328.85" r="1.45" fill="#3668ce" fill-opacity="0.62"/>
<circle cx="486.47" cy="346.43" r="1.45" fill="#cc2385" fill-opacity="0.62"/>
<circle cx="549.48" cy="366.08" r="1.45" fill="#a12e9d" fill-opacity="0.62"/>
<circle cx="546.02" cy="366.59" r="1.45" fill="#8138a7" fill-opacity="0.62"/>
<circle cx="479.55" cy="351.28" r="1.45" fill="#5b43b1" fill-opacity="0.62"/>
<circle cx="608.12" cy="383.78" r="1.45" fill="#4650bc" fill-opacity="0.62"/>
<circle cx="598.79" cy="384.30" r="1.45" fill="#4355bf" fill-opacity="0.62"/>
<circle cx="544.00" cy="372.33" r="1.45" fill="#9133a2" fill-opacity="0.62"/>
<circle cx="538.52" cy="381.36" r="1.45" fill="#494bb8" fill-opacity="0.62"/>
<circle cx="480.74" cy="345.98" r="1.45" fill="#c5248b" fill-opacity="0.62"/>
<circle cx="417.75" cy="326.64" r="1.45" fill="#aa2b9b" fill-opacity="0.62"/>
<circle cx="544.68" cy="368.43" r="1.45" fill="#d02282" fill-opacity="0.62"/>
<circle cx="426.46" cy="343.90" r="1.45" fill="#5e42b1" fill-opacity="0.62"/>
<circle cx="480.43" cy="344.44" r="1.45" fill="#a22d9d" fill-opacity="0.62"/>
<circle cx="540.71" cy="381.00" r="1.45" fill="#d32280" fill-opacity="0.62"/>
<circle cx="418.58" cy="325.74" r="1.45" fill="#bb2793" fill-opacity="0.62"/>
<circle cx="426.97" cy="331.80" r="1.45" fill="#5e42b1" fill-opacity="0.62"/>
<circle cx="42.70" cy="640.05" r="1.45" fill="#3864cb" fill-opacity="0.62"/>
<circle cx="50.80" cy="639.38" r="1.45" fill="#3c5fc7" fill-opacity="0.62"/>
<circle cx="50.00" cy="646.80" r="1.45" fill="#e41e73" fill-opacity="0.62"/>
<circle cx="50.40" cy="640.30" r="1.45" fill="#297bdd" fill-opacity="0.62"/>
<circle cx="46.80" cy="646.90" r="1.45" fill="#e41e73" fill-opacity="0.62"/>
<circle cx="45.64" cy="639.07" r="1.45" fill="#4b48b6" fill-opacity="0.62"/>
<circle cx="51.30" cy="642.40" r="1.45" fill="#b92794" fill-opacity="0.62"/>
<circle cx="47.16" cy="640.42" r="1.45" fill="#316fd3" fill-opacity="0.62"/>
<circle cx="45.96" cy="639.00" r="1.45" fill="#3c5ec7" fill-opacity="0.62"/>
<circle cx="52.80" cy="644.00" r="1.45" fill="#c0268f" fill-opacity="0.62"/>
<circle cx="53.10" cy="639.52" r="1.45" fill="#4058c2" fill-opacity="0.62"/>
<circle cx="49.26" cy="639.55" r="1.45" fill="#3b60c8" fill-opacity="0.62"/>
<circle cx="46.09" cy="640.75" r="1.45" fill="#2a7adc" fill-opacity="0.62"/>
<circle cx="45.00" cy="646.70" r="1.45" fill="#dd2079" fill-opacity="0.62"/>
<circle cx="48.61" cy="638.89" r="1.45" fill="#3667ce" fill-opacity="0.62"/>
<circle cx="47.08" cy="640.30" r="1.45" fill="#494bb9" fill-opacity="0.62"/>
<circle cx="42.50" cy="643.30" r="1.45" fill="#c72489" fill-opacity="0.62"/>
<circle cx="52.32" cy="639.09" r="1.45" fill="#3e5cc5" fill-opacity="0.62"/>
<circle cx="51.97" cy="639.83" r="1.45" fill="#3668ce" fill-opacity="0.62"/>
<circle cx="48.60" cy="646.60" r="1.45" fill="#d6217e" fill-opacity="0.62"/>
<circle cx="52.76" cy="640.59" r="1.45" fill="#4058c2" fill-opacity="0.62"/>
<circle cx="50.62" cy="640.08" r="1.45" fill="#326dd2" fill-opacity="0.62"/>
<circle cx="41.80" cy="639.15" r="1.45" fill="#4b48b6" fill-opacity="0.62"/>
<circle cx="51.65" cy="640.17" r="1.45" fill="#3c5ec7" fill-opacity="0.62"/>
<circle cx="49.78" cy="640.61" r="1.45" fill="#3a61c9" fill-opacity="0.62"/>
<circle cx="50.00" cy="643.00" r="1.45" fill="#9f2e9e" fill-opacity="0.62"/>
<circle cx="74.95" cy="638.51" r="1.45" fill="#cd2385" fill-opacity="0.62"/>
<circle cx="67.41" cy="637.83" r="1.45" fill="#e21e75" fill-opacity="0.62"/>
<circle cx="67.53" cy="637.85" r="1.45" fill="#d02283" fill-opacity="0.62"/>
<circle cx="69.72" cy="638.75" r="1.45" fill="#e31e74" fill-opacity="0.62"/>
<circle cx="66.85" cy="638.12" r="1.45" fill="#e01f76" fill-opacity="0.62"/>
<circle cx="76.56" cy="638.39" r="1.45" fill="#d9207c" fill-opacity="0.62"/>
<circle cx="67.11" cy="638.43" r="1.45" fill="#c6248a" fill-opacity="0.62"/>
<circle cx="66.48" cy="637.76" r="1.45" fill="#ce2384" fill-opacity="0.62"/>
<circle cx="68.47" cy="637.63" r="1.45" fill="#d5217f" fill-opacity="0.62"/>
<circle cx="75.08" cy="638.29" r="1.45" fill="#dc2079" fill-opacity="0.62"/>
<circle cx="68.88" cy="637.47" r="1.45" fill="#cb2386" fill-opacity="0.62"/>
<circle cx="74.70" cy="638.35" r="1.45" fill="#ce2384" fill-opacity="0.62"/>
<circle cx="69.75" cy="638.75" r="1.45" fill="#ca2387" fill-opacity="0.62"/>
<circle cx="67.61" cy="638.67" r="1.45" fill="#d02282" fill-opacity="0.62"/>
<circle cx="68.91" cy="637.61" r="1.45" fill="#db207a" fill-opacity="0.62"/>
<circle cx="70.16" cy="638.77" r="1.45" fill="#d7217d" fill-opacity="0.62"/>
<circle cx="73.37" cy="635.61" r="1.45" fill="#3667cd" fill-opacity="0.62"/>
<circle cx="74.73" cy="633.89" r="1.45" fill="#336cd1" fill-opacity="0.62"/>
<circle cx="73.08" cy="635.10" r="1.45" fill="#3767cd" fill-opacity="0.62"/>
<circle cx="67.39" cy="635.87" r="1.45" fill="#3c5fc8" fill-opacity="0.62"/>
<circle cx="65.69" cy="635.75" r="1.45" fill="#3d5dc6" fill-opacity="0.62"/>
<circle cx="69.83" cy="635.69" r="1.45" fill="#356acf" fill-opacity="0.62"/>
<circle cx="70.08" cy="634.91" r="1.45" fill="#474eba" fill-opacity="0.62"/>
<circle cx="72.64" cy="634.28" r="1.45" fill="#4452be" fill-opacity="0.62"/>
<circle cx="76.03" cy="634.98" r="1.45" fill="#336dd2" fill-opacity="0.62"/>
<circle cx="72.81" cy="636.11" r="1.45" fill="#3f5ac3" fill-opacity="0.62"/>
<circle cx="76.30" cy="635.53" r="1.45" fill="#356ad0" fill-opacity="0.62"/>
<circle cx="74.08" cy="634.32" r="1.45" fill="#3569cf" fill-opacity="0.62"/>
<circle cx="66.78" cy="634.48" r="1.45" fill="#2a79db" fill-opacity="0.62"/>
<circle cx="69.37" cy="636.04" r="1.45" fill="#326ed3" fill-opacity="0.62"/>
<circle cx="71.35" cy="635.34" r="1.45" fill="#494bb8" fill-opacity="0.62"/>
<circle cx="68.07" cy="633.78" r="1.45" fill="#3c5ec7" fill-opacity="0.62"/>
<circle cx="74.09" cy="635.36" r="1.45" fill="#3766cd" fill-opacity="0.62"/>
<circle cx="70.75" cy="635.05" r="1.45" fill="#4158c2" fill-opacity="0.62"/>
<circle cx="95.16" cy="628.31" r="1.45" fill="#2a79db" fill-opacity="0.62"/>
<circle cx="97.12" cy="628.70" r="1.45" fill="#3a61c9" fill-opacity="0.62"/>
<circle cx="99.10" cy="628.19" r="1.45" fill="#287dde" fill-opacity="0.62"/>
<circle cx="89.90" cy="628.33" r="1.45" fill="#3c5ec7" fill-opacity="0.62"/>
<circle cx="93.44" cy="628.64" r="1.45" fill="#2b79db" fill-opacity="0.62"/>
<circle cx="93.21" cy="628.20" r="1.45" fill="#3d5dc6" fill-opacity="0.62"/>
<circle cx="91.71" cy="628.07" r="1.45" fill="#2b78da" fill-opacity="0.62"/>
<circle cx="95.97" cy="628.13" r="1.45" fill="#474ebb" fill-opacity="0.62"/>
<circle cx="89.56" cy="628.73" r="1.45" fill="#297bdd" fill-opacity="0.62"/>
<circle cx="99.80" cy="628.88" r="1.45" fill="#4354bf" fill-opacity="0.62"/>
<circle cx="98.73" cy="627.85" r="1.45" fill="#464fbb" fill-opacity="0.62"/>
<circle cx="96.43" cy="628.13" r="1.45" fill="#2a79db" fill-opacity="0.62"/>
<circle cx="97.18" cy="628.97" r="1.45" fill="#4550bc" fill-opacity="0.62"/>
<circle cx="99.10" cy="628.77" r="1.45" fill="#3c5fc7" fill-opacity="0.62"/>
<circle cx="98.50" cy="628.81" r="1.45" fill="#2e75d8" fill-opacity="0.62"/>
<circle cx="98.89" cy="628.58" r="1.45" fill="#484cb9" fill-opacity="0.62"/>
<circle cx="91.77" cy="628.75" r="1.45" fill="#3071d5" fill-opacity="0.62"/>
<circle cx="96.63" cy="628.67" r="1.45" fill="#3d5cc5" fill-opacity="0.62"/>
<circle cx="96.32" cy="628.79" r="1.45" fill="#326ed3" fill-opacity="0.62"/>
<circle cx="96.63" cy="627.97" r="1.45" fill="#326ed2" fill-opacity="0.62"/>
<circle cx="90.75" cy="628.64" r="1.45" fill="#4256c0" fill-opacity="0.62"/>
<circle cx="90.50" cy="628.07" r="1.45" fill="#3f5ac4" fill-opacity="0.62"/>
<circle cx="98.69" cy="626.95" r="1.45" fill="#cc2386" fill-opacity="0.62"/>
<circle cx="91.13" cy="626.52" r="1.45" fill="#e41e73" fill-opacity="0.62"/>
<circle cx="97.56" cy="626.29" r="1.45" fill="#cc2385" fill-opacity="0.62"/>
<circle cx="91.52" cy="626.05" r="1.45" fill="#d4217f" fill-opacity="0.62"/>
<circle cx="89.35" cy="626.82" r="1.45" fill="#da207b" fill-opacity="0.62"/>
<circle cx="93.39" cy="626.87" r="1.45" fill="#dd1f78" fill-opacity="0.62"/>
<circle cx="100.39" cy="626.90" r="1.45" fill="#da207b" fill-opacity="0.62"/>
<circle cx="90.78" cy="626.29" r="1.45" fill="#d9207c" fill-opacity="0.62"/>
<circle cx="94.82" cy="626.77" r="1.45" fill="#c5258b" fill-opacity="0.62"/>
<circle cx="94.38" cy="625.96" r="1.45" fill="#d9207b" fill-opacity="0.62"/>
<circle cx="100.89" cy="626.89" r="1.45" fill="#dd2079" fill-opacity="0.62"/>
<circle cx="97.47" cy="626.96" r="1.45" fill="#db207a" fill-opacity="0.62"/>
<circle cx="92.81" cy="625.76" r="1.45" fill="#c6248a" fill-opacity="0.62"/>
<circle cx="100.84" cy="625.79" r="1.45" fill="#d12281" fill-opacity="0.62"/>
<circle cx="94.57" cy="625.83" r="1.45" fill="#c4258c" fill-opacity="0.62"/>
<circle cx="91.49" cy="626.66" r="1.45" fill="#d32280" fill-opacity="0.62"/>
<circle cx="97.69" cy="625.78" r="1.45" fill="#c72489" fill-opacity="0.62"/>
<circle cx="91.02" cy="626.71" r="1.45" fill="#d12282" fill-opacity="0.62"/>
<circle cx="96.64" cy="626.04" r="1.45" fill="#cd2385" fill-opacity="0.62"/>
<circle cx="91.87" cy="626.83" r="1.45" fill="#e41e73" fill-opacity="0.62"/>
<circle cx="93.92" cy="626.37" r="1.45" fill="#d5217e" fill-opacity="0.62"/>
<circle cx="91.44" cy="626.22" r="1.45" fill="#ca2387" fill-opacity="0.62"/>
<circle cx="124.49" cy="626.09" r="1.45" fill="#2b78da" fill-opacity="0.62"/>
<circle cx="117.03" cy="626.30" r="1.45" fill="#2b79db" fill-opacity="0.62"/>
<circle cx="119.24" cy="625.77" r="1.45" fill="#2f73d6" fill-opacity="0.62"/>
<circle cx="113.41" cy="625.82" r="1.45" fill="#336cd1" fill-opacity="0.62"/>
<circle cx="112.84" cy="626.15" r="1.45" fill="#4452be" fill-opacity="0.62"/>
<circle cx="119.26" cy="626.09" r="1.45" fill="#4551bd" fill-opacity="0.62"/>
<circle cx="121.08" cy="626.19" r="1.45" fill="#4158c2" fill-opacity="0.62"/>
<circle cx="119.93" cy="625.97" r="1.45" fill="#4158c2" fill-opacity="0.62"/>
<circle cx="115.97" cy="626.00" r="1.45" fill="#3d5dc6" fill-opacity="0.62"/>
<circle cx="118.59" cy="626.27" r="1.45" fill="#3071d5" fill-opacity="0.62"/>
<circle cx="123.76" cy="626.06" r="1.45" fill="#3071d5" fill-opacity="0.62"/>
<circle cx="116.45" cy="625.75" r="1.45" fill="#2b79db" fill-opacity="0.62"/>
<circle cx="118.74" cy="626.14" r="1.45" fill="#2b78da" fill-opacity="0.62"/>
<circle cx="118.96" cy="626.16" r="1.45" fill="#4058c2" fill-opacity="0.62"/>
<circle cx="115.26" cy="626.31" r="1.45" fill="#4e47b5" fill-opacity="0.62"/>
<circle cx="112.67" cy="626.12" r="1.45" fill="#2b78da" fill-opacity="0.62"/>
<circle cx="114.95" cy="625.91" r="1.45" fill="#4e47b5" fill-opacity="0.62"/>
<circle cx="114.08" cy="626.02" r="1.45" fill="#3f5bc4" fill-opacity="0.62"/>
<circle cx="121.72" cy="626.31" r="1.45" fill="#2c78da" fill-opacity="0.62"/>
<circle cx="116.31" cy="626.01" r="1.45" fill="#4b48b6" fill-opacity="0.62"/>
<circle cx="121.61" cy="624.46" r="1.45" fill="#dd1f78" fill-opacity="0.62"/>
<circle cx="121.66" cy="624.91" r="1.45" fill="#da207b" fill-opacity="0.62"/>
<circle cx="112.32" cy="624.82" r="1.45" fill="#c92488" fill-opacity="0.62"/>
<circle cx="119.05" cy="624.49" r="1.45" fill="#dd1f78" fill-opacity="0.62"/>
<circle cx="116.55" cy="624.26" r="1.45" fill="#c6248a" fill-opacity="0.62"/>
<circle cx="116.48" cy="624.25" r="1.45" fill="#c4258b" fill-opacity="0.62"/>
<circle cx="119.87" cy="624.69" r="1.45" fill="#c6248a" fill-opacity="0.62"/>
<circle cx="117.98" cy="624.37" r="1.45" fill="#c2258d" fill-opacity="0.62"/>
<circle cx="112.65" cy="624.51" r="1.45" fill="#c6248a" fill-opacity="0.62"/>
<circle cx="112.74" cy="624.88" r="1.45" fill="#cf2283" fill-opacity="0.62"/>
<circle cx="117.65" cy="624.29" r="1.45" fill="#e21e74" fill-opacity="0.62"/>
<circle cx="120.53" cy="624.40" r="1.45" fill="#e11f75" fill-opacity="0.62"/>
<circle cx="120.13" cy="624.72" r="1.45" fill="#c82489" fill-opacity="0.62"/>
<circle cx="114.32" cy="624.96" r="1.45" fill="#d8217d" fill-opacity="0.62"/>
<circle cx="123.04" cy="624.71" r="1.45" fill="#d6217e" fill-opacity="0.62"/>
<circle cx="123.85" cy="624.62" r="1.45" fill="#dc2079" fill-opacity="0.62"/>
<circle cx="124.06" cy="624.43" r="1.45" fill="#ce2384" fill-opacity="0.62"/>
<circle cx="118.17" cy="624.70" r="1.45" fill="#db207a" fill-opacity="0.62"/>
<circle cx="112.46" cy="624.63" r="1.45" fill="#cc2385" fill-opacity="0.62"/>
<circle cx="116.54" cy="624.97" r="1.45" fill="#c3258c" fill-opacity="0.62"/>
<circle cx="136.71" cy="625.80" r="1.45" fill="#2b78da" fill-opacity="0.62"/>
<circle cx="139.16" cy="625.92" r="1.45" fill="#4256c1" fill-opacity="0.62"/>
<circle cx="140.41" cy="626.03" r="1.45" fill="#2e73d7" fill-opacity="0.62"/>
<circle cx="144.20" cy="625.85" r="1.45" fill="#326ed3" fill-opacity="0.62"/>
<circle cx="147.27" cy="625.73" r="1.45" fill="#4453be" fill-opacity="0.62"/>
<circle cx="143.24" cy="625.65" r="1.45" fill="#336dd2" fill-opacity="0.62"/>
<circle cx="139.33" cy="626.34" r="1.45" fill="#4a49b7" fill-opacity="0.62"/>
<circle cx="146.99" cy="626.21" r="1.45" fill="#474eba" fill-opacity="0.62"/>
<circle cx="138.06" cy="626.13" r="1.45" fill="#484cb9" fill-opacity="0.62"/>
<circle cx="146.68" cy="625.97" r="1.45" fill="#346bd0" fill-opacity="0.62"/>
<circle cx="138.15" cy="626.39" r="1.45" fill="#484cb9" fill-opacity="0.62"/>
<circle cx="138.56" cy="625.91" r="1.45" fill="#4551bd" fill-opacity="0.62"/>
<circle cx="137.32" cy="625.77" r="1.45" fill="#3569cf" fill-opacity="0.62"/>
<circle cx="136.57" cy="625.99" r="1.45" fill="#474ebb" fill-opacity="0.62"/>
<circle cx="147.56" cy="625.62" r="1.45" fill="#4059c3" fill-opacity="0.62"/>
<circle cx="147.42" cy="625.96" r="1.45" fill="#494bb8" fill-opacity="0.62"/>
<circle cx="144.04" cy="626.01" r="1.45" fill="#484cb9" fill-opacity="0.62"/>
<circle cx="136.90" cy="625.67" r="1.45" fill="#4551bd" fill-opacity="0.62"/>
<circle cx="140.58" cy="626.19" r="1.45" fill="#3668ce" fill-opacity="0.62"/>
<circle cx="140.16" cy="626.10" r="1.45" fill="#474eba" fill-opacity="0.62"/>
<circle cx="146.64" cy="624.29" r="1.45" fill="#e21e75" fill-opacity="0.62"/>
<circle cx="146.72" cy="624.37" r="1.45" fill="#c3258c" fill-opacity="0.62"/>
<circle cx="140.48" cy="624.30" r="1.45" fill="#e31e73" fill-opacity="0.62"/>
<circle cx="138.16" cy="624.38" r="1.45" fill="#d02283" fill-opacity="0.62"/>
<circle cx="145.07" cy="624.26" r="1.45" fill="#d02282" fill-opacity="0.62"/>
<circle cx="139.29" cy="624.94" r="1.45" fill="#d12282" fill-opacity="0.62"/>
<circle cx="142.98" cy="624.90" r="1.45" fill="#e31e74" fill-opacity="0.62"/>
<circle cx="139.94" cy="624.36" r="1.45" fill="#d8217c" fill-opacity="0.62"/>
<circle cx="141.83" cy="624.79" r="1.45" fill="#d32180" fill-opacity="0.62"/>
<circle cx="138.90" cy="624.60" r="1.45" fill="#d6217e" fill-opacity="0.62"/>
<circle cx="140.56" cy="624.92" r="1.45" fill="#c7248a" fill-opacity="0.62"/>
<circle cx="136.89" cy="624.38" r="1.45" fill="#db207a" fill-opacity="0.62"/>
<circle cx="147.73" cy="624.79" r="1.45" fill="#df1f77" fill-opacity="0.62"/>
<circle cx="141.97" cy="624.34" r="1.45" fill="#c0258e" fill-opacity="0.62"/>
<circle cx="141.82" cy="624.95" r="1.45" fill="#d4217f" fill-opacity="0.62"/>
<circle cx="144.07" cy="624.32" r="1.45" fill="#dd1f78" fill-opacity="0.62"/>
<circle cx="137.47" cy="624.25" r="1.45" fill="#cd2385" fill-opacity="0.62"/>
<circle cx="144.10" cy="624.61" r="1.45" fill="#c1258e" fill-opacity="0.62"/>
<circle cx="137.16" cy="624.29" r="1.45" fill="#d12281" fill-opacity="0.62"/>
<circle cx="142.51" cy="624.39" r="1.45" fill="#c6248a" fill-opacity="0.62"/>
<circle cx="169.47" cy="623.47" r="1.45" fill="#783aa9" fill-opacity="0.62"/>
<circle cx="167.38" cy="623.16" r="1.45" fill="#de1f78" fill-opacity="0.62"/>
<circle cx="170.43" cy="623.24" r="1.45" fill="#4a49b7" fill-opacity="0.62"/>
<circle cx="164.14" cy="623.88" r="1.45" fill="#de1f78" fill-opacity="0.62"/>
<circle cx="164.81" cy="623.45" r="1.45" fill="#4355c0" fill-opacity="0.62"/>
<circle cx="160.11" cy="623.59" r="1.45" fill="#3e5bc5" fill-opacity="0.62"/>
<circle cx="171.44" cy="623.37" r="1.45" fill="#6041b0" fill-opacity="0.62"/>
<circle cx="159.71" cy="622.76" r="1.45" fill="#5345b4" fill-opacity="0.62"/>
<circle cx="163.47" cy="623.97" r="1.45" fill="#6e3dac" fill-opacity="0.62"/>
<circle cx="164.07" cy="622.98" r="1.45" fill="#b32898" fill-opacity="0.62"/>
<circle cx="171.40" cy="623.64" r="1.45" fill="#326ed3" fill-opacity="0.62"/>
<circle cx="162.59" cy="623.82" r="1.45" fill="#b92794" fill-opacity="0.62"/>
<circle cx="168.15" cy="623.43" r="1.45" fill="#6f3dac" fill-opacity="0.62"/>
<circle cx="164.80" cy="623.81" r="1.45" fill="#df1f77" fill-opacity="0.62"/>
<circle cx="162.76" cy="624.06" r="1.45" fill="#c1258e" fill-opacity="0.62"/>
<circle cx="166.37" cy="622.94" r="1.45" fill="#6540af" fill-opacity="0.62"/>
<circle cx="166.19" cy="623.12" r="1.45" fill="#4353bf" fill-opacity="0.62"/>
<circle cx="164.64" cy="622.63" r="1.45" fill="#ca2387" fill-opacity="0.62"/>
<circle cx="169.20" cy="622.91" r="1.45" fill="#9631a1" fill-opacity="0.62"/>
<circle cx="169.98" cy="623.69" r="1.45" fill="#b52897" fill-opacity="0.62"/>
<circle cx="163.38" cy="623.71" r="1.45" fill="#3a62ca" fill-opacity="0.62"/>
<circle cx="170.61" cy="622.61" r="1.45" fill="#c0258e" fill-opacity="0.62"/>
<circle cx="170.69" cy="624.10" r="1.45" fill="#3667ce" fill-opacity="0.62"/>
<circle cx="165.23" cy="623.00" r="1.45" fill="#c5248b" fill-opacity="0.62"/>
<circle cx="162.16" cy="622.74" r="1.45" fill="#bf268f" fill-opacity="0.62"/>
<circle cx="165.40" cy="622.61" r="1.45" fill="#5844b2" fill-opacity="0.62"/>
<circle cx="162.03" cy="623.95" r="1.45" fill="#3c5ec7" fill-opacity="0.62"/>
<circle cx="171.44" cy="624.07" r="1.45" fill="#316fd3" fill-opacity="0.62"/>
<circle cx="159.79" cy="622.78" r="1.45" fill="#6440af" fill-opacity="0.62"/>
<circle cx="161.57" cy="622.72" r="1.45" fill="#3071d5" fill-opacity="0.62"/>
<circle cx="168.19" cy="623.41" r="1.45" fill="#c3258d" fill-opacity="0.62"/>
<circle cx="162.36" cy="623.84" r="1.45" fill="#3864cb" fill-opacity="0.62"/>
<circle cx="161.06" cy="623.70" r="1.45" fill="#5744b3" fill-opacity="0.62"/>
<circle cx="163.62" cy="623.72" r="1.45" fill="#de1f78" fill-opacity="0.62"/>
<circle cx="163.98" cy="623.34" r="1.45" fill="#9232a2" fill-opacity="0.62"/>
<circle cx="165.59" cy="623.35" r="1.45" fill="#b62897" fill-opacity="0.62"/>
<circle cx="190.72" cy="622.87" r="1.45" fill="#aa2b9b" fill-opacity="0.62"/>
<circle cx="192.09" cy="623.32" r="1.45" fill="#bb2692" fill-opacity="0.62"/>
<circle cx="192.28" cy="623.99" r="1.45" fill="#c6248a" fill-opacity="0.62"/>
<circle cx="192.13" cy="622.71" r="1.45" fill="#4058c2" fill-opacity="0.62"/>
<circle cx="190.95" cy="624.06" r="1.45" fill="#d22281" fill-opacity="0.62"/>
<circle cx="194.68" cy="623.03" r="1.45" fill="#494cb9" fill-opacity="0.62"/>
<circle cx="190.45" cy="622.78" r="1.45" fill="#3865cc" fill-opacity="0.62"/>
<circle cx="189.98" cy="623.21" r="1.45" fill="#6540ae" fill-opacity="0.62"/>
<circle cx="190.11" cy="623.86" r="1.45" fill="#2b78da" fill-opacity="0.62"/>
<circle cx="189.44" cy="623.11" r="1.45" fill="#2e74d7" fill-opacity="0.62"/>
<circle cx="190.51" cy="622.92" r="1.45" fill="#3c5ec7" fill-opacity="0.62"/>
<circle cx="189.60" cy="623.00" r="1.45" fill="#da207b" fill-opacity="0.62"/>
<circle cx="186.49" cy="623.11" r="1.45" fill="#673fae" fill-opacity="0.62"/>
<circle cx="186.37" cy="622.85" r="1.45" fill="#b32898" fill-opacity="0.62"/>
<circle cx="191.46" cy="623.72" r="1.45" fill="#ba2794" fill-opacity="0.62"/>
<circle cx="195.48" cy="623.01" r="1.45" fill="#c2258d" fill-opacity="0.62"/>
<circle cx="191.72" cy="623.12" r="1.45" fill="#3964cb" fill-opacity="0.62"/>
<circle cx="192.48" cy="623.05" r="1.45" fill="#474fbb" fill-opacity="0.62"/>
<circle cx="192.38" cy="624.23" r="1.45" fill="#c6248a" fill-opacity="0.62"/>
<circle cx="195.53" cy="622.94" r="1.45" fill="#4c48b6" fill-opacity="0.62"/>
<circle cx="184.67" cy="623.64" r="1.45" fill="#3c5fc7" fill-opacity="0.62"/>
<circle cx="193.32" cy="623.87" r="1.45" fill="#4e47b5" fill-opacity="0.62"/>
<circle cx="184.19" cy="623.67" r="1.45" fill="#316fd3" fill-opacity="0.62"/>
<circle cx="183.74" cy="622.88" r="1.45" fill="#db207a" fill-opacity="0.62"/>
<circle cx="190.13" cy="623.86" r="1.45" fill="#4552bd" fill-opacity="0.62"/>
<circle cx="195.43" cy="623.93" r="1.45" fill="#cc2385" fill-opacity="0.62"/>
<circle cx="184.54" cy="622.96" r="1.45" fill="#326ed3" fill-opacity="0.62"/>
<circle cx="184.37" cy="622.71" r="1.45" fill="#3a61c9" fill-opacity="0.62"/>
<circle cx="187.34" cy="623.20" r="1.45" fill="#bc2692" fill-opacity="0.62"/>
<circle cx="191.43" cy="623.81" r="1.45" fill="#a42d9d" fill-opacity="0.62"/>
<circle cx="190.80" cy="623.02" r="1.45" fill="#2a7bdc" fill-opacity="0.62"/>
<circle cx="186.79" cy="623.84" r="1.45" fill="#e21e74" fill-opacity="0.62"/>
<circle cx="191.24" cy="623.81" r="1.45" fill="#4453be" fill-opacity="0.62"/>
<circle cx="186.31" cy="623.93" r="1.45" fill="#cb2386" fill-opacity="0.62"/>
<circle cx="186.34" cy="623.98" r="1.45" fill="#c72489" fill-opacity="0.62"/>
<circle cx="187.23" cy="623.11" r="1.45" fill="#ca2387" fill-opacity="0.62"/>
<circle cx="215.49" cy="624.39" r="1.45" fill="#3a62c9" fill-opacity="0.62"/>
<circle cx="207.30" cy="623.88" r="1.45" fill="#464fbb" fill-opacity="0.62"/>
<circle cx="216.29" cy="624.70" r="1.45" fill="#4f47b5" fill-opacity="0.62"/>
<circle cx="216.75" cy="623.91" r="1.45" fill="#3963ca" fill-opacity="0.62"/>
<circle cx="217.99" cy="624.15" r="1.45" fill="#5744b3" fill-opacity="0.62"/>
<circle cx="212.18" cy="623.89" r="1.45" fill="#484db9" fill-opacity="0.62"/>
<circle cx="215.94" cy="624.06" r="1.45" fill="#4157c1" fill-opacity="0.62"/>
<circle cx="211.11" cy="624.66" r="1.45" fill="#8935a4" fill-opacity="0.62"/>
<circle cx="216.00" cy="623.98" r="1.45" fill="#3a62ca" fill-opacity="0.62"/>
<circle cx="209.52" cy="624.57" r="1.45" fill="#713cab" fill-opacity="0.62"/>
<circle cx="211.09" cy="624.58" r="1.45" fill="#5d42b1" fill-opacity="0.62"/>
<circle cx="207.72" cy="624.39" r="1.45" fill="#7d39a8" fill-opacity="0.62"/>
<circle cx="215.64" cy="624.77" r="1.45" fill="#5f42b0" fill-opacity="0.62"/>
<circle cx="215.34" cy="624.24" r="1.45" fill="#693fad" fill-opacity="0.62"/>
<circle cx="208.40" cy="624.73" r="1.45" fill="#8836a5" fill-opacity="0.62"/>
<circle cx="209.04" cy="624.44" r="1.45" fill="#6b3ead" fill-opacity="0.62"/>
<circle cx="210.92" cy="624.34" r="1.45" fill="#484cb9" fill-opacity="0.62"/>
<circle cx="208.90" cy="624.63" r="1.45" fill="#8835a5" fill-opacity="0.62"/>
<circle cx="213.99" cy="623.68" r="1.45" fill="#673fae" fill-opacity="0.62"/>
<circle cx="215.76" cy="624.24" r="1.45" fill="#733caa" fill-opacity="0.62"/>
<circle cx="211.06" cy="624.48" r="1.45" fill="#7c39a8" fill-opacity="0.62"/>
<circle cx="207.75" cy="624.80" r="1.45" fill="#4157c1" fill-opacity="0.62"/>
<circle cx="212.02" cy="623.84" r="1.45" fill="#743baa" fill-opacity="0.62"/>
<circle cx="217.71" cy="624.22" r="1.45" fill="#763baa" fill-opacity="0.62"/>
<circle cx="216.98" cy="624.45" r="1.45" fill="#474ebb" fill-opacity="0.62"/>
<circle cx="207.63" cy="624.22" r="1.45" fill="#783aa9" fill-opacity="0.62"/>
<circle cx="217.53" cy="624.73" r="1.45" fill="#494bb8" fill-opacity="0.62"/>
<circle cx="215.23" cy="624.01" r="1.45" fill="#5346b4" fill-opacity="0.62"/>
<circle cx="216.53" cy="623.71" r="1.45" fill="#8536a5" fill-opacity="0.62"/>
<circle cx="216.13" cy="623.64" r="1.45" fill="#8437a6" fill-opacity="0.62"/>
<circle cx="233.50" cy="624.08" r="1.45" fill="#4a4ab7" fill-opacity="0.62"/>
<circle cx="236.32" cy="624.16" r="1.45" fill="#5345b4" fill-opacity="0.62"/>
<circle cx="234.74" cy="623.66" r="1.45" fill="#5047b5" fill-opacity="0.62"/>
<circle cx="235.27" cy="623.97" r="1.45" fill="#5046b5" fill-opacity="0.62"/>
<circle cx="235.89" cy="624.22" r="1.45" fill="#3c5ec7" fill-opacity="0.62"/>
<circle cx="233.21" cy="624.66" r="1.45" fill="#4453be" fill-opacity="0.62"/>
<circle cx="235.59" cy="624.54" r="1.45" fill="#5047b5" fill-opacity="0.62"/>
<circle cx="235.68" cy="623.87" r="1.45" fill="#2b79db" fill-opacity="0.62"/>
<circle cx="236.01" cy="624.65" r="1.45" fill="#2e74d7" fill-opacity="0.62"/>
<circle cx="236.60" cy="624.49" r="1.45" fill="#4452be" fill-opacity="0.62"/>
<circle cx="236.70" cy="623.97" r="1.45" fill="#4355c0" fill-opacity="0.62"/>
<circle cx="234.23" cy="623.73" r="1.45" fill="#4158c2" fill-opacity="0.62"/>
<circle cx="230.94" cy="624.49" r="1.45" fill="#3070d4" fill-opacity="0.62"/>
<circle cx="231.89" cy="624.01" r="1.45" fill="#326dd2" fill-opacity="0.62"/>
<circle cx="234.06" cy="624.15" r="1.45" fill="#3667ce" fill-opacity="0.62"/>
<circle cx="231.15" cy="623.99" r="1.45" fill="#297bdd" fill-opacity="0.62"/>
<circle cx="239.55" cy="624.20" r="1.45" fill="#d6217e" fill-opacity="0.62"/>
<circle cx="239.32" cy="624.72" r="1.45" fill="#d12282" fill-opacity="0.62"/>
<circle cx="242.04" cy="623.84" r="1.45" fill="#c6248a" fill-opacity="0.62"/>
<circle cx="238.79" cy="623.71" r="1.45" fill="#cf2283" fill-opacity="0.62"/>
<circle cx="236.93" cy="624.75" r="1.45" fill="#e41e73" fill-opacity="0.62"/>
<circle cx="241.92" cy="624.26" r="1.45" fill="#da207b" fill-opacity="0.62"/>
<circle cx="241.33" cy="624.55" r="1.45" fill="#c82488" fill-opacity="0.62"/>
<circle cx="238.14" cy="624.48" r="1.45" fill="#c1258e" fill-opacity="0.62"/>
<circle cx="237.42" cy="624.66" r="1.45" fill="#e41e73" fill-opacity="0.62"/>
<circle cx="237.35" cy="623.63" r="1.45" fill="#cf2284" fill-opacity="0.62"/>
<circle cx="236.93" cy="624.36" r="1.45" fill="#dc207a" fill-opacity="0.62"/>
<circle cx="238.82" cy="624.06" r="1.45" fill="#d7217d" fill-opacity="0.62"/>
<circle cx="241.65" cy="624.03" r="1.45" fill="#e11f76" fill-opacity="0.62"/>
<circle cx="239.65" cy="624.55" r="1.45" fill="#c1258e" fill-opacity="0.62"/>
<circle cx="237.45" cy="624.49" r="1.45" fill="#db207a" fill-opacity="0.62"/>
<circle cx="241.84" cy="624.68" r="1.45" fill="#e21e74" fill-opacity="0.62"/>
<circle cx="466.88" cy="618.93" r="1.45" fill="#5a43b2" fill-opacity="0.62"/>
<circle cx="561.31" cy="578.17" r="1.45" fill="#336dd2" fill-opacity="0.62"/>
<circle cx="494.10" cy="656.54" r="1.45" fill="#287dde" fill-opacity="0.62"/>
<circle cx="519.23" cy="619.84" r="1.45" fill="#bf2690" fill-opacity="0.62"/>
<circle cx="583.48" cy="576.82" r="1.45" fill="#346ad0" fill-opacity="0.62"/>
<circle cx="585.42" cy="581.74" r="1.45" fill="#2e73d7" fill-opacity="0.62"/>
<circle cx="445.69" cy="679.16" r="1.45" fill="#6b3ead" fill-opacity="0.62"/>
<circle cx="537.36" cy="598.45" r="1.45" fill="#da207b" fill-opacity="0.62"/>
<circle cx="429.13" cy="673.62" r="1.45" fill="#346bd0" fill-opacity="0.62"/>
<circle cx="586.13" cy="586.46" r="1.45" fill="#5b43b1" fill-opacity="0.62"/>
<circle cx="520.07" cy="626.26" r="1.45" fill="#6440af" fill-opacity="0.62"/>
<circle cx="470.30" cy="628.49" r="1.45" fill="#9432a1" fill-opacity="0.62"/>
<circle cx="519.37" cy="616.28" r="1.45" fill="#df1f77" fill-opacity="0.62"/>
<circle cx="465.72" cy="624.53" r="1.45" fill="#ba2794" fill-opacity="0.62"/>
<circle cx="518.91" cy="623.69" r="1.45" fill="#464fbb" fill-opacity="0.62"/>
<circle cx="559.96" cy="587.04" r="1.45" fill="#bc2692" fill-opacity="0.62"/>
<circle cx="513.59" cy="629.09" r="1.45" fill="#693fae" fill-opacity="0.62"/>
<circle cx="466.30" cy="631.84" r="1.45" fill="#b92794" fill-opacity="0.62"/>
<circle cx="583.14" cy="595.91" r="1.45" fill="#b82795" fill-opacity="0.62"/>
<circle cx="471.52" cy="630.75" r="1.45" fill="#aa2b9b" fill-opacity="0.62"/>
<circle cx="558.92" cy="594.61" r="1.45" fill="#3e5cc5" fill-opacity="0.62"/>
<circle cx="430.05" cy="700.45" r="1.45" fill="#e41e73" fill-opacity="0.62"/>
<circle cx="472.30" cy="637.65" r="1.45" fill="#4551bd" fill-opacity="0.62"/>
<circle cx="561.02" cy="585.49" r="1.45" fill="#4b48b6" fill-opacity="0.62"/>
<circle cx="538.14" cy="594.25" r="1.45" fill="#6640ae" fill-opacity="0.62"/>
<circle cx="512.91" cy="629.10" r="1.45" fill="#5944b2" fill-opacity="0.62"/>
<circle cx="429.45" cy="700.54" r="1.45" fill="#e41e73" fill-opacity="0.62"/>
<circle cx="429.21" cy="678.35" r="1.45" fill="#3c5fc7" fill-opacity="0.62"/>
<circle cx="446.15" cy="693.17" r="1.45" fill="#b52897" fill-opacity="0.62"/>
<circle cx="429.54" cy="678.35" r="1.45" fill="#4256c0" fill-opacity="0.62"/>
<circle cx="472.04" cy="638.49" r="1.45" fill="#287dde" fill-opacity="0.62"/>
<circle cx="585.09" cy="585.75" r="1.45" fill="#9e2f9e" fill-opacity="0.62"/>
<circle cx="428.85" cy="678.82" r="1.45" fill="#287dde" fill-opacity="0.62"/>
<circle cx="538.17" cy="605.00" r="1.45" fill="#e41e73" fill-opacity="0.62"/>
<circle cx="430.39" cy="686.16" r="1.45" fill="#8c34a3" fill-opacity="0.62"/>
<circle cx="559.43" cy="596.64" r="1.45" fill="#be2690" fill-opacity="0.62"/>
<circle cx="536.02" cy="591.26" r="1.45" fill="#7c39a8" fill-opacity="0.62"/>
<circle cx="465.95" cy="631.03" r="1.45" fill="#a12e9d" fill-opacity="0.62"/>
<circle cx="560.36" cy="579.76" r="1.45" fill="#6d3eac" fill-opacity="0.62"/>
<circle cx="519.90" cy="618.58" r="1.45" fill="#c5248b" fill-opacity="0.62"/>
<circle cx="517.39" cy="631.90" r="1.45" fill="#287dde" fill-opacity="0.62"/>
<circle cx="583.12" cy="601.85" r="1.45" fill="#bb2793" fill-opacity="0.62"/>
<circle cx="428.42" cy="677.36" r="1.45" fill="#287dde" fill-opacity="0.62"/>
<circle cx="537.68" cy="586.16" r="1.45" fill="#793aa9" fill-opacity="0.62"/>
<circle cx="494.59" cy="646.06" r="1.45" fill="#3d5ec6" fill-opacity="0.62"/>
<circle cx="584.13" cy="602.90" r="1.45" fill="#e41e73" fill-opacity="0.62"/>
<circle cx="429.01" cy="687.31" r="1.45" fill="#4058c2" fill-opacity="0.62"/>
<circle cx="496.06" cy="646.63" r="1.45" fill="#9232a2" fill-opacity="0.62"/>
<circle cx="517.93" cy="622.48" r="1.45" fill="#bd2691" fill-opacity="0.62"/>
<circle cx="559.63" cy="573.54" r="1.45" fill="#3a61c9" fill-opacity="0.62"/>
<circle cx="512.13" cy="632.84" r="1.45" fill="#4a4ab8" fill-opacity="0.62"/>
<circle cx="447.49" cy="689.51" r="1.45" fill="#c7248a" fill-opacity="0.62"/>
<circle cx="538.23" cy="597.86" r="1.45" fill="#ca2387" fill-opacity="0.62"/>
<circle cx="427.59" cy="698.98" r="1.45" fill="#b22998" fill-opacity="0.62"/>
<circle cx="495.99" cy="654.62" r="1.45" fill="#3170d4" fill-opacity="0.62"/>
<circle cx="537.19" cy="591.68" r="1.45" fill="#5744b3" fill-opacity="0.62"/>
<circle cx="493.23" cy="642.42" r="1.45" fill="#6241b0" fill-opacity="0.62"/>
<circle cx="584.29" cy="579.85" r="1.45" fill="#3f5bc4" fill-opacity="0.62"/>
<circle cx="512.84" cy="629.52" r="1.45" fill="#287dde" fill-opacity="0.62"/>
<circle cx="513.96" cy="623.32" r="1.45" fill="#b72796" fill-opacity="0.62"/>
<circle cx="513.34" cy="625.25" r="1.45" fill="#3c5fc7" fill-opacity="0.62"/>
<circle cx="469.49" cy="624.57" r="1.45" fill="#a92b9b" fill-opacity="0.62"/>
<circle cx="446.43" cy="669.87" r="1.45" fill="#2b79db" fill-opacity="0.62"/>
<circle cx="517.86" cy="618.94" r="1.45" fill="#c0258f" fill-opacity="0.62"/>
<circle cx="466.76" cy="621.47" r="1.45" fill="#793aa9" fill-opacity="0.62"/>
<circle cx="448.11" cy="666.30" r="1.45" fill="#336dd2" fill-opacity="0.62"/>
<circle cx="586.26" cy="603.44" r="1.45" fill="#c0258f" fill-opacity="0.62"/>
<circle cx="465.00" cy="630.28" r="1.45" fill="#474dba" fill-opacity="0.62"/>
<circle cx="535.97" cy="591.46" r="1.45" fill="#8a35a4" fill-opacity="0.62"/>
<circle cx="512.97" cy="614.81" r="1.45" fill="#e41e73" fill-opacity="0.62"/>
<circle cx="518.38" cy="627.64" r="1.45" fill="#326dd2" fill-opacity="0.62"/>
<circle cx="495.23" cy="651.54" r="1.45" fill="#7b39a8" fill-opacity="0.62"/>
<circle cx="446.85" cy="670.48" r="1.45" fill="#287dde" fill-opacity="0.62"/>
<circle cx="583.83" cy="582.73" r="1.45" fill="#494bb8" fill-opacity="0.62"/>
<circle cx="429.72" cy="691.21" r="1.45" fill="#6141b0" fill-opacity="0.62"/>
<circle cx="493.63" cy="643.96" r="1.45" fill="#8b34a4" fill-opacity="0.62"/>
<circle cx="512.11" cy="622.69" r="1.45" fill="#9133a2" fill-opacity="0.62"/>
<circle cx="467.53" cy="630.46" r="1.45" fill="#5445b3" fill-opacity="0.62"/>
<circle cx="536.73" cy="602.90" r="1.45" fill="#a72c9c" fill-opacity="0.62"/>
<circle cx="537.60" cy="587.68" r="1.45" fill="#2f73d6" fill-opacity="0.62"/>
<circle cx="429.50" cy="675.66" r="1.45" fill="#287dde" fill-opacity="0.62"/>
<circle cx="512.15" cy="615.11" r="1.45" fill="#b82795" fill-opacity="0.62"/>
<circle cx="584.65" cy="590.81" r="1.45" fill="#6a3ead" fill-opacity="0.62"/>
<circle cx="470.90" cy="624.20" r="1.45" fill="#c72489" fill-opacity="0.62"/>
<circle cx="471.53" cy="626.48" r="1.45" fill="#c6248a" fill-opacity="0.62"/>
<circle cx="447.27" cy="692.49" r="1.45" fill="#9d2f9f" fill-opacity="0.62"/>
<circle cx="471.39" cy="621.23" r="1.45" fill="#d12281" fill-opacity="0.62"/>
<circle cx="494.86" cy="634.27" r="1.45" fill="#bb2793" fill-opacity="0.62"/>
<circle cx="493.56" cy="656.13" r="1.45" fill="#3767cd" fill-opacity="0.62"/>
<circle cx="536.13" cy="598.58" r="1.45" fill="#b62896" fill-opacity="0.62"/>
<circle cx="562.18" cy="600.77" r="1.45" fill="#2a7bdc" fill-opacity="0.62"/>
<circle cx="429.84" cy="693.51" r="1.45" fill="#a72c9c" fill-opacity="0.62"/>
<circle cx="583.48" cy="577.98" r="1.45" fill="#4157c1" fill-opacity="0.62"/>
<circle cx="536.77" cy="580.83" r="1.45" fill="#287dde" fill-opacity="0.62"/>
<circle cx="560.55" cy="598.76" r="1.45" fill="#316fd3" fill-opacity="0.62"/>
<circle cx="466.70" cy="625.45" r="1.45" fill="#c72489" fill-opacity="0.62"/>
<circle cx="559.58" cy="582.69" r="1.45" fill="#6042b0" fill-opacity="0.62"/>
<circle cx="469.83" cy="637.10" r="1.45" fill="#2a7adc" fill-opacity="0.62"/>
<circle cx="465.49" cy="627.29" r="1.45" fill="#a42d9d" fill-opacity="0.62"/>
<circle cx="559.62" cy="587.01" r="1.45" fill="#c3258c" fill-opacity="0.62"/>
<circle cx="585.22" cy="585.08" r="1.45" fill="#b12999" fill-opacity="0.62"/>
<circle cx="446.69" cy="665.96" r="1.45" fill="#4256c0" fill-opacity="0.62"/>
<circle cx="585.45" cy="584.52" r="1.45" fill="#4452be" fill-opacity="0.62"/>
<circle cx="427.56" cy="698.38" r="1.45" fill="#e41e73" fill-opacity="0.62"/>
<circle cx="494.88" cy="649.80" r="1.45" fill="#6540af" fill-opacity="0.62"/>
<circle cx="512.10" cy="633.07" r="1.45" fill="#287dde" fill-opacity="0.62"/>
<circle cx="513.88" cy="615.20" r="1.45" fill="#e41e73" fill-opacity="0.62"/>
<circle cx="585.57" cy="604.14" r="1.45" fill="#e41e73" fill-opacity="0.62"/>
<circle cx="493.38" cy="638.30" r="1.45" fill="#c1258e" fill-opacity="0.62"/>
<circle cx="536.45" cy="593.97" r="1.45" fill="#6640ae" fill-opacity="0.62"/>
<circle cx="466.28" cy="630.18" r="1.45" fill="#2d76d8" fill-opacity="0.62"/>
<circle cx="445.92" cy="669.44" r="1.45" fill="#297cdd" fill-opacity="0.62"/>
<circle cx="517.36" cy="616.68" r="1.45" fill="#b62896" fill-opacity="0.62"/>
<circle cx="559.47" cy="600.19" r="1.45" fill="#2d76d9" fill-opacity="0.62"/>
<circle cx="536.36" cy="604.85" r="1.45" fill="#c92488" fill-opacity="0.62"/>
<circle cx="586.06" cy="578.72" r="1.45" fill="#287dde" fill-opacity="0.62"/>
<circle cx="448.54" cy="682.35" r="1.45" fill="#cc2385" fill-opacity="0.62"/>
<circle cx="447.75" cy="673.34" r="1.45" fill="#4a4ab8" fill-opacity="0.62"/>
<circle cx="538.13" cy="589.44" r="1.45" fill="#713dab" fill-opacity="0.62"/>
<circle cx="585.88" cy="592.92" r="1.45" fill="#c0268f" fill-opacity="0.62"/>
<circle cx="494.47" cy="651.35" r="1.45" fill="#356ad0" fill-opacity="0.62"/>
<circle cx="514.41" cy="622.59" r="1.45" fill="#c3258c" fill-opacity="0.62"/>
<circle cx="536.50" cy="601.01" r="1.45" fill="#ad2a9a" fill-opacity="0.62"/>
<circle cx="559.13" cy="594.35" r="1.45" fill="#ce2384" fill-opacity="0.62"/>
<circle cx="429.74" cy="703.74" r="1.45" fill="#e41e73" fill-opacity="0.62"/>
<circle cx="470.72" cy="625.30" r="1.45" fill="#bf268f" fill-opacity="0.62"/>
<circle cx="465.08" cy="620.14" r="1.45" fill="#c5258b" fill-opacity="0.62"/>
<circle cx="560.29" cy="591.26" r="1.45" fill="#d4217f" fill-opacity="0.62"/>
<circle cx="512.36" cy="621.62" r="1.45" fill="#8e33a3" fill-opacity="0.62"/>
<circle cx="493.58" cy="649.81" r="1.45" fill="#494cb9" fill-opacity="0.62"/>
<circle cx="493.94" cy="636.50" r="1.45" fill="#a72c9c" fill-opacity="0.62"/>
<circle cx="446.28" cy="684.74" r="1.45" fill="#c1258e" fill-opacity="0.62"/>
<circle cx="495.93" cy="639.82" r="1.45" fill="#d8217c" fill-opacity="0.62"/>
<circle cx="447.03" cy="680.65" r="1.45" fill="#c1258e" fill-opacity="0.62"/>
<circle cx="518.16" cy="619.99" r="1.45" fill="#ce2384" fill-opacity="0.62"/>
<circle cx="469.98" cy="632.74" r="1.45" fill="#b12999" fill-opacity="0.62"/>
<circle cx="495.86" cy="633.93" r="1.45" fill="#c4258b" fill-opacity="0.62"/>
<circle cx="471.98" cy="639.55" r="1.45" fill="#287dde" fill-opacity="0.62"/>
<circle cx="537.57" cy="594.65" r="1.45" fill="#cf2283" fill-opacity="0.62"/>
<circle cx="447.15" cy="691.65" r="1.45" fill="#c0258f" fill-opacity="0.62"/>
<circle cx="583.24" cy="583.68" r="1.45" fill="#4353bf" fill-opacity="0.62"/>
<circle cx="472.05" cy="627.17" r="1.45" fill="#d02283" fill-opacity="0.62"/>
<circle cx="562.14" cy="585.80" r="1.45" fill="#be2690" fill-opacity="0.62"/>
<circle cx="493.92" cy="637.75" r="1.45" fill="#8935a4" fill-opacity="0.62"/>
<circle cx="494.12" cy="649.37" r="1.45" fill="#494bb8" fill-opacity="0.62"/>
<circle cx="471.23" cy="636.55" r="1.45" fill="#2f73d6" fill-opacity="0.62"/>
<circle cx="585.61" cy="591.09" r="1.45" fill="#673fae" fill-opacity="0.62"/>
<circle cx="518.26" cy="625.32" r="1.45" fill="#4c48b6" fill-opacity="0.62"/>
<circle cx="471.22" cy="638.02" r="1.45" fill="#287dde" fill-opacity="0.62"/>
<circle cx="538.08" cy="586.83" r="1.45" fill="#2b78da" fill-opacity="0.62"/>
<circle cx="446.23" cy="686.07" r="1.45" fill="#d8217d" fill-opacity="0.62"/>
<circle cx="429.11" cy="694.53" r="1.45" fill="#dd2079" fill-opacity="0.62"/>
<circle cx="447.96" cy="685.52" r="1.45" fill="#a62c9c" fill-opacity="0.62"/>
<circle cx="428.21" cy="680.56" r="1.45" fill="#703dac" fill-opacity="0.62"/>
<circle cx="470.27" cy="623.29" r="1.45" fill="#e41e73" fill-opacity="0.62"/>
<circle cx="537.84" cy="584.84" r="1.45" fill="#783aa9" fill-opacity="0.62"/>
<circle cx="446.04" cy="675.48" r="1.45" fill="#9b309f" fill-opacity="0.62"/>
<circle cx="448.06" cy="686.53" r="1.45" fill="#7a3aa9" fill-opacity="0.62"/>
<circle cx="495.90" cy="646.31" r="1.45" fill="#bc2692" fill-opacity="0.62"/>
<circle cx="467.41" cy="618.96" r="1.45" fill="#e31e74" fill-opacity="0.62"/>
<circle cx="537.06" cy="583.46" r="1.45" fill="#3964cb" fill-opacity="0.62"/>
<circle cx="585.46" cy="582.73" r="1.45" fill="#494cb9" fill-opacity="0.62"/>
<circle cx="447.36" cy="686.71" r="1.45" fill="#7e38a7" fill-opacity="0.62"/>
<circle cx="560.00" cy="574.28" r="1.45" fill="#b52897" fill-opacity="0.62"/>
<circle cx="472.36" cy="637.13" r="1.45" fill="#4059c3" fill-opacity="0.62"/>
<circle cx="493.63" cy="643.96" r="1.45" fill="#c4258c" fill-opacity="0.62"/>
<circle cx="513.04" cy="622.65" r="1.45" fill="#9c2f9f" fill-opacity="0.62"/>
<circle cx="471.36" cy="633.16" r="1.45" fill="#8237a6" fill-opacity="0.62"/>
<circle cx="448.64" cy="691.66" r="1.45" fill="#9532a1" fill-opacity="0.62"/>
<circle cx="512.20" cy="616.17" r="1.45" fill="#e41e73" fill-opacity="0.62"/>
<circle cx="584.65" cy="579.15" r="1.45" fill="#4158c2" fill-opacity="0.62"/>
<circle cx="495.41" cy="644.83" r="1.45" fill="#9a30a0" fill-opacity="0.62"/>
<circle cx="536.39" cy="584.24" r="1.45" fill="#3569cf" fill-opacity="0.62"/>
<circle cx="519.02" cy="618.95" r="1.45" fill="#b42898" fill-opacity="0.62"/>
<circle cx="429.42" cy="688.28" r="1.45" fill="#7a3aa9" fill-opacity="0.62"/>
<circle cx="464.91" cy="625.97" r="1.45" fill="#3668ce" fill-opacity="0.62"/>
<circle cx="559.72" cy="588.23" r="1.45" fill="#e31e74" fill-opacity="0.62"/>
<circle cx="465.84" cy="625.70" r="1.45" fill="#8e34a3" fill-opacity="0.62"/>
<circle cx="583.32" cy="600.79" r="1.45" fill="#e21e74" fill-opacity="0.62"/>
<circle cx="427.79" cy="697.77" r="1.45" fill="#c82489" fill-opacity="0.62"/>
<circle cx="512.30" cy="617.72" r="1.45" fill="#a82c9b" fill-opacity="0.62"/>
<circle cx="537.09" cy="594.65" r="1.45" fill="#ca2387" fill-opacity="0.62"/>
<circle cx="559.67" cy="583.76" r="1.45" fill="#2a7adc" fill-opacity="0.62"/>
<circle cx="561.80" cy="576.16" r="1.45" fill="#9631a1" fill-opacity="0.62"/>
<circle cx="446.06" cy="694.21" r="1.45" fill="#c1258e" fill-opacity="0.62"/>
<circle cx="558.98" cy="585.55" r="1.45" fill="#3865cc" fill-opacity="0.62"/>
<circle cx="466.10" cy="617.05" r="1.45" fill="#6540af" fill-opacity="0.62"/>
<circle cx="464.91" cy="625.81" r="1.45" fill="#4a49b7" fill-opacity="0.62"/>
<circle cx="585.79" cy="578.82" r="1.45" fill="#6540af" fill-opacity="0.62"/>
<circle cx="467.57" cy="630.71" r="1.45" fill="#e21e74" fill-opacity="0.62"/>
<circle cx="538.13" cy="601.74" r="1.45" fill="#c3258c" fill-opacity="0.62"/>
<circle cx="448.40" cy="667.90" r="1.45" fill="#287dde" fill-opacity="0.62"/>
<circle cx="429.16" cy="687.02" r="1.45" fill="#4a4ab7" fill-opacity="0.62"/>
<circle cx="430.08" cy="682.36" r="1.45" fill="#2f72d6" fill-opacity="0.62"/>
<circle cx="536.31" cy="582.41" r="1.45" fill="#287dde" fill-opacity="0.62"/>
<circle cx="585.08" cy="594.33" r="1.45" fill="#ac2b9a" fill-opacity="0.62"/>
<circle cx="559.19" cy="582.35" r="1.45" fill="#3569cf" fill-opacity="0.62"/>
<circle cx="428.30" cy="680.72" r="1.45" fill="#3766cd" fill-opacity="0.62"/>
<circle cx="428.76" cy="688.17" r="1.45" fill="#4d47b5" fill-opacity="0.62"/>
<circle cx="470.23" cy="637.87" r="1.45" fill="#287dde" fill-opacity="0.62"/>
<circle cx="560.66" cy="582.99" r="1.45" fill="#6341af" fill-opacity="0.62"/>
<circle cx="448.61" cy="666.20" r="1.45" fill="#2d75d8" fill-opacity="0.62"/>
<circle cx="427.01" cy="689.34" r="1.45" fill="#8138a7" fill-opacity="0.62"/>
<circle cx="584.89" cy="590.67" r="1.45" fill="#bd2691" fill-opacity="0.62"/>
<circle cx="471.36" cy="633.21" r="1.45" fill="#3f5ac4" fill-opacity="0.62"/>
<circle cx="518.52" cy="619.28" r="1.45" fill="#ad2a9a" fill-opacity="0.62"/>
<circle cx="466.12" cy="631.13" r="1.45" fill="#c92488" fill-opacity="0.62"/>
<circle cx="446.96" cy="668.86" r="1.45" fill="#287dde" fill-opacity="0.62"/>
<circle cx="447.20" cy="680.70" r="1.45" fill="#aa2b9b" fill-opacity="0.62"/>
<circle cx="445.78" cy="681.15" r="1.45" fill="#474dba" fill-opacity="0.62"/>
<circle cx="514.35" cy="624.27" r="1.45" fill="#6d3eac" fill-opacity="0.62"/>
<circle cx="494.18" cy="656.10" r="1.45" fill="#2a7adc" fill-opacity="0.62"/>
<circle cx="559.62" cy="592.04" r="1.45" fill="#8636a5" fill-opacity="0.62"/>
<circle cx="560.77" cy="590.15" r="1.45" fill="#4058c2" fill-opacity="0.62"/>
<circle cx="586.39" cy="580.61" r="1.45" fill="#287dde" fill-opacity="0.62"/>
<circle cx="429.67" cy="690.49" r="1.45" fill="#4552bd" fill-opacity="0.62"/>
<circle cx="493.36" cy="634.13" r="1.45" fill="#cc2386" fill-opacity="0.62"/>
<circle cx="447.68" cy="693.13" r="1.45" fill="#e41e73" fill-opacity="0.62"/>
<circle cx="583.71" cy="575.80" r="1.45" fill="#287dde" fill-opacity="0.62"/>
<circle cx="429.02" cy="676.90" r="1.45" fill="#316fd4" fill-opacity="0.62"/>
<circle cx="428.44" cy="680.19" r="1.45" fill="#6640ae" fill-opacity="0.62"/>
<circle cx="496.18" cy="648.91" r="1.45" fill="#4354bf" fill-opacity="0.62"/>
<circle cx="562.06" cy="581.35" r="1.45" fill="#3864cb" fill-opacity="0.62"/>
<circle cx="445.75" cy="670.12" r="1.45" fill="#5146b4" fill-opacity="0.62"/>
<circle cx="428.70" cy="688.13" r="1.45" fill="#783aa9" fill-opacity="0.62"/>
<circle cx="561.47" cy="588.19" r="1.45" fill="#346bd1" fill-opacity="0.62"/>
<circle cx="561.75" cy="581.87" r="1.45" fill="#c7248a" fill-opacity="0.62"/>
<circle cx="585.97" cy="597.66" r="1.45" fill="#d12282" fill-opacity="0.62"/>
<circle cx="447.99" cy="667.64" r="1.45" fill="#4355c0" fill-opacity="0.62"/>
<circle cx="537.92" cy="595.46" r="1.45" fill="#c72489" fill-opacity="0.62"/>
<circle cx="493.39" cy="637.42" r="1.45" fill="#a02e9e" fill-opacity="0.62"/>
<circle cx="536.10" cy="600.68" r="1.45" fill="#df1f77" fill-opacity="0.62"/>
<circle cx="512.70" cy="631.91" r="1.45" fill="#287dde" fill-opacity="0.62"/>
<circle cx="428.09" cy="690.84" r="1.45" fill="#8237a6" fill-opacity="0.62"/>
<circle cx="517.31" cy="630.02" r="1.45" fill="#3070d4" fill-opacity="0.62"/>
<circle cx="519.89" cy="617.36" r="1.45" fill="#d6217e" fill-opacity="0.62"/>
<circle cx="429.86" cy="683.90" r="1.45" fill="#723cab" fill-opacity="0.62"/>
<circle cx="428.11" cy="694.51" r="1.45" fill="#a42d9c" fill-opacity="0.62"/>
<circle cx="519.65" cy="616.10" r="1.45" fill="#d7217d" fill-opacity="0.62"/>
<circle cx="429.01" cy="699.54" r="1.45" fill="#e41e73" fill-opacity="0.62"/>
<circle cx="559.25" cy="582.91" r="1.45" fill="#6640ae" fill-opacity="0.62"/>
<circle cx="449.29" cy="678.87" r="1.45" fill="#3e5cc5" fill-opacity="0.62"/>
<circle cx="585.42" cy="598.93" r="1.45" fill="#c92488" fill-opacity="0.62"/>
<circle cx="493.57" cy="640.12" r="1.45" fill="#bb2792" fill-opacity="0.62"/>
<circle cx="496.12" cy="648.72" r="1.45" fill="#3c5ec7" fill-opacity="0.62"/>
<circle cx="471.83" cy="620.52" r="1.45" fill="#bc2692" fill-opacity="0.62"/>
<circle cx="562.16" cy="602.99" r="1.45" fill="#5d42b1" fill-opacity="0.62"/>
<circle cx="535.96" cy="597.28" r="1.45" fill="#6c3ead" fill-opacity="0.62"/>
<circle cx="447.58" cy="679.00" r="1.45" fill="#484cb9" fill-opacity="0.62"/>
<circle cx="514.50" cy="619.09" r="1.45" fill="#8f33a3" fill-opacity="0.62"/>
<circle cx="465.13" cy="623.50" r="1.45" fill="#5645b3" fill-opacity="0.62"/>
<circle cx="559.32" cy="592.28" r="1.45" fill="#bb2793" fill-opacity="0.62"/>
<circle cx="536.86" cy="599.06" r="1.45" fill="#8138a7" fill-opacity="0.62"/>
<circle cx="586.03" cy="575.51" r="1.45" fill="#287dde" fill-opacity="0.62"/>
<circle cx="518.83" cy="617.24" r="1.45" fill="#e41e73" fill-opacity="0.62"/>
<circle cx="493.90" cy="656.43" r="1.45" fill="#2b78da" fill-opacity="0.62"/>
<circle cx="470.53" cy="640.27" r="1.45" fill="#287dde" fill-opacity="0.62"/>
<circle cx="519.19" cy="629.81" r="1.45" fill="#3c5fc7" fill-opacity="0.62"/>
<circle cx="519.57" cy="629.00" r="1.45" fill="#6341af" fill-opacity="0.62"/>
<circle cx="513.47" cy="631.80" r="1.45" fill="#287dde" fill-opacity="0.62"/>
<circle cx="466.52" cy="632.83" r="1.45" fill="#3963cb" fill-opacity="0.62"/>
<circle cx="447.98" cy="692.74" r="1.45" fill="#e41e73" fill-opacity="0.62"/>
<circle cx="159.45" cy="893.85" r="1.45" fill="#9f2e9e" fill-opacity="0.62"/>
<circle cx="136.05" cy="894.48" r="1.45" fill="#3569cf" fill-opacity="0.62"/>
<circle cx="89.15" cy="890.98" r="1.45" fill="#743baa" fill-opacity="0.62"/>
<circle cx="104.75" cy="890.87" r="1.45" fill="#2a7adc" fill-opacity="0.62"/>
<circle cx="174.83" cy="894.88" r="1.45" fill="#9b309f" fill-opacity="0.62"/>
<circle cx="156.53" cy="893.40" r="1.45" fill="#b62896" fill-opacity="0.62"/>
<circle cx="138.71" cy="894.18" r="1.45" fill="#b72795" fill-opacity="0.62"/>
<circle cx="101.52" cy="891.06" r="1.45" fill="#a02e9e" fill-opacity="0.62"/>
<circle cx="172.40" cy="893.42" r="1.45" fill="#6f3dac" fill-opacity="0.62"/>
<circle cx="172.59" cy="893.43" r="1.45" fill="#6f3dac" fill-opacity="0.62"/>
<circle cx="140.16" cy="894.24" r="1.45" fill="#3a61c9" fill-opacity="0.62"/>
<circle cx="141.35" cy="894.25" r="1.45" fill="#c72489" fill-opacity="0.62"/>
<circle cx="83.76" cy="891.40" r="1.45" fill="#474dba" fill-opacity="0.62"/>
<circle cx="52.57" cy="891.01" r="1.45" fill="#494bb8" fill-opacity="0.62"/>
<circle cx="108.50" cy="892.28" r="1.45" fill="#c72489" fill-opacity="0.62"/>
<circle cx="177.12" cy="895.20" r="1.45" fill="#743caa" fill-opacity="0.62"/>
<circle cx="156.76" cy="893.27" r="1.45" fill="#b62896" fill-opacity="0.62"/>
<circle cx="102.60" cy="890.81" r="1.45" fill="#4552bd" fill-opacity="0.62"/>
<circle cx="94.46" cy="891.29" r="1.45" fill="#5944b2" fill-opacity="0.62"/>
<circle cx="121.46" cy="892.63" r="1.45" fill="#b12999" fill-opacity="0.62"/>
<circle cx="168.13" cy="894.20" r="1.45" fill="#6d3eac" fill-opacity="0.62"/>
<circle cx="69.08" cy="890.96" r="1.45" fill="#7c39a8" fill-opacity="0.62"/>
<circle cx="196.50" cy="893.30" r="1.45" fill="#336cd1" fill-opacity="0.62"/>
<circle cx="87.25" cy="891.18" r="1.45" fill="#bf2690" fill-opacity="0.62"/>
<circle cx="44.40" cy="891.00" r="1.45" fill="#e41e73" fill-opacity="0.62"/>
<circle cx="118.16" cy="892.55" r="1.45" fill="#9b309f" fill-opacity="0.62"/>
<circle cx="92.82" cy="891.00" r="1.45" fill="#3d5dc6" fill-opacity="0.62"/>
<circle cx="177.18" cy="895.35" r="1.45" fill="#743caa" fill-opacity="0.62"/>
<circle cx="107.96" cy="891.35" r="1.45" fill="#6d3eac" fill-opacity="0.62"/>
<circle cx="176.24" cy="894.36" r="1.45" fill="#3766cc" fill-opacity="0.62"/>
<circle cx="102.87" cy="890.89" r="1.45" fill="#4552bd" fill-opacity="0.62"/>
<circle cx="170.14" cy="894.26" r="1.45" fill="#4157c1" fill-opacity="0.62"/>
<circle cx="171.30" cy="894.31" r="1.45" fill="#6640ae" fill-opacity="0.62"/>
<circle cx="85.47" cy="891.35" r="1.45" fill="#b92794" fill-opacity="0.62"/>
<circle cx="112.90" cy="892.38" r="1.45" fill="#8138a7" fill-opacity="0.62"/>
<circle cx="63.70" cy="891.19" r="1.45" fill="#d6217e" fill-opacity="0.62"/>
<circle cx="67.77" cy="891.34" r="1.45" fill="#6a3fad" fill-opacity="0.62"/>
<circle cx="137.12" cy="893.76" r="1.45" fill="#4354bf" fill-opacity="0.62"/>
<circle cx="126.16" cy="894.56" r="1.45" fill="#2a7adb" fill-opacity="0.62"/>
<circle cx="150.23" cy="894.88" r="1.45" fill="#8935a4" fill-opacity="0.62"/>
<circle cx="114.39" cy="892.77" r="1.45" fill="#9033a2" fill-opacity="0.62"/>
<circle cx="44.13" cy="891.14" r="1.45" fill="#e41e73" fill-opacity="0.62"/>
<circle cx="161.48" cy="893.62" r="1.45" fill="#316fd3" fill-opacity="0.62"/>
<circle cx="184.61" cy="894.25" r="1.45" fill="#753baa" fill-opacity="0.62"/>
<circle cx="173.95" cy="895.22" r="1.45" fill="#c2258d" fill-opacity="0.62"/>
<circle cx="133.62" cy="894.31" r="1.45" fill="#753baa" fill-opacity="0.62"/>
<circle cx="96.06" cy="891.13" r="1.45" fill="#cc2385" fill-opacity="0.62"/>
<circle cx="68.79" cy="891.09" r="1.45" fill="#7c39a8" fill-opacity="0.62"/>
<circle cx="167.07" cy="895.41" r="1.45" fill="#dd2079" fill-opacity="0.62"/>
<circle cx="70.70" cy="891.06" r="1.45" fill="#ca2387" fill-opacity="0.62"/>
<circle cx="108.14" cy="891.41" r="1.45" fill="#6d3eac" fill-opacity="0.62"/>
<circle cx="152.76" cy="894.70" r="1.45" fill="#e11f76" fill-opacity="0.62"/>
<circle cx="126.91" cy="894.24" r="1.45" fill="#8f33a2" fill-opacity="0.62"/>
<circle cx="213.50" cy="893.20" r="1.45" fill="#9432a1" fill-opacity="0.62"/>
<circle cx="193.00" cy="893.30" r="1.45" fill="#336cd1" fill-opacity="0.62"/>
<circle cx="89.17" cy="890.87" r="1.45" fill="#743baa" fill-opacity="0.62"/>
<circle cx="124.38" cy="892.66" r="1.45" fill="#3f5bc4" fill-opacity="0.62"/>
<circle cx="132.73" cy="894.55" r="1.45" fill="#9e2f9e" fill-opacity="0.62"/>
<circle cx="141.42" cy="894.08" r="1.45" fill="#c72489" fill-opacity="0.62"/>
<circle cx="178.08" cy="893.59" r="1.45" fill="#316fd3" fill-opacity="0.62"/>
<circle cx="166.17" cy="893.75" r="1.45" fill="#3170d4" fill-opacity="0.62"/>
<circle cx="185.79" cy="895.25" r="1.45" fill="#b72796" fill-opacity="0.62"/>
<circle cx="51.12" cy="891.09" r="1.45" fill="#2a79db" fill-opacity="0.62"/>
<circle cx="72.40" cy="891.06" r="1.45" fill="#aa2b9b" fill-opacity="0.62"/>
<circle cx="94.40" cy="891.23" r="1.45" fill="#5944b2" fill-opacity="0.62"/>
<circle cx="211.00" cy="893.20" r="1.45" fill="#5545b3" fill-opacity="0.62"/>
<circle cx="114.66" cy="892.85" r="1.45" fill="#9033a2" fill-opacity="0.62"/>
<circle cx="77.46" cy="891.11" r="1.45" fill="#4058c2" fill-opacity="0.62"/>
<circle cx="182.97" cy="894.93" r="1.45" fill="#dc2079" fill-opacity="0.62"/>
<circle cx="122.88" cy="892.25" r="1.45" fill="#346bd1" fill-opacity="0.62"/>
<circle cx="180.27" cy="894.24" r="1.45" fill="#3c5ec7" fill-opacity="0.62"/>
<circle cx="152.99" cy="894.55" r="1.45" fill="#e11f76" fill-opacity="0.62"/>
<circle cx="78.81" cy="890.83" r="1.45" fill="#3070d5" fill-opacity="0.62"/>
<circle cx="160.26" cy="895.42" r="1.45" fill="#3b60c8" fill-opacity="0.62"/>
<circle cx="65.99" cy="891.11" r="1.45" fill="#346ad0" fill-opacity="0.62"/>
<circle cx="158.37" cy="895.27" r="1.45" fill="#d4217f" fill-opacity="0.62"/>
<circle cx="98.01" cy="891.13" r="1.45" fill="#4453be" fill-opacity="0.62"/>
<circle cx="60.67" cy="891.30" r="1.45" fill="#d6217d" fill-opacity="0.62"/>
<circle cx="106.05" cy="891.32" r="1.45" fill="#b32898" fill-opacity="0.62"/>
<circle cx="62.54" cy="890.93" r="1.45" fill="#2d75d8" fill-opacity="0.62"/>
<circle cx="167.90" cy="894.32" r="1.45" fill="#6d3eac" fill-opacity="0.62"/>
<circle cx="62.28" cy="891.08" r="1.45" fill="#2d75d8" fill-opacity="0.62"/>
<circle cx="153.86" cy="894.78" r="1.45" fill="#6042b0" fill-opacity="0.62"/>
<circle cx="95.76" cy="891.12" r="1.45" fill="#cc2385" fill-opacity="0.62"/>
<circle cx="175.01" cy="894.71" r="1.45" fill="#9b309f" fill-opacity="0.62"/>
<circle cx="183.86" cy="893.86" r="1.45" fill="#693fad" fill-opacity="0.62"/>
<circle cx="49.69" cy="890.69" r="1.45" fill="#c0268f" fill-opacity="0.62"/>
<circle cx="162.82" cy="894.45" r="1.45" fill="#793aa9" fill-opacity="0.62"/>
<circle cx="64.00" cy="891.37" r="1.45" fill="#d6217e" fill-opacity="0.62"/>
<circle cx="109.98" cy="892.60" r="1.45" fill="#ca2387" fill-opacity="0.62"/>
<circle cx="57.25" cy="891.07" r="1.45" fill="#b52897" fill-opacity="0.62"/>
<circle cx="59.18" cy="891.12" r="1.45" fill="#c1258e" fill-opacity="0.62"/>
<circle cx="80.14" cy="890.98" r="1.45" fill="#c7248a" fill-opacity="0.62"/>
<circle cx="116.38" cy="892.12" r="1.45" fill="#464fbb" fill-opacity="0.62"/>
<circle cx="59.12" cy="891.05" r="1.45" fill="#c1258e" fill-opacity="0.62"/>
<circle cx="168.86" cy="894.89" r="1.45" fill="#326ed3" fill-opacity="0.62"/>
<circle cx="122.73" cy="892.34" r="1.45" fill="#346bd1" fill-opacity="0.62"/>
<circle cx="157.27" cy="894.54" r="1.45" fill="#3a62c9" fill-opacity="0.62"/>
<circle cx="189.60" cy="893.30" r="1.45" fill="#5146b4" fill-opacity="0.62"/>
<circle cx="119.74" cy="892.87" r="1.45" fill="#9332a1" fill-opacity="0.62"/>
<circle cx="151.88" cy="894.98" r="1.45" fill="#3d5ec7" fill-opacity="0.62"/>
<circle cx="81.68" cy="890.74" r="1.45" fill="#326ed3" fill-opacity="0.62"/>
<circle cx="146.60" cy="893.60" r="1.45" fill="#2d75d8" fill-opacity="0.62"/>
<circle cx="164.12" cy="894.50" r="1.45" fill="#3766cd" fill-opacity="0.62"/>
<circle cx="126.00" cy="894.52" r="1.45" fill="#2a7adb" fill-opacity="0.62"/>
<circle cx="135.83" cy="894.61" r="1.45" fill="#3569cf" fill-opacity="0.62"/>
<circle cx="116.28" cy="892.26" r="1.45" fill="#464fbb" fill-opacity="0.62"/>
<circle cx="108.46" cy="892.43" r="1.45" fill="#c72489" fill-opacity="0.62"/>
<circle cx="154.80" cy="894.14" r="1.45" fill="#3767cd" fill-opacity="0.62"/>
<circle cx="150.00" cy="894.74" r="1.45" fill="#8935a4" fill-opacity="0.62"/>
<circle cx="160.45" cy="895.34" r="1.45" fill="#3b60c8" fill-opacity="0.62"/>
<circle cx="133.00" cy="894.47" r="1.45" fill="#9e2f9e" fill-opacity="0.62"/>
<circle cx="179.64" cy="895.14" r="1.45" fill="#b32898" fill-opacity="0.62"/>
<circle cx="150.93" cy="895.45" r="1.45" fill="#de1f78" fill-opacity="0.62"/>
<circle cx="166.25" cy="893.89" r="1.45" fill="#3170d4" fill-opacity="0.62"/>
<circle cx="130.55" cy="894.93" r="1.45" fill="#474fbb" fill-opacity="0.62"/>
<circle cx="155.04" cy="893.96" r="1.45" fill="#3767cd" fill-opacity="0.62"/>
<circle cx="124.58" cy="892.76" r="1.45" fill="#3f5bc4" fill-opacity="0.62"/>
<circle cx="170.25" cy="894.17" r="1.45" fill="#4157c1" fill-opacity="0.62"/>
<circle cx="129.53" cy="894.14" r="1.45" fill="#5645b3" fill-opacity="0.62"/>
<circle cx="175.94" cy="894.53" r="1.45" fill="#3766cc" fill-opacity="0.62"/>
<circle cx="157.23" cy="894.55" r="1.45" fill="#3a62c9" fill-opacity="0.62"/>
<circle cx="77.74" cy="891.16" r="1.45" fill="#4058c2" fill-opacity="0.62"/>
<circle cx="86.96" cy="891.27" r="1.45" fill="#bf2690" fill-opacity="0.62"/>
<circle cx="159.16" cy="894.00" r="1.45" fill="#9f2e9e" fill-opacity="0.62"/>
<circle cx="70.49" cy="890.92" r="1.45" fill="#ca2387" fill-opacity="0.62"/>
<circle cx="171.56" cy="894.38" r="1.45" fill="#6640ae" fill-opacity="0.62"/>
<circle cx="140.06" cy="894.07" r="1.45" fill="#3a61c9" fill-opacity="0.62"/>
<circle cx="75.66" cy="890.98" r="1.45" fill="#5a43b2" fill-opacity="0.62"/>
<circle cx="135.16" cy="894.97" r="1.45" fill="#c72489" fill-opacity="0.62"/>
<circle cx="92.76" cy="891.03" r="1.45" fill="#3d5dc6" fill-opacity="0.62"/>
<circle cx="184.87" cy="894.28" r="1.45" fill="#753baa" fill-opacity="0.62"/>
<circle cx="179.37" cy="895.09" r="1.45" fill="#b32898" fill-opacity="0.62"/>
<circle cx="161.42" cy="893.48" r="1.45" fill="#316fd3" fill-opacity="0.62"/>
<circle cx="55.35" cy="890.94" r="1.45" fill="#a52d9c" fill-opacity="0.62"/>
<circle cx="110.06" cy="892.64" r="1.45" fill="#ca2387" fill-opacity="0.62"/>
<circle cx="208.50" cy="893.20" r="1.45" fill="#474ebb" fill-opacity="0.62"/>
<circle cx="128.37" cy="894.41" r="1.45" fill="#326ed3" fill-opacity="0.62"/>
<circle cx="156.05" cy="893.91" r="1.45" fill="#9133a2" fill-opacity="0.62"/>
<circle cx="164.96" cy="895.55" r="1.45" fill="#c92488" fill-opacity="0.62"/>
<circle cx="133.70" cy="894.29" r="1.45" fill="#753baa" fill-opacity="0.62"/>
<circle cx="180.04" cy="894.20" r="1.45" fill="#3c5ec7" fill-opacity="0.62"/>
<circle cx="85.51" cy="891.35" r="1.45" fill="#b92794" fill-opacity="0.62"/>
<circle cx="127.12" cy="894.12" r="1.45" fill="#8f33a2" fill-opacity="0.62"/>
<circle cx="118.29" cy="892.63" r="1.45" fill="#9b309f" fill-opacity="0.62"/>
<circle cx="131.54" cy="894.13" r="1.45" fill="#d8217d" fill-opacity="0.62"/>
<circle cx="55.60" cy="891.05" r="1.45" fill="#a52d9c" fill-opacity="0.62"/>
<circle cx="173.89" cy="895.09" r="1.45" fill="#c2258d" fill-opacity="0.62"/>
<circle cx="131.57" cy="894.00" r="1.45" fill="#d8217d" fill-opacity="0.62"/>
<circle cx="181.15" cy="894.84" r="1.45" fill="#2d75d8" fill-opacity="0.62"/>
<circle cx="74.28" cy="890.73" r="1.45" fill="#5e42b1" fill-opacity="0.62"/>
<circle cx="91.02" cy="890.99" r="1.45" fill="#336cd1" fill-opacity="0.62"/>
<circle cx="155.80" cy="894.01" r="1.45" fill="#9133a2" fill-opacity="0.62"/>
<circle cx="57.47" cy="891.25" r="1.45" fill="#b52897" fill-opacity="0.62"/>
<circle cx="138.82" cy="894.28" r="1.45" fill="#b72795" fill-opacity="0.62"/>
<circle cx="54.15" cy="891.19" r="1.45" fill="#8a35a4" fill-opacity="0.62"/>
<circle cx="167.19" cy="895.21" r="1.45" fill="#dd2079" fill-opacity="0.62"/>
<circle cx="173.20" cy="893.18" r="1.45" fill="#9731a0" fill-opacity="0.62"/>
<circle cx="119.58" cy="892.97" r="1.45" fill="#9332a1" fill-opacity="0.62"/>
<circle cx="106.11" cy="891.17" r="1.45" fill="#b32898" fill-opacity="0.62"/>
<circle cx="180.97" cy="894.87" r="1.45" fill="#2d75d8" fill-opacity="0.62"/>
<circle cx="121.71" cy="892.50" r="1.45" fill="#b12999" fill-opacity="0.62"/>
<circle cx="66.16" cy="891.08" r="1.45" fill="#346ad0" fill-opacity="0.62"/>
<circle cx="111.54" cy="892.58" r="1.45" fill="#c72489" fill-opacity="0.62"/>
<circle cx="146.63" cy="893.42" r="1.45" fill="#2d75d8" fill-opacity="0.62"/>
<circle cx="60.75" cy="891.26" r="1.45" fill="#d6217d" fill-opacity="0.62"/>
<circle cx="52.29" cy="891.16" r="1.45" fill="#494bb8" fill-opacity="0.62"/>
<circle cx="168.98" cy="895.09" r="1.45" fill="#326ed3" fill-opacity="0.62"/>
<circle cx="158.19" cy="895.08" r="1.45" fill="#d4217f" fill-opacity="0.62"/>
<circle cx="101.45" cy="891.02" r="1.45" fill="#a02e9e" fill-opacity="0.62"/>
<circle cx="80.14" cy="890.99" r="1.45" fill="#c7248a" fill-opacity="0.62"/>
<circle cx="199.20" cy="893.30" r="1.45" fill="#4b48b6" fill-opacity="0.62"/>
<circle cx="163.93" cy="894.46" r="1.45" fill="#3766cd" fill-opacity="0.62"/>
<circle cx="111.75" cy="892.49" r="1.45" fill="#c72489" fill-opacity="0.62"/>
<circle cx="135.34" cy="894.79" r="1.45" fill="#c72489" fill-opacity="0.62"/>
<circle cx="185.91" cy="895.41" r="1.45" fill="#b72796" fill-opacity="0.62"/>
<circle cx="81.92" cy="890.90" r="1.45" fill="#326ed3" fill-opacity="0.62"/>
<circle cx="128.56" cy="894.26" r="1.45" fill="#326ed3" fill-opacity="0.62"/>
<circle cx="99.70" cy="890.73" r="1.45" fill="#5d43b1" fill-opacity="0.62"/>
<circle cx="99.72" cy="890.89" r="1.45" fill="#5d43b1" fill-opacity="0.62"/>
<circle cx="164.77" cy="895.60" r="1.45" fill="#c92488" fill-opacity="0.62"/>
<circle cx="182.15" cy="894.42" r="1.45" fill="#2c77d9" fill-opacity="0.62"/>
<circle cx="173.23" cy="893.34" r="1.45" fill="#9731a0" fill-opacity="0.62"/>
<circle cx="182.11" cy="894.36" r="1.45" fill="#2c77d9" fill-opacity="0.62"/>
<circle cx="184.07" cy="894.01" r="1.45" fill="#693fad" fill-opacity="0.62"/>
<circle cx="49.50" cy="890.87" r="1.45" fill="#c0268f" fill-opacity="0.62"/>
<circle cx="186.68" cy="893.45" r="1.45" fill="#bf2690" fill-opacity="0.62"/>
<circle cx="238.60" cy="897.50" r="1.45" fill="#e41e73" fill-opacity="0.62"/>
<circle cx="78.75" cy="891.01" r="1.45" fill="#3070d5" fill-opacity="0.62"/>
<circle cx="113.01" cy="892.22" r="1.45" fill="#8138a7" fill-opacity="0.62"/>
<circle cx="130.82" cy="894.79" r="1.45" fill="#474fbb" fill-opacity="0.62"/>
<circle cx="153.65" cy="894.70" r="1.45" fill="#6042b0" fill-opacity="0.62"/>
<circle cx="75.58" cy="890.90" r="1.45" fill="#5a43b2" fill-opacity="0.62"/>
<circle cx="137.42" cy="893.62" r="1.45" fill="#4354bf" fill-opacity="0.62"/>
<circle cx="90.81" cy="891.07" r="1.45" fill="#336cd1" fill-opacity="0.62"/>
<circle cx="186.72" cy="893.47" r="1.45" fill="#bf2690" fill-opacity="0.62"/>
<circle cx="151.89" cy="894.84" r="1.45" fill="#3d5ec7" fill-opacity="0.62"/>
<circle cx="72.39" cy="891.06" r="1.45" fill="#aa2b9b" fill-opacity="0.62"/>
<circle cx="150.95" cy="895.35" r="1.45" fill="#de1f78" fill-opacity="0.62"/>
<circle cx="215.80" cy="893.20" r="1.45" fill="#6d3eac" fill-opacity="0.62"/>
<circle cx="51.08" cy="890.92" r="1.45" fill="#2a79db" fill-opacity="0.62"/>
<circle cx="104.59" cy="891.00" r="1.45" fill="#2a7adc" fill-opacity="0.62"/>
<circle cx="74.35" cy="890.89" r="1.45" fill="#5e42b1" fill-opacity="0.62"/>
<circle cx="54.29" cy="891.19" r="1.45" fill="#8a35a4" fill-opacity="0.62"/>
<circle cx="97.77" cy="891.19" r="1.45" fill="#4453be" fill-opacity="0.62"/>
<circle cx="83.67" cy="891.40" r="1.45" fill="#474dba" fill-opacity="0.62"/>
<circle cx="125.13" cy="895.17" r="1.45" fill="#b62897" fill-opacity="0.62"/>
<circle cx="183.00" cy="894.98" r="1.45" fill="#dc2079" fill-opacity="0.62"/>
<circle cx="162.72" cy="894.47" r="1.45" fill="#793aa9" fill-opacity="0.62"/>
<circle cx="67.60" cy="891.53" r="1.45" fill="#6a3fad" fill-opacity="0.62"/>
<circle cx="178.06" cy="893.41" r="1.45" fill="#316fd3" fill-opacity="0.62"/>
<circle cx="129.49" cy="894.30" r="1.45" fill="#5645b3" fill-opacity="0.62"/>
<circle cx="125.00" cy="894.98" r="1.45" fill="#b62897" fill-opacity="0.62"/>
<circle cx="459.30" cy="892.42" r="1.45" fill="#c3258c" fill-opacity="0.62"/>
<circle cx="471.26" cy="890.60" r="1.45" fill="#8137a6" fill-opacity="0.62"/>
<circle cx="419.90" cy="890.12" r="1.45" fill="#b72796" fill-opacity="0.62"/>
<circle cx="520.00" cy="892.88" r="1.45" fill="#d12282" fill-opacity="0.62"/>
<circle cx="444.42" cy="891.24" r="1.45" fill="#d6217e" fill-opacity="0.62"/>
<circle cx="495.53" cy="892.17" r="1.45" fill="#b52897" fill-opacity="0.62"/>
<circle cx="455.88" cy="893.21" r="1.45" fill="#ae2a9a" fill-opacity="0.62"/>
<circle cx="452.07" cy="892.46" r="1.45" fill="#ae2a9a" fill-opacity="0.62"/>
<circle cx="444.79" cy="891.00" r="1.45" fill="#4059c3" fill-opacity="0.62"/>
<circle cx="415.92" cy="892.19" r="1.45" fill="#cc2386" fill-opacity="0.62"/>
<circle cx="497.13" cy="892.06" r="1.45" fill="#df1f77" fill-opacity="0.62"/>
<circle cx="457.01" cy="892.01" r="1.45" fill="#b52897" fill-opacity="0.62"/>
<circle cx="443.07" cy="890.68" r="1.45" fill="#3963ca" fill-opacity="0.62"/>
<circle cx="436.09" cy="890.34" r="1.45" fill="#4452be" fill-opacity="0.62"/>
<circle cx="601.00" cy="892.04" r="1.45" fill="#5645b3" fill-opacity="0.62"/>
<circle cx="456.03" cy="892.65" r="1.45" fill="#d02282" fill-opacity="0.62"/>
<circle cx="459.29" cy="891.11" r="1.45" fill="#a12e9d" fill-opacity="0.62"/>
<circle cx="450.39" cy="892.28" r="1.45" fill="#4550bc" fill-opacity="0.62"/>
<circle cx="419.79" cy="890.84" r="1.45" fill="#c92488" fill-opacity="0.62"/>
<circle cx="430.83" cy="891.25" r="1.45" fill="#c4258b" fill-opacity="0.62"/>
<circle cx="416.33" cy="891.30" r="1.45" fill="#c3258d" fill-opacity="0.62"/>
<circle cx="561.40" cy="892.12" r="1.45" fill="#5a43b2" fill-opacity="0.62"/>
<circle cx="467.23" cy="890.34" r="1.45" fill="#5e42b1" fill-opacity="0.62"/>
<circle cx="525.00" cy="892.76" r="1.45" fill="#c82488" fill-opacity="0.62"/>
<circle cx="424.53" cy="890.50" r="1.45" fill="#b92794" fill-opacity="0.62"/>
<circle cx="430.13" cy="891.19" r="1.45" fill="#c5248b" fill-opacity="0.62"/>
<circle cx="488.28" cy="887.85" r="1.45" fill="#ca2387" fill-opacity="0.62"/>
<circle cx="440.73" cy="891.19" r="1.45" fill="#b42898" fill-opacity="0.62"/>
<circle cx="453.91" cy="890.04" r="1.45" fill="#2f73d6" fill-opacity="0.62"/>
<circle cx="502.82" cy="891.88" r="1.45" fill="#bf268f" fill-opacity="0.62"/>
<circle cx="450.44" cy="891.44" r="1.45" fill="#e21e75" fill-opacity="0.62"/>
<circle cx="444.13" cy="891.17" r="1.45" fill="#9731a0" fill-opacity="0.62"/>
<circle cx="421.74" cy="891.72" r="1.45" fill="#c2258d" fill-opacity="0.62"/>
<circle cx="430.86" cy="892.00" r="1.45" fill="#a82c9b" fill-opacity="0.62"/>
<circle cx="421.89" cy="893.39" r="1.45" fill="#9232a2" fill-opacity="0.62"/>
<circle cx="431.25" cy="892.74" r="1.45" fill="#494bb8" fill-opacity="0.62"/>
<circle cx="460.63" cy="890.49" r="1.45" fill="#be2691" fill-opacity="0.62"/>
<circle cx="503.00" cy="888.50" r="1.45" fill="#326dd2" fill-opacity="0.62"/>
<circle cx="488.88" cy="893.08" r="1.45" fill="#4b48b6" fill-opacity="0.62"/>
<circle cx="439.51" cy="890.85" r="1.45" fill="#a02e9e" fill-opacity="0.62"/>
<circle cx="425.24" cy="892.28" r="1.45" fill="#cc2385" fill-opacity="0.62"/>
<circle cx="423.21" cy="891.68" r="1.45" fill="#297cdd" fill-opacity="0.62"/>
<circle cx="413.59" cy="890.98" r="1.45" fill="#d12281" fill-opacity="0.62"/>
<circle cx="415.19" cy="890.44" r="1.45" fill="#297cdd" fill-opacity="0.62"/>
<circle cx="490.05" cy="893.17" r="1.45" fill="#cb2386" fill-opacity="0.62"/>
<circle cx="493.91" cy="892.70" r="1.45" fill="#e21e75" fill-opacity="0.62"/>
<circle cx="486.70" cy="892.02" r="1.45" fill="#5545b3" fill-opacity="0.62"/>
<circle cx="605.70" cy="893.33" r="1.45" fill="#6640ae" fill-opacity="0.62"/>
<circle cx="449.62" cy="891.29" r="1.45" fill="#dd1f78" fill-opacity="0.62"/>
<circle cx="566.00" cy="892.80" r="1.45" fill="#b02999" fill-opacity="0.62"/>
<circle cx="421.38" cy="891.54" r="1.45" fill="#4059c3" fill-opacity="0.62"/>
<circle cx="469.00" cy="890.30" r="1.45" fill="#9332a1" fill-opacity="0.62"/>
<circle cx="465.93" cy="891.74" r="1.45" fill="#d4217f" fill-opacity="0.62"/>
<circle cx="557.90" cy="892.33" r="1.45" fill="#c4258c" fill-opacity="0.62"/>
<circle cx="508.50" cy="892.92" r="1.45" fill="#9631a0" fill-opacity="0.62"/>
<circle cx="485.33" cy="889.21" r="1.45" fill="#e11f75" fill-opacity="0.62"/>
<circle cx="450.00" cy="890.52" r="1.45" fill="#c72489" fill-opacity="0.62"/>
<circle cx="419.88" cy="891.30" r="1.45" fill="#9033a2" fill-opacity="0.62"/>
<circle cx="440.49" cy="892.91" r="1.45" fill="#4058c2" fill-opacity="0.62"/>
<circle cx="418.01" cy="892.08" r="1.45" fill="#da207a" fill-opacity="0.62"/>
<circle cx="440.89" cy="891.55" r="1.45" fill="#4354bf" fill-opacity="0.62"/>
<circle cx="436.06" cy="892.32" r="1.45" fill="#4059c3" fill-opacity="0.62"/>
<circle cx="420.20" cy="885.20" r="1.45" fill="#287dde" fill-opacity="0.62"/>
<circle cx="527.50" cy="892.64" r="1.45" fill="#ce2384" fill-opacity="0.62"/>
<circle cx="452.44" cy="890.33" r="1.45" fill="#c92488" fill-opacity="0.62"/>
<circle cx="573.00" cy="893.34" r="1.45" fill="#8536a6" fill-opacity="0.62"/>
<circle cx="529.00" cy="892.43" r="1.45" fill="#e31e74" fill-opacity="0.62"/>
<circle cx="485.07" cy="889.32" r="1.45" fill="#b62796" fill-opacity="0.62"/>
<circle cx="459.25" cy="891.27" r="1.45" fill="#4a49b7" fill-opacity="0.62"/>
<circle cx="501.26" cy="892.90" r="1.45" fill="#b62897" fill-opacity="0.62"/>
<circle cx="411.94" cy="890.87" r="1.45" fill="#c4258c" fill-opacity="0.62"/>
<circle cx="424.17" cy="891.47" r="1.45" fill="#aa2b9b" fill-opacity="0.62"/>
<circle cx="465.40" cy="890.25" r="1.45" fill="#bb2793" fill-opacity="0.62"/>
<circle cx="546.00" cy="893.19" r="1.45" fill="#a12e9e" fill-opacity="0.62"/>
<circle cx="462.83" cy="891.51" r="1.45" fill="#d9207c" fill-opacity="0.62"/>
<circle cx="448.70" cy="892.67" r="1.45" fill="#b02999" fill-opacity="0.62"/>
<circle cx="452.85" cy="891.03" r="1.45" fill="#3865cc" fill-opacity="0.62"/>
<circle cx="553.20" cy="892.38" r="1.45" fill="#a22d9d" fill-opacity="0.62"/>
<circle cx="603.50" cy="892.72" r="1.45" fill="#3667ce" fill-opacity="0.62"/>
<circle cx="460.67" cy="891.22" r="1.45" fill="#6341af" fill-opacity="0.62"/>
<circle cx="449.84" cy="890.71" r="1.45" fill="#3864cb" fill-opacity="0.62"/>
<circle cx="434.39" cy="891.41" r="1.45" fill="#d5217e" fill-opacity="0.62"/>
<circle cx="487.74" cy="892.96" r="1.45" fill="#ad2a9a" fill-opacity="0.62"/>
<circle cx="439.26" cy="890.87" r="1.45" fill="#e21e74" fill-opacity="0.62"/>
<circle cx="486.33" cy="888.95" r="1.45" fill="#474ebb" fill-opacity="0.62"/>
<circle cx="463.26" cy="891.54" r="1.45" fill="#c82489" fill-opacity="0.62"/>
<circle cx="418.09" cy="891.97" r="1.45" fill="#3963ca" fill-opacity="0.62"/>
<circle cx="492.80" cy="892.52" r="1.45" fill="#9e2f9e" fill-opacity="0.62"/>
<circle cx="464.11" cy="890.60" r="1.45" fill="#9b309f" fill-opacity="0.62"/>
<circle cx="537.00" cy="893.09" r="1.45" fill="#c5258b" fill-opacity="0.62"/>
<circle cx="540.00" cy="892.77" r="1.45" fill="#ba2793" fill-opacity="0.62"/>
<circle cx="543.00" cy="893.05" r="1.45" fill="#dd1f78" fill-opacity="0.62"/>
<circle cx="441.72" cy="891.06" r="1.45" fill="#c5258b" fill-opacity="0.62"/>
<circle cx="595.20" cy="893.25" r="1.45" fill="#9033a2" fill-opacity="0.62"/>
<circle cx="425.50" cy="892.02" r="1.45" fill="#ab2b9b" fill-opacity="0.62"/>
<circle cx="423.31" cy="891.60" r="1.45" fill="#de1f78" fill-opacity="0.62"/>
<circle cx="463.74" cy="892.20" r="1.45" fill="#bb2793" fill-opacity="0.62"/>
<circle cx="580.00" cy="892.41" r="1.45" fill="#9831a0" fill-opacity="0.62"/>
<circle cx="568.00" cy="892.48" r="1.45" fill="#4452be" fill-opacity="0.62"/>
<circle cx="534.00" cy="893.07" r="1.45" fill="#5f42b0" fill-opacity="0.62"/>
<circle cx="477.23" cy="890.64" r="1.45" fill="#316fd3" fill-opacity="0.62"/>
<circle cx="460.93" cy="892.58" r="1.45" fill="#3d5dc6" fill-opacity="0.62"/>
<circle cx="426.31" cy="891.19" r="1.45" fill="#c4258c" fill-opacity="0.62"/>
<circle cx="570.50" cy="892.88" r="1.45" fill="#d12282" fill-opacity="0.62"/>
<circle cx="419.27" cy="891.89" r="1.45" fill="#9631a1" fill-opacity="0.62"/>
<circle cx="499.60" cy="892.64" r="1.45" fill="#e21e75" fill-opacity="0.62"/>
<circle cx="463.04" cy="891.42" r="1.45" fill="#336cd1" fill-opacity="0.62"/>
<circle cx="488.11" cy="887.93" r="1.45" fill="#a22e9d" fill-opacity="0.62"/>
<circle cx="428.31" cy="890.73" r="1.45" fill="#9f2e9e" fill-opacity="0.62"/>
<circle cx="455.54" cy="891.17" r="1.45" fill="#346ad0" fill-opacity="0.62"/>
<circle cx="487.31" cy="888.39" r="1.45" fill="#d22281" fill-opacity="0.62"/>
<circle cx="522.50" cy="892.27" r="1.45" fill="#7c39a8" fill-opacity="0.62"/>
<circle cx="517.00" cy="893.21" r="1.45" fill="#3071d5" fill-opacity="0.62"/>
<circle cx="503.00" cy="884.40" r="1.45" fill="#e41e73" fill-opacity="0.62"/>
<circle cx="423.04" cy="890.02" r="1.45" fill="#c92488" fill-opacity="0.62"/>
<circle cx="422.13" cy="891.36" r="1.45" fill="#4157c1" fill-opacity="0.62"/>
<circle cx="447.54" cy="890.88" r="1.45" fill="#9c2f9f" fill-opacity="0.62"/>
<circle cx="432.60" cy="892.29" r="1.45" fill="#ce2384" fill-opacity="0.62"/>
<circle cx="498.20" cy="891.95" r="1.45" fill="#474eba" fill-opacity="0.62"/>
<circle cx="428.27" cy="890.10" r="1.45" fill="#316fd4" fill-opacity="0.62"/>
<circle cx="461.98" cy="891.40" r="1.45" fill="#cb2386" fill-opacity="0.62"/>
<circle cx="455.43" cy="891.30" r="1.45" fill="#3668ce" fill-opacity="0.62"/>
<circle cx="440.73" cy="891.50" r="1.45" fill="#cc2386" fill-opacity="0.62"/>
<circle cx="512.50" cy="892.03" r="1.45" fill="#9432a1" fill-opacity="0.62"/>
<circle cx="441.26" cy="889.50" r="1.45" fill="#346bd0" fill-opacity="0.62"/>
<circle cx="473.93" cy="890.39" r="1.45" fill="#3569cf" fill-opacity="0.62"/>
<circle cx="423.33" cy="892.30" r="1.45" fill="#3766cc" fill-opacity="0.62"/>
<circle cx="441.07" cy="892.22" r="1.45" fill="#db207a" fill-opacity="0.62"/>
<circle cx="491.15" cy="893.08" r="1.45" fill="#e41e73" fill-opacity="0.62"/>
<circle cx="434.86" cy="890.85" r="1.45" fill="#4e47b5" fill-opacity="0.62"/>
<circle cx="441.34" cy="891.28" r="1.45" fill="#db207a" fill-opacity="0.62"/>
<circle cx="549.70" cy="892.99" r="1.45" fill="#4a49b7" fill-opacity="0.62"/>
<circle cx="510.50" cy="884.40" r="1.45" fill="#8038a7" fill-opacity="0.35"/>
<circle cx="514.50" cy="884.40" r="1.45" fill="#8038a7" fill-opacity="0.35"/>
<circle cx="510.50" cy="888.50" r="1.45" fill="#8038a7" fill-opacity="0.35"/>
<circle cx="514.50" cy="888.50" r="1.45" fill="#8038a7" fill-opacity="0.35"/>
</g>
</svg>
</body></html>
